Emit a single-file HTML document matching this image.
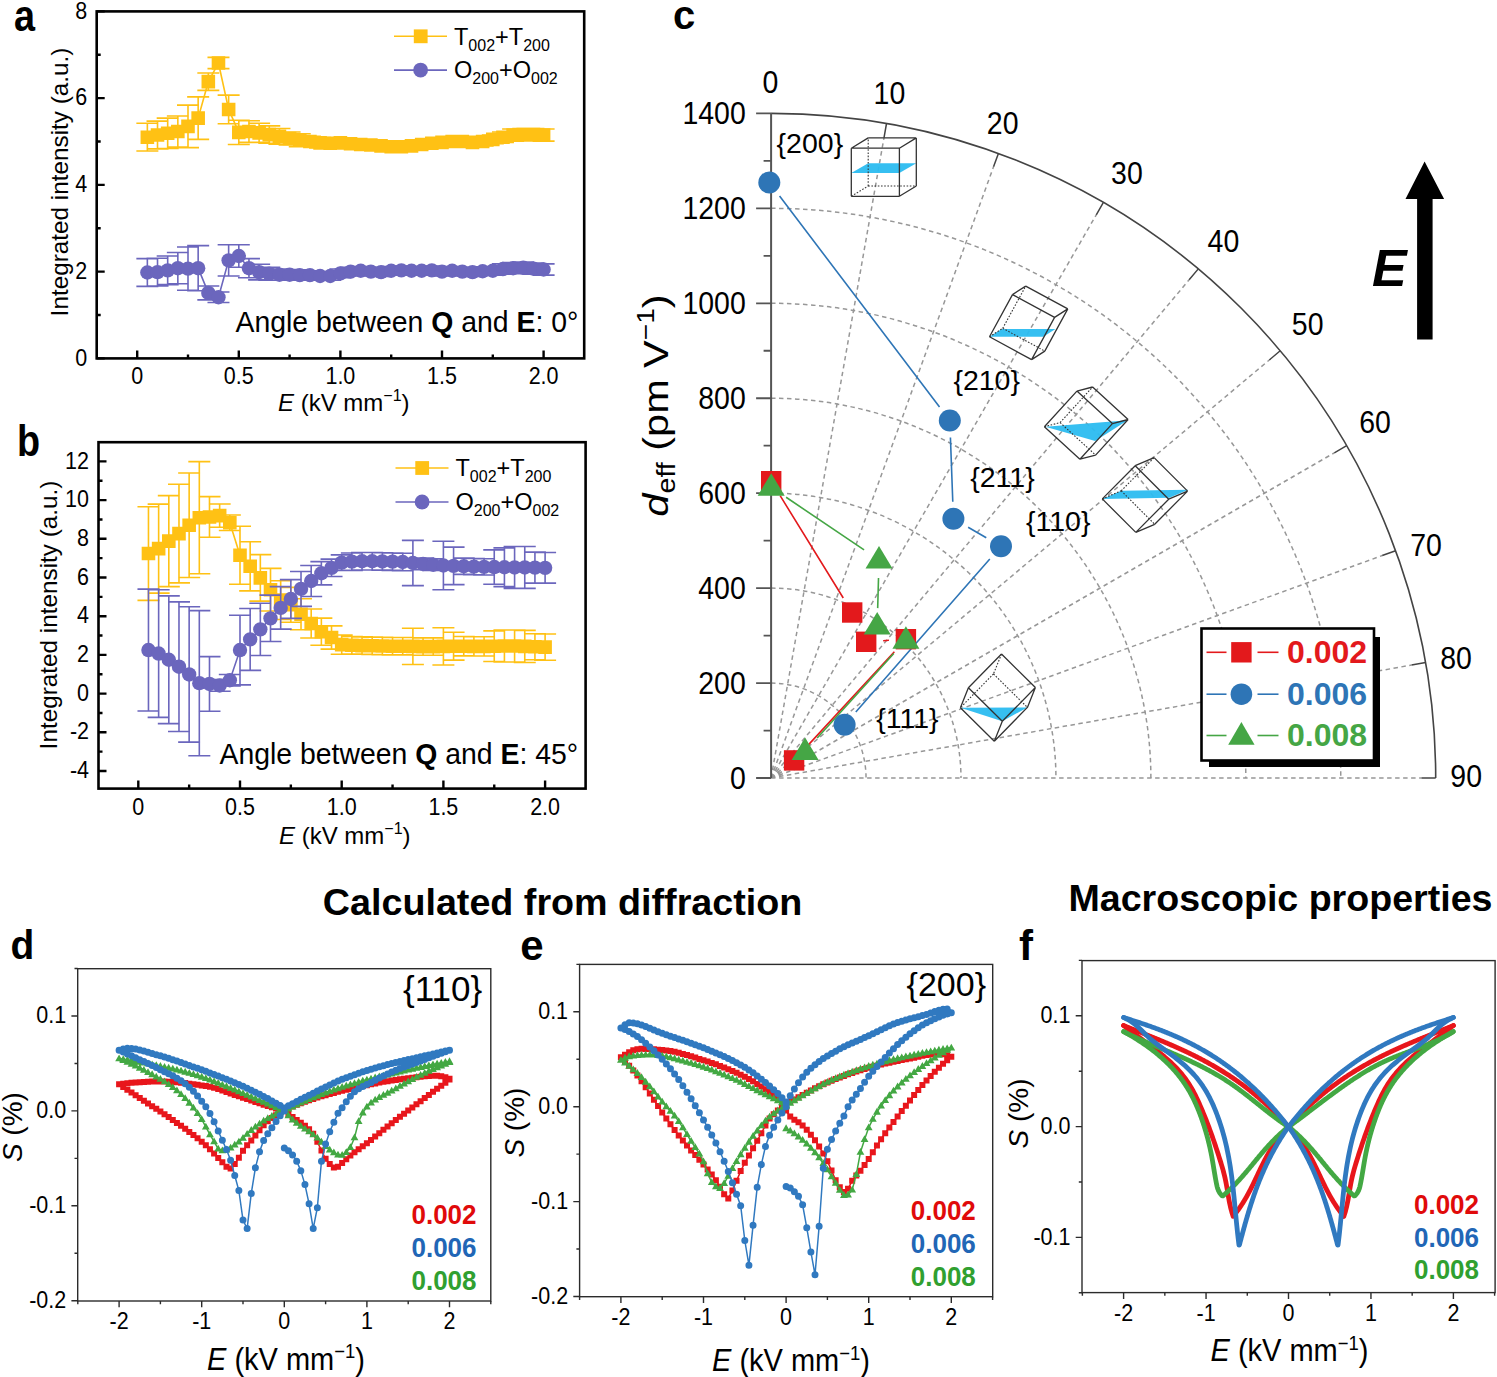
<!DOCTYPE html>
<html><head><meta charset="utf-8"><style>
html,body{margin:0;padding:0;background:#fff;}
svg{display:block;}
svg text{font-family:"Liberation Sans",sans-serif;}
</style></head><body>
<svg width="1497" height="1377" viewBox="0 0 1497 1377">
<rect width="1497" height="1377" fill="#fff"/>
<path d="M147.36,123.31V151.07M136.36,123.31h22M136.36,151.07h22M157.52,121.14V148.9M146.52,121.14h22M146.52,148.9h22M167.68,118.1V148.46M156.68,118.1h22M156.68,148.46h22M177.84,115.93V147.16M166.84,115.93h22M166.84,147.16h22M188,105.09V147.6M177,105.09h22M177,147.6h22M198.16,96.85V139.36M187.16,96.85h22M187.16,139.36h22M208.32,72.99V90.34M197.32,72.99h22M197.32,90.34h22M218.48,57.38V68.66M207.48,57.38h22M207.48,68.66h22M228.64,95.11V123.74M217.64,95.11h22M217.64,123.74h22M238.8,120.27V144.56M227.8,120.27h22M227.8,144.56h22M248.96,120.7V142.39M237.96,120.7h22M237.96,142.39h22M259.12,123.31V142.39M248.12,123.31h22M248.12,142.39h22M269.28,125.91V143.26M258.28,125.91h22M258.28,143.26h22M279.44,128.51V144.13M268.44,128.51h22M268.44,144.13h22M289.6,131.98V144.99M278.6,131.98h22M278.6,144.99h22M299.76,133.72V146.73M288.76,133.72h22M288.76,146.73h22M309.92,136.32V146.73M298.92,136.32h22M298.92,146.73h22M320.08,137.62V148.03M309.08,137.62h22M309.08,148.03h22M330.24,138.92V147.6M319.24,138.92h22M319.24,147.6h22M340.4,138.49V147.16M329.4,138.49h22M329.4,147.16h22M350.56,139.36V148.03M339.56,139.36h22M339.56,148.03h22M360.72,140.22V148.9M349.72,140.22h22M349.72,148.9h22M370.88,140.66V149.33M359.88,140.66h22M359.88,149.33h22M381.04,141.52V150.2M370.04,141.52h22M370.04,150.2h22M391.2,142.39V151.07M380.2,142.39h22M380.2,151.07h22M401.36,142.39V151.07M390.36,142.39h22M390.36,151.07h22M411.52,141.52V150.2M400.52,141.52h22M400.52,150.2h22M421.68,140.22V148.9M410.68,140.22h22M410.68,148.9h22M431.84,138.92V147.6M420.84,138.92h22M420.84,147.6h22M442,138.05V146.73M431,138.05h22M431,146.73h22M452.16,137.19V145.86M441.16,137.19h22M441.16,145.86h22M462.32,137.19V145.86M451.32,137.19h22M451.32,145.86h22M472.48,138.05V146.73M461.48,138.05h22M461.48,146.73h22M482.64,137.19V145.86M471.64,137.19h22M471.64,145.86h22M492.8,135.02V143.69M481.8,135.02h22M481.8,143.69h22M502.96,131.98V142.39M491.96,131.98h22M491.96,142.39h22M513.12,128.95V141.09M502.12,128.95h22M502.12,141.09h22M523.28,128.51V140.66M512.28,128.51h22M512.28,140.66h22M533.44,128.51V140.66M522.44,128.51h22M522.44,140.66h22M543.6,128.95V141.09M532.6,128.95h22M532.6,141.09h22" stroke="#FFC114" stroke-width="1.6" fill="none"/>
<polyline points="147.36,137.19 157.52,135.02 167.68,133.28 177.84,131.55 188,126.34 198.16,118.1 208.32,81.67 218.48,63.02 228.64,109.43 238.8,132.42 248.96,131.55 259.12,132.85 269.28,134.58 279.44,136.32 289.6,138.49 299.76,140.22 309.92,141.52 320.08,142.83 330.24,143.26 340.4,142.83 350.56,143.69 360.72,144.56 370.88,144.99 381.04,145.86 391.2,146.73 401.36,146.73 411.52,145.86 421.68,144.56 431.84,143.26 442,142.39 452.16,141.52 462.32,141.52 472.48,142.39 482.64,141.52 492.8,139.36 502.96,137.19 513.12,135.02 523.28,134.58 533.44,134.58 543.6,135.02" stroke="#FFC114" fill="none" stroke-width="1.6" />
<path d="M140.56,130.39h13.6v13.6h-13.6zM150.72,128.22h13.6v13.6h-13.6zM160.88,126.48h13.6v13.6h-13.6zM171.04,124.75h13.6v13.6h-13.6zM181.2,119.54h13.6v13.6h-13.6zM191.36,111.3h13.6v13.6h-13.6zM201.52,74.87h13.6v13.6h-13.6zM211.68,56.22h13.6v13.6h-13.6zM221.84,102.63h13.6v13.6h-13.6zM232,125.62h13.6v13.6h-13.6zM242.16,124.75h13.6v13.6h-13.6zM252.32,126.05h13.6v13.6h-13.6zM262.48,127.78h13.6v13.6h-13.6zM272.64,129.52h13.6v13.6h-13.6zM282.8,131.69h13.6v13.6h-13.6zM292.96,133.42h13.6v13.6h-13.6zM303.12,134.72h13.6v13.6h-13.6zM313.28,136.03h13.6v13.6h-13.6zM323.44,136.46h13.6v13.6h-13.6zM333.6,136.03h13.6v13.6h-13.6zM343.76,136.89h13.6v13.6h-13.6zM353.92,137.76h13.6v13.6h-13.6zM364.08,138.19h13.6v13.6h-13.6zM374.24,139.06h13.6v13.6h-13.6zM384.4,139.93h13.6v13.6h-13.6zM394.56,139.93h13.6v13.6h-13.6zM404.72,139.06h13.6v13.6h-13.6zM414.88,137.76h13.6v13.6h-13.6zM425.04,136.46h13.6v13.6h-13.6zM435.2,135.59h13.6v13.6h-13.6zM445.36,134.72h13.6v13.6h-13.6zM455.52,134.72h13.6v13.6h-13.6zM465.68,135.59h13.6v13.6h-13.6zM475.84,134.72h13.6v13.6h-13.6zM486,132.56h13.6v13.6h-13.6zM496.16,130.39h13.6v13.6h-13.6zM506.32,128.22h13.6v13.6h-13.6zM516.48,127.78h13.6v13.6h-13.6zM526.64,127.78h13.6v13.6h-13.6zM536.8,128.22h13.6v13.6h-13.6z" fill="#FFC114"/>
<path d="M147.36,258.64V286.4M136.36,258.64h22M136.36,286.4h22M157.52,258.2V285.96M146.52,258.2h22M146.52,285.96h22M167.68,256.03V284.66M156.68,256.03h22M156.68,284.66h22M177.84,252.56V283.79M166.84,252.56h22M166.84,283.79h22M188,246.93V290.3M177,246.93h22M177,290.3h22M198.16,245.62V290.73M187.16,245.62h22M187.16,290.73h22M208.32,285.96V299.84M197.32,285.96h22M197.32,299.84h22M218.48,292.04V302.45M207.48,292.04h22M207.48,302.45h22M228.64,244.76V275.99M217.64,244.76h22M217.64,275.99h22M238.8,244.76V267.31M227.8,244.76h22M227.8,267.31h22M248.96,258.64V277.72M237.96,258.64h22M237.96,277.72h22M259.12,264.28V279.89M248.12,264.28h22M248.12,279.89h22M269.28,267.31V280.32M258.28,267.31h22M258.28,280.32h22M279.44,269.05V280.32M268.44,269.05h22M268.44,280.32h22M289.6,269.48V279.89M278.6,269.48h22M278.6,279.89h22M299.76,269.92V280.32M288.76,269.92h22M288.76,280.32h22M309.92,270.78V279.46M298.92,270.78h22M298.92,279.46h22M320.08,271.65V280.32M309.08,271.65h22M309.08,280.32h22M330.24,271.65V280.32M319.24,271.65h22M319.24,280.32h22M340.4,269.05V277.72M329.4,269.05h22M329.4,277.72h22M350.56,267.31V275.99M339.56,267.31h22M339.56,275.99h22M360.72,266.44V275.12M349.72,266.44h22M349.72,275.12h22M370.88,267.31V275.99M359.88,267.31h22M359.88,275.99h22M381.04,267.75V276.42M370.04,267.75h22M370.04,276.42h22M391.2,266.44V275.12M380.2,266.44h22M380.2,275.12h22M401.36,266.01V274.69M390.36,266.01h22M390.36,274.69h22M411.52,266.44V275.12M400.52,266.44h22M400.52,275.12h22M421.68,266.44V275.12M410.68,266.44h22M410.68,275.12h22M431.84,266.01V274.69M420.84,266.01h22M420.84,274.69h22M442,267.31V275.99M431,267.31h22M431,275.99h22M452.16,266.44V275.12M441.16,266.44h22M441.16,275.12h22M462.32,267.31V275.99M451.32,267.31h22M451.32,275.99h22M472.48,267.75V276.42M461.48,267.75h22M461.48,276.42h22M482.64,266.88V275.55M471.64,266.88h22M471.64,275.55h22M492.8,266.44V275.12M481.8,266.44h22M481.8,275.12h22M502.96,263.84V274.25M491.96,263.84h22M491.96,274.25h22M513.12,262.54V273.82M502.12,262.54h22M502.12,273.82h22M523.28,262.11V273.38M512.28,262.11h22M512.28,273.38h22M533.44,262.97V274.25M522.44,262.97h22M522.44,274.25h22M543.6,263.84V275.12M532.6,263.84h22M532.6,275.12h22" stroke="#6B66BD" stroke-width="1.6" fill="none"/>
<polyline points="147.36,272.52 157.52,272.08 167.68,270.35 177.84,268.18 188,268.61 198.16,268.18 208.32,292.9 218.48,297.24 228.64,260.37 238.8,256.03 248.96,268.18 259.12,272.08 269.28,273.82 279.44,274.69 289.6,274.69 299.76,275.12 309.92,275.12 320.08,275.99 330.24,275.99 340.4,273.38 350.56,271.65 360.72,270.78 370.88,271.65 381.04,272.08 391.2,270.78 401.36,270.35 411.52,270.78 421.68,270.78 431.84,270.35 442,271.65 452.16,270.78 462.32,271.65 472.48,272.08 482.64,271.22 492.8,270.78 502.96,269.05 513.12,268.18 523.28,267.75 533.44,268.61 543.6,269.48" stroke="#6B66BD" fill="none" stroke-width="1.6" />
<circle cx="147.36" cy="272.52" r="7.2" fill="#6B66BD"/>
<circle cx="157.52" cy="272.08" r="7.2" fill="#6B66BD"/>
<circle cx="167.68" cy="270.35" r="7.2" fill="#6B66BD"/>
<circle cx="177.84" cy="268.18" r="7.2" fill="#6B66BD"/>
<circle cx="188" cy="268.61" r="7.2" fill="#6B66BD"/>
<circle cx="198.16" cy="268.18" r="7.2" fill="#6B66BD"/>
<circle cx="208.32" cy="292.9" r="7.2" fill="#6B66BD"/>
<circle cx="218.48" cy="297.24" r="7.2" fill="#6B66BD"/>
<circle cx="228.64" cy="260.37" r="7.2" fill="#6B66BD"/>
<circle cx="238.8" cy="256.03" r="7.2" fill="#6B66BD"/>
<circle cx="248.96" cy="268.18" r="7.2" fill="#6B66BD"/>
<circle cx="259.12" cy="272.08" r="7.2" fill="#6B66BD"/>
<circle cx="269.28" cy="273.82" r="7.2" fill="#6B66BD"/>
<circle cx="279.44" cy="274.69" r="7.2" fill="#6B66BD"/>
<circle cx="289.6" cy="274.69" r="7.2" fill="#6B66BD"/>
<circle cx="299.76" cy="275.12" r="7.2" fill="#6B66BD"/>
<circle cx="309.92" cy="275.12" r="7.2" fill="#6B66BD"/>
<circle cx="320.08" cy="275.99" r="7.2" fill="#6B66BD"/>
<circle cx="330.24" cy="275.99" r="7.2" fill="#6B66BD"/>
<circle cx="340.4" cy="273.38" r="7.2" fill="#6B66BD"/>
<circle cx="350.56" cy="271.65" r="7.2" fill="#6B66BD"/>
<circle cx="360.72" cy="270.78" r="7.2" fill="#6B66BD"/>
<circle cx="370.88" cy="271.65" r="7.2" fill="#6B66BD"/>
<circle cx="381.04" cy="272.08" r="7.2" fill="#6B66BD"/>
<circle cx="391.2" cy="270.78" r="7.2" fill="#6B66BD"/>
<circle cx="401.36" cy="270.35" r="7.2" fill="#6B66BD"/>
<circle cx="411.52" cy="270.78" r="7.2" fill="#6B66BD"/>
<circle cx="421.68" cy="270.78" r="7.2" fill="#6B66BD"/>
<circle cx="431.84" cy="270.35" r="7.2" fill="#6B66BD"/>
<circle cx="442" cy="271.65" r="7.2" fill="#6B66BD"/>
<circle cx="452.16" cy="270.78" r="7.2" fill="#6B66BD"/>
<circle cx="462.32" cy="271.65" r="7.2" fill="#6B66BD"/>
<circle cx="472.48" cy="272.08" r="7.2" fill="#6B66BD"/>
<circle cx="482.64" cy="271.22" r="7.2" fill="#6B66BD"/>
<circle cx="492.8" cy="270.78" r="7.2" fill="#6B66BD"/>
<circle cx="502.96" cy="269.05" r="7.2" fill="#6B66BD"/>
<circle cx="513.12" cy="268.18" r="7.2" fill="#6B66BD"/>
<circle cx="523.28" cy="267.75" r="7.2" fill="#6B66BD"/>
<circle cx="533.44" cy="268.61" r="7.2" fill="#6B66BD"/>
<circle cx="543.6" cy="269.48" r="7.2" fill="#6B66BD"/>
<rect x="96.7" y="11.4" width="487.5" height="347" fill="none" stroke="#000" stroke-width="2.6"/>
<path d="M137.2,358.4v-8M188,358.4v-4M238.8,358.4v-8M289.6,358.4v-4M340.4,358.4v-8M391.2,358.4v-4M442,358.4v-8M492.8,358.4v-4M543.6,358.4v-8M96.7,358.4h8M96.7,271.65h8M96.7,184.9h8M96.7,98.15h8M96.7,11.4h8M96.7,315.02h4M96.7,228.27h4M96.7,141.52h4M96.7,54.77h4" stroke="#000" stroke-width="2.4" fill="none"/>
<text x="137.2" y="384.5" font-size="21.5" text-anchor="middle" transform="matrix(1,0,0,1.1,0,-38.45)">0</text>
<text x="238.8" y="384.5" font-size="21.5" text-anchor="middle" transform="matrix(1,0,0,1.1,0,-38.45)">0.5</text>
<text x="340.4" y="384.5" font-size="21.5" text-anchor="middle" transform="matrix(1,0,0,1.1,0,-38.45)">1.0</text>
<text x="442" y="384.5" font-size="21.5" text-anchor="middle" transform="matrix(1,0,0,1.1,0,-38.45)">1.5</text>
<text x="543.6" y="384.5" font-size="21.5" text-anchor="middle" transform="matrix(1,0,0,1.1,0,-38.45)">2.0</text>
<text x="87.2" y="365.6" font-size="21.5" text-anchor="end" transform="matrix(1,0,0,1.1,0,-36.56)">0</text>
<text x="87.2" y="278.85" font-size="21.5" text-anchor="end" transform="matrix(1,0,0,1.1,0,-27.89)">2</text>
<text x="87.2" y="192.1" font-size="21.5" text-anchor="end" transform="matrix(1,0,0,1.1,0,-19.21)">4</text>
<text x="87.2" y="105.35" font-size="21.5" text-anchor="end" transform="matrix(1,0,0,1.1,0,-10.54)">6</text>
<text x="87.2" y="18.6" font-size="21.5" text-anchor="end" transform="matrix(1,0,0,1.1,0,-1.86)">8</text>
<text transform="translate(67.5,182) rotate(-90)" font-size="24.3" text-anchor="middle">Integrated intensity (a.u.)</text>
<text x="278" y="410.5" font-size="24"><tspan font-style="italic">E</tspan> (kV mm<tspan font-size="16" dy="-10">&#8722;1</tspan><tspan dy="10">)</tspan></text>
<line x1="394" y1="36.3" x2="447" y2="36.3" stroke="#FFC114" stroke-width="1.6" />
<rect x="413.8" y="29.4" width="13.8" height="13.8" fill="#FFC114"/>
<text x="454" y="44.6" font-size="23.5">T<tspan font-size="16" dy="6">002</tspan><tspan dy="-6">+T</tspan><tspan font-size="16" dy="6">200</tspan></text>
<line x1="394" y1="70.1" x2="447" y2="70.1" stroke="#6B66BD" stroke-width="1.6" />
<circle cx="420.6" cy="70.1" r="7.4" fill="#6B66BD"/>
<text x="454" y="78.4" font-size="23.5">O<tspan font-size="16" dy="6">200</tspan><tspan dy="-6">+O</tspan><tspan font-size="16" dy="6">002</tspan></text>
<text x="235.5" y="332.5" font-size="28.4" transform="matrix(1,0,0,1.07,0,-23.28)">Angle between <tspan font-weight="bold">Q</tspan> and <tspan font-weight="bold">E</tspan>: 0°</text>
<text x="14" y="30.6" font-size="44" font-weight="bold" transform="translate(14,0) scale(0.86,1) translate(-14,0)">a</text>
<path d="M148.47,506.68V600.33M137.47,506.68h22M137.47,600.33h22M158.64,504.16V593.17M147.64,504.16h22M147.64,593.17h22M168.81,495.65V586.59M157.81,495.65h22M157.81,586.59h22M178.98,484.23V582.92M167.98,484.23h22M167.98,582.92h22M189.15,473.01V577.5M178.15,473.01h22M178.15,577.5h22M199.32,461.59V573.82M188.32,461.59h22M188.32,573.82h22M209.49,496.62V537.25M198.49,496.62h22M198.49,537.25h22M219.66,503.97V527.19M208.66,503.97h22M208.66,527.19h22M229.83,515V530.48M218.83,515h22M218.83,530.48h22M240,526.22V584.27M229,526.22h22M229,584.27h22M250.17,541.7V590.85M239.17,541.7h22M239.17,590.85h22M260.34,554.67V601.11M249.34,554.67h22M249.34,601.11h22M270.51,568.41V610.98M259.51,568.41h22M259.51,610.98h22M280.68,580.79V619.49M269.68,580.79h22M269.68,619.49h22M290.85,587.37V622.2M279.85,587.37h22M279.85,622.2h22M301.02,598.78V629.75M290.02,598.78h22M290.02,629.75h22M311.19,609.04V638.07M300.19,609.04h22M300.19,638.07h22M321.36,618.14V645.23M310.36,618.14h22M310.36,645.23h22M331.53,625.88V649.1M320.53,625.88h22M320.53,649.1h22M341.7,634.97V654.32M330.7,634.97h22M330.7,654.32h22M351.87,636.52V653.93M340.87,636.52h22M340.87,653.93h22M362.04,636.9V654.32M351.04,636.9h22M351.04,654.32h22M372.21,637.1V654.51M361.21,637.1h22M361.21,654.51h22M382.38,637.29V654.71M371.38,637.29h22M371.38,654.71h22M392.55,637.49V654.9M381.55,637.49h22M381.55,654.9h22M402.72,637.49V654.9M391.72,637.49h22M391.72,654.9h22M412.89,628.2V664.57M401.89,628.2h22M401.89,664.57h22M423.06,637.87V655.29M412.06,637.87h22M412.06,655.29h22M433.23,637.87V655.29M422.23,637.87h22M422.23,655.29h22M443.4,627.81V664.96M432.4,627.81h22M432.4,664.96h22M453.57,632.26V660.12M442.57,632.26h22M442.57,660.12h22M463.74,636.52V655.87M452.74,636.52h22M452.74,655.87h22M473.91,636.71V656.06M462.91,636.71h22M462.91,656.06h22M484.08,636.71V656.06M473.08,636.71h22M473.08,656.06h22M494.25,630.91V661.48M483.25,630.91h22M483.25,661.48h22M504.42,629.94V662.06M493.42,629.94h22M493.42,662.06h22M514.59,629.94V662.06M503.59,629.94h22M503.59,662.06h22M524.76,630.33V662.45M513.76,630.33h22M513.76,662.45h22M534.93,633.81V659.74M523.93,633.81h22M523.93,659.74h22M545.1,634V660.32M534.1,634h22M534.1,660.32h22" stroke="#FFC114" stroke-width="1.6" fill="none"/>
<polyline points="148.47,553.51 158.64,548.67 168.81,541.12 178.98,533.58 189.15,525.25 199.32,517.71 209.49,516.93 219.66,515.58 229.83,522.74 240,555.25 250.17,566.28 260.34,577.89 270.51,589.69 280.68,600.14 290.85,604.78 301.02,614.26 311.19,623.55 321.36,631.68 331.53,637.49 341.7,644.64 351.87,645.23 362.04,645.61 372.21,645.81 382.38,646 392.55,646.19 402.72,646.19 412.89,646.39 423.06,646.58 433.23,646.58 443.4,646.39 453.57,646.19 463.74,646.19 473.91,646.39 484.08,646.39 494.25,646.19 504.42,646 514.59,646 524.76,646.39 534.93,646.77 545.1,647.16" stroke="#FFC114" fill="none" stroke-width="1.6" />
<path d="M141.67,546.71h13.6v13.6h-13.6zM151.84,541.87h13.6v13.6h-13.6zM162.01,534.32h13.6v13.6h-13.6zM172.18,526.78h13.6v13.6h-13.6zM182.35,518.46h13.6v13.6h-13.6zM192.52,510.91h13.6v13.6h-13.6zM202.69,510.13h13.6v13.6h-13.6zM212.86,508.78h13.6v13.6h-13.6zM223.03,515.94h13.6v13.6h-13.6zM233.2,548.45h13.6v13.6h-13.6zM243.37,559.48h13.6v13.6h-13.6zM253.54,571.09h13.6v13.6h-13.6zM263.71,582.89h13.6v13.6h-13.6zM273.88,593.34h13.6v13.6h-13.6zM284.05,597.98h13.6v13.6h-13.6zM294.22,607.47h13.6v13.6h-13.6zM304.39,616.75h13.6v13.6h-13.6zM314.56,624.88h13.6v13.6h-13.6zM324.73,630.69h13.6v13.6h-13.6zM334.9,637.84h13.6v13.6h-13.6zM345.07,638.43h13.6v13.6h-13.6zM355.24,638.81h13.6v13.6h-13.6zM365.41,639.01h13.6v13.6h-13.6zM375.58,639.2h13.6v13.6h-13.6zM385.75,639.39h13.6v13.6h-13.6zM395.92,639.39h13.6v13.6h-13.6zM406.09,639.59h13.6v13.6h-13.6zM416.26,639.78h13.6v13.6h-13.6zM426.43,639.78h13.6v13.6h-13.6zM436.6,639.59h13.6v13.6h-13.6zM446.77,639.39h13.6v13.6h-13.6zM456.94,639.39h13.6v13.6h-13.6zM467.11,639.59h13.6v13.6h-13.6zM477.28,639.59h13.6v13.6h-13.6zM487.45,639.39h13.6v13.6h-13.6zM497.62,639.2h13.6v13.6h-13.6zM507.79,639.2h13.6v13.6h-13.6zM517.96,639.59h13.6v13.6h-13.6zM528.13,639.97h13.6v13.6h-13.6zM538.3,640.36h13.6v13.6h-13.6z" fill="#FFC114"/>
<path d="M148.47,589.11V711.01M137.47,589.11h22M137.47,711.01h22M158.64,589.69V717.4M147.64,589.69h22M147.64,717.4h22M168.81,595.88V723.59M157.81,595.88h22M157.81,723.59h22M178.98,601.88V731.53M167.98,601.88h22M167.98,731.53h22M189.15,606.72V742.17M178.15,606.72h22M178.15,742.17h22M199.32,610.59V755.71M188.32,610.59h22M188.32,755.71h22M209.49,656.64V711.21M198.49,656.64h22M198.49,711.21h22M219.66,679.67V691.28M208.66,679.67h22M208.66,691.28h22M229.83,674.44V686.05M218.83,674.44h22M218.83,686.05h22M240,615.23V684.89M229,615.23h22M229,684.89h22M250.17,608.46V670.38M239.17,608.46h22M239.17,670.38h22M260.34,603.24V655.48M249.34,603.24h22M249.34,655.48h22M270.51,595.11V641.55M259.51,595.11h22M259.51,641.55h22M280.68,586.59V629.16M269.68,586.59h22M269.68,629.16h22M290.85,579.63V618.33M279.85,579.63h22M279.85,618.33h22M301.02,571.5V606.33M290.02,571.5h22M290.02,606.33h22M311.19,565.5V596.46M300.19,565.5h22M300.19,596.46h22M321.36,561.63V584.85M310.36,561.63h22M310.36,584.85h22M331.53,559.12V576.53M320.53,559.12h22M320.53,576.53h22M341.7,554.86V570.34M330.7,554.86h22M330.7,570.34h22M351.87,552.93V570.34M340.87,552.93h22M340.87,570.34h22M362.04,552.54V569.95M351.04,552.54h22M351.04,569.95h22M372.21,552.54V569.95M361.21,552.54h22M361.21,569.95h22M382.38,552.73V570.15M371.38,552.73h22M371.38,570.15h22M392.55,552.93V570.34M381.55,552.93h22M381.55,570.34h22M402.72,553.31V570.73M391.72,553.31h22M391.72,570.73h22M412.89,540.35V585.63M401.89,540.35h22M401.89,585.63h22M423.06,558.15V569.76M412.06,558.15h22M412.06,569.76h22M433.23,558.92V570.53M422.23,558.92h22M422.23,570.53h22M443.4,541.32V589.69M432.4,541.32h22M432.4,589.69h22M453.57,547.12V584.66M442.57,547.12h22M442.57,584.66h22M463.74,558.15V574.4M452.74,558.15h22M452.74,574.4h22M473.91,558.54V574.79M462.91,558.54h22M462.91,574.79h22M484.08,558.73V574.98M473.08,558.73h22M473.08,574.98h22M494.25,549.83V584.27M483.25,549.83h22M483.25,584.27h22M504.42,547.89V586.59M493.42,547.89h22M493.42,586.59h22M514.59,546.54V588.34M503.59,546.54h22M503.59,588.34h22M524.76,546.54V588.34M513.76,546.54h22M513.76,588.34h22M534.93,552.15V583.11M523.93,552.15h22M523.93,583.11h22M545.1,552.54V583.11M534.1,552.54h22M534.1,583.11h22" stroke="#6B66BD" stroke-width="1.6" fill="none"/>
<polyline points="148.47,650.06 158.64,653.55 168.81,659.74 178.98,666.7 189.15,674.44 199.32,683.15 209.49,683.93 219.66,685.47 229.83,680.25 240,650.06 250.17,639.42 260.34,629.36 270.51,618.33 280.68,607.88 290.85,598.98 301.02,588.92 311.19,580.98 321.36,573.24 331.53,567.83 341.7,562.6 351.87,561.63 362.04,561.25 372.21,561.25 382.38,561.44 392.55,561.63 402.72,562.02 412.89,562.99 423.06,563.96 433.23,564.73 443.4,565.5 453.57,565.89 463.74,566.28 473.91,566.66 484.08,566.86 494.25,567.05 504.42,567.24 514.59,567.44 524.76,567.44 534.93,567.63 545.1,567.83" stroke="#6B66BD" fill="none" stroke-width="1.6" />
<circle cx="148.47" cy="650.06" r="7.2" fill="#6B66BD"/>
<circle cx="158.64" cy="653.55" r="7.2" fill="#6B66BD"/>
<circle cx="168.81" cy="659.74" r="7.2" fill="#6B66BD"/>
<circle cx="178.98" cy="666.7" r="7.2" fill="#6B66BD"/>
<circle cx="189.15" cy="674.44" r="7.2" fill="#6B66BD"/>
<circle cx="199.32" cy="683.15" r="7.2" fill="#6B66BD"/>
<circle cx="209.49" cy="683.93" r="7.2" fill="#6B66BD"/>
<circle cx="219.66" cy="685.47" r="7.2" fill="#6B66BD"/>
<circle cx="229.83" cy="680.25" r="7.2" fill="#6B66BD"/>
<circle cx="240" cy="650.06" r="7.2" fill="#6B66BD"/>
<circle cx="250.17" cy="639.42" r="7.2" fill="#6B66BD"/>
<circle cx="260.34" cy="629.36" r="7.2" fill="#6B66BD"/>
<circle cx="270.51" cy="618.33" r="7.2" fill="#6B66BD"/>
<circle cx="280.68" cy="607.88" r="7.2" fill="#6B66BD"/>
<circle cx="290.85" cy="598.98" r="7.2" fill="#6B66BD"/>
<circle cx="301.02" cy="588.92" r="7.2" fill="#6B66BD"/>
<circle cx="311.19" cy="580.98" r="7.2" fill="#6B66BD"/>
<circle cx="321.36" cy="573.24" r="7.2" fill="#6B66BD"/>
<circle cx="331.53" cy="567.83" r="7.2" fill="#6B66BD"/>
<circle cx="341.7" cy="562.6" r="7.2" fill="#6B66BD"/>
<circle cx="351.87" cy="561.63" r="7.2" fill="#6B66BD"/>
<circle cx="362.04" cy="561.25" r="7.2" fill="#6B66BD"/>
<circle cx="372.21" cy="561.25" r="7.2" fill="#6B66BD"/>
<circle cx="382.38" cy="561.44" r="7.2" fill="#6B66BD"/>
<circle cx="392.55" cy="561.63" r="7.2" fill="#6B66BD"/>
<circle cx="402.72" cy="562.02" r="7.2" fill="#6B66BD"/>
<circle cx="412.89" cy="562.99" r="7.2" fill="#6B66BD"/>
<circle cx="423.06" cy="563.96" r="7.2" fill="#6B66BD"/>
<circle cx="433.23" cy="564.73" r="7.2" fill="#6B66BD"/>
<circle cx="443.4" cy="565.5" r="7.2" fill="#6B66BD"/>
<circle cx="453.57" cy="565.89" r="7.2" fill="#6B66BD"/>
<circle cx="463.74" cy="566.28" r="7.2" fill="#6B66BD"/>
<circle cx="473.91" cy="566.66" r="7.2" fill="#6B66BD"/>
<circle cx="484.08" cy="566.86" r="7.2" fill="#6B66BD"/>
<circle cx="494.25" cy="567.05" r="7.2" fill="#6B66BD"/>
<circle cx="504.42" cy="567.24" r="7.2" fill="#6B66BD"/>
<circle cx="514.59" cy="567.44" r="7.2" fill="#6B66BD"/>
<circle cx="524.76" cy="567.44" r="7.2" fill="#6B66BD"/>
<circle cx="534.93" cy="567.63" r="7.2" fill="#6B66BD"/>
<circle cx="545.1" cy="567.83" r="7.2" fill="#6B66BD"/>
<rect x="98.5" y="442.2" width="487.1" height="346.4" fill="none" stroke="#000" stroke-width="2.6"/>
<path d="M138.3,788.6v-8M189.15,788.6v-4M240,788.6v-8M290.85,788.6v-4M341.7,788.6v-8M392.55,788.6v-4M443.4,788.6v-8M494.25,788.6v-4M545.1,788.6v-8M98.5,771h8M98.5,732.3h8M98.5,693.6h8M98.5,654.9h8M98.5,616.2h8M98.5,577.5h8M98.5,538.8h8M98.5,500.1h8M98.5,461.4h8M98.5,751.65h4M98.5,712.95h4M98.5,674.25h4M98.5,635.55h4M98.5,596.85h4M98.5,558.15h4M98.5,519.45h4M98.5,480.75h4" stroke="#000" stroke-width="2.4" fill="none"/>
<text x="138.3" y="814.7" font-size="21.5" text-anchor="middle" transform="matrix(1,0,0,1.1,0,-81.47)">0</text>
<text x="240" y="814.7" font-size="21.5" text-anchor="middle" transform="matrix(1,0,0,1.1,0,-81.47)">0.5</text>
<text x="341.7" y="814.7" font-size="21.5" text-anchor="middle" transform="matrix(1,0,0,1.1,0,-81.47)">1.0</text>
<text x="443.4" y="814.7" font-size="21.5" text-anchor="middle" transform="matrix(1,0,0,1.1,0,-81.47)">1.5</text>
<text x="545.1" y="814.7" font-size="21.5" text-anchor="middle" transform="matrix(1,0,0,1.1,0,-81.47)">2.0</text>
<text x="89" y="778.2" font-size="21.5" text-anchor="end" transform="matrix(1,0,0,1.1,0,-77.82)">-4</text>
<text x="89" y="739.5" font-size="21.5" text-anchor="end" transform="matrix(1,0,0,1.1,0,-73.95)">-2</text>
<text x="89" y="700.8" font-size="21.5" text-anchor="end" transform="matrix(1,0,0,1.1,0,-70.08)">0</text>
<text x="89" y="662.1" font-size="21.5" text-anchor="end" transform="matrix(1,0,0,1.1,0,-66.21)">2</text>
<text x="89" y="623.4" font-size="21.5" text-anchor="end" transform="matrix(1,0,0,1.1,0,-62.34)">4</text>
<text x="89" y="584.7" font-size="21.5" text-anchor="end" transform="matrix(1,0,0,1.1,0,-58.47)">6</text>
<text x="89" y="546" font-size="21.5" text-anchor="end" transform="matrix(1,0,0,1.1,0,-54.6)">8</text>
<text x="89" y="507.3" font-size="21.5" text-anchor="end" transform="matrix(1,0,0,1.1,0,-50.73)">10</text>
<text x="89" y="468.6" font-size="21.5" text-anchor="end" transform="matrix(1,0,0,1.1,0,-46.86)">12</text>
<text transform="translate(56.5,615) rotate(-90)" font-size="24.3" text-anchor="middle">Integrated intensity (a.u.)</text>
<text x="279" y="843.5" font-size="24"><tspan font-style="italic">E</tspan> (kV mm<tspan font-size="16" dy="-10">&#8722;1</tspan><tspan dy="10">)</tspan></text>
<line x1="395.5" y1="468" x2="448.5" y2="468" stroke="#FFC114" stroke-width="1.6" />
<rect x="415.3" y="461.1" width="13.8" height="13.8" fill="#FFC114"/>
<text x="455.5" y="476.3" font-size="23.5">T<tspan font-size="16" dy="6">002</tspan><tspan dy="-6">+T</tspan><tspan font-size="16" dy="6">200</tspan></text>
<line x1="395.5" y1="502" x2="448.5" y2="502" stroke="#6B66BD" stroke-width="1.6" />
<circle cx="422.1" cy="502" r="7.4" fill="#6B66BD"/>
<text x="455.5" y="510.3" font-size="23.5">O<tspan font-size="16" dy="6">200</tspan><tspan dy="-6">+O</tspan><tspan font-size="16" dy="6">002</tspan></text>
<text x="219.5" y="764.5" font-size="28.4" transform="matrix(1,0,0,1.07,0,-53.52)">Angle between <tspan font-weight="bold">Q</tspan> and <tspan font-weight="bold">E</tspan>: 45°</text>
<text x="17" y="456" font-size="44" font-weight="bold" transform="translate(17,0) scale(0.86,1) translate(-17,0)">b</text>
<path d="M771.1,683.06A94.94,94.94 0 0 1 866.04,778" fill="none" stroke="#979797" stroke-width="1.5" stroke-dasharray="4.5 3.5"/>
<path d="M771.1,588.11A189.89,189.89 0 0 1 960.99,778" fill="none" stroke="#979797" stroke-width="1.5" stroke-dasharray="4.5 3.5"/>
<path d="M771.1,493.17A284.83,284.83 0 0 1 1055.93,778" fill="none" stroke="#979797" stroke-width="1.5" stroke-dasharray="4.5 3.5"/>
<path d="M771.1,398.23A379.77,379.77 0 0 1 1150.87,778" fill="none" stroke="#979797" stroke-width="1.5" stroke-dasharray="4.5 3.5"/>
<path d="M771.1,303.29A474.71,474.71 0 0 1 1245.81,778" fill="none" stroke="#979797" stroke-width="1.5" stroke-dasharray="4.5 3.5"/>
<path d="M771.1,208.34A569.66,569.66 0 0 1 1340.76,778" fill="none" stroke="#979797" stroke-width="1.5" stroke-dasharray="4.5 3.5"/>
<path d="M771.1,778L884.03,137.52M771.1,778L993.54,166.86M771.1,778L1096.28,214.77M771.1,778L1189.14,279.8M771.1,778L1269.3,359.96M771.1,778L1334.33,452.82M771.1,778L1382.24,555.56M771.1,778L1411.58,665.07M771.1,778L1421.46,778" fill="none" stroke="#979797" stroke-width="1.5" stroke-dasharray="4.5 3.5"/>
<path d="M771.1,113.4A664.6,664.6 0 0 1 1435.7,778" fill="none" stroke="#444" stroke-width="1.6"/>
<path d="M886.51,123.5L884.03,137.52M998.41,153.48L993.54,166.86M1103.4,202.44L1096.28,214.77M1198.3,268.89L1189.14,279.8M1280.21,350.8L1269.3,359.96M1346.66,445.7L1334.33,452.82M1395.62,550.69L1382.24,555.56M1425.6,662.59L1411.58,665.07M1435.7,778L1421.46,778" fill="none" stroke="#444" stroke-width="1.5"/>
<line x1="771.1" y1="778" x2="771.1" y2="113.4" stroke="#555" stroke-width="2" />
<path d="M771.1,778h-15M771.1,730.53h-7.5M771.1,683.06h-15M771.1,635.59h-7.5M771.1,588.11h-15M771.1,540.64h-7.5M771.1,493.17h-15M771.1,445.7h-7.5M771.1,398.23h-15M771.1,350.76h-7.5M771.1,303.29h-15M771.1,255.81h-7.5M771.1,208.34h-15M771.1,160.87h-7.5M771.1,113.4h-15" fill="none" stroke="#555" stroke-width="1.8"/>
<text x="745.8" y="789" font-size="28.5" text-anchor="end" transform="matrix(1,0,0,1.12,0,-94.68)">0</text>
<text x="745.8" y="694.06" font-size="28.5" text-anchor="end" transform="matrix(1,0,0,1.12,0,-83.29)">200</text>
<text x="745.8" y="599.11" font-size="28.5" text-anchor="end" transform="matrix(1,0,0,1.12,0,-71.89)">400</text>
<text x="745.8" y="504.17" font-size="28.5" text-anchor="end" transform="matrix(1,0,0,1.12,0,-60.5)">600</text>
<text x="745.8" y="409.23" font-size="28.5" text-anchor="end" transform="matrix(1,0,0,1.12,0,-49.11)">800</text>
<text x="745.8" y="314.29" font-size="28.5" text-anchor="end" transform="matrix(1,0,0,1.12,0,-37.71)">1000</text>
<text x="745.8" y="219.34" font-size="28.5" text-anchor="end" transform="matrix(1,0,0,1.12,0,-26.32)">1200</text>
<text x="745.8" y="124.4" font-size="28.5" text-anchor="end" transform="matrix(1,0,0,1.12,0,-14.93)">1400</text>
<text x="770.4" y="93.5" font-size="28.5" text-anchor="middle" transform="matrix(1,0,0,1.12,0,-11.22)">0</text>
<text x="889.4" y="103.7" font-size="28.5" text-anchor="middle" transform="matrix(1,0,0,1.12,0,-12.44)">10</text>
<text x="1002.7" y="134.4" font-size="28.5" text-anchor="middle" transform="matrix(1,0,0,1.12,0,-16.13)">20</text>
<text x="1126.9" y="184.4" font-size="28.5" text-anchor="middle" transform="matrix(1,0,0,1.12,0,-22.13)">30</text>
<text x="1223.4" y="252.2" font-size="28.5" text-anchor="middle" transform="matrix(1,0,0,1.12,0,-30.26)">40</text>
<text x="1307.7" y="335.1" font-size="28.5" text-anchor="middle" transform="matrix(1,0,0,1.12,0,-40.21)">50</text>
<text x="1375" y="432.6" font-size="28.5" text-anchor="middle" transform="matrix(1,0,0,1.12,0,-51.91)">60</text>
<text x="1426" y="556.3" font-size="28.5" text-anchor="middle" transform="matrix(1,0,0,1.12,0,-66.76)">70</text>
<text x="1456" y="669.5" font-size="28.5" text-anchor="middle" transform="matrix(1,0,0,1.12,0,-80.34)">80</text>
<text x="1466.2" y="787.2" font-size="28.5" text-anchor="middle" transform="matrix(1,0,0,1.12,0,-94.46)">90</text>
<text transform="translate(667.5,405.5) rotate(-90) scale(1.15,1)" font-size="36" text-anchor="middle"><tspan font-style="italic">d</tspan><tspan font-size="25" dy="7">eff</tspan><tspan dy="-7"> (pm V</tspan><tspan font-size="24.5" dy="-13.5">&#8722;1</tspan><tspan dy="13.5">)</tspan></text>
<polygon points="851.3,173 899.4,173 916.3,163.2 868.2,163.2" stroke="none" fill="#2BBCF0" stroke-width="1" fill-opacity="0.95"/>
<path d="M851.3,196.3L868.2,186M868.2,186L916.3,186M868.2,186L868.2,137.9" fill="none" stroke="#333" stroke-width="1.1" stroke-dasharray="1.6 1.6"/>
<path d="M851.3,196.3L899.4,196.3M851.3,196.3L851.3,148.2M851.3,148.2L899.4,148.2M851.3,148.2L868.2,137.9M868.2,137.9L916.3,137.9M899.4,196.3L899.4,148.2M899.4,196.3L916.3,186M916.3,186L916.3,137.9M899.4,148.2L916.3,137.9" fill="none" stroke="#333" stroke-width="1.3"/>
<polygon points="989.5,336.8 1001.7,329.1 1055.5,329.1 1043.3,336.8" stroke="none" fill="#2BBCF0" stroke-width="1" fill-opacity="0.95"/>
<path d="M989.5,336.8L1002.7,328.3M1002.7,328.3L1044.8,351.1M1002.7,328.3L1025.7,286.1" fill="none" stroke="#333" stroke-width="1.1" stroke-dasharray="1.6 1.6"/>
<path d="M989.5,336.8L1031.6,359.6M989.5,336.8L1012.5,294.6M1012.5,294.6L1054.6,317.4M1012.5,294.6L1025.7,286.1M1025.7,286.1L1067.8,308.9M1031.6,359.6L1054.6,317.4M1031.6,359.6L1044.8,351.1M1044.8,351.1L1067.8,308.9M1054.6,317.4L1067.8,308.9" fill="none" stroke="#333" stroke-width="1.3"/>
<polygon points="1045.4,426.7 1127.7,420.2 1095.2,441" stroke="none" fill="#2BBCF0" stroke-width="1" fill-opacity="0.95"/>
<path d="M1044.4,426.7L1060.1,422.6M1060.1,422.6L1095.6,455.1M1060.1,422.6L1092.6,387" fill="none" stroke="#333" stroke-width="1.1" stroke-dasharray="1.6 1.6"/>
<path d="M1044.4,426.7L1079.9,459.2M1044.4,426.7L1076.9,391.1M1076.9,391.1L1112.4,423.6M1076.9,391.1L1092.6,387M1092.6,387L1128.1,419.5M1079.9,459.2L1112.4,423.6M1079.9,459.2L1095.6,455.1M1095.6,455.1L1128.1,419.5M1112.4,423.6L1128.1,419.5" fill="none" stroke="#333" stroke-width="1.3"/>
<polygon points="1102.3,498.9 1121.2,490.8 1188.3,489.7 1169.4,497.8" stroke="none" fill="#2BBCF0" stroke-width="1" fill-opacity="0.95"/>
<path d="M1102.3,498.9L1121.2,490.8M1121.2,490.8L1154.7,524.3M1121.2,490.8L1154.1,457.6" fill="none" stroke="#333" stroke-width="1.1" stroke-dasharray="1.6 1.6"/>
<path d="M1102.3,498.9L1135.8,532.4M1102.3,498.9L1135.2,465.7M1135.2,465.7L1168.7,499.2M1135.2,465.7L1154.1,457.6M1154.1,457.6L1187.6,491.1M1135.8,532.4L1168.7,499.2M1135.8,532.4L1154.7,524.3M1154.7,524.3L1187.6,491.1M1168.7,499.2L1187.6,491.1" fill="none" stroke="#333" stroke-width="1.3"/>
<polygon points="960.4,707.7 1027.4,707.4 1002.3,721.3" stroke="none" fill="#2BBCF0" stroke-width="1" fill-opacity="0.95"/>
<path d="M1001.5,654L993.5,673.9M993.5,673.9L960.4,707.7M993.5,673.9L1027.4,707.4" fill="none" stroke="#333" stroke-width="1.1" stroke-dasharray="1.6 1.6"/>
<path d="M1001.5,654L968.4,687.8M1001.5,654L1035.4,687.5M1035.4,687.5L1002.3,721.3M1035.4,687.5L1027.4,707.4M1027.4,707.4L994.3,741.2M968.4,687.8L1002.3,721.3M968.4,687.8L960.4,707.7M960.4,707.7L994.3,741.2M1002.3,721.3L994.3,741.2" fill="none" stroke="#333" stroke-width="1.3"/>
<path d="M780.13,495.67L843.27,598.03M883.16,640.69L888.94,640.31M894.37,651.7L805.63,747.9" fill="none" stroke="#E3191C" stroke-width="1.6"/>
<path d="M786.12,497.27L864.08,549.93M878.51,577.99L877.69,608.11M893.81,653.54L817.19,738.06" fill="none" stroke="#45A645" stroke-width="1.6"/>
<path d="M779.57,196.05L939.53,406.95M950.42,437.49L952.78,501.81M968.13,527.28L986.27,537.72M989.8,558.99L855.8,711.91" fill="none" stroke="#2E75B6" stroke-width="1.6"/>
<rect x="761" y="471" width="20.4" height="20.4" fill="#E3191C"/>
<rect x="842" y="602.3" width="20.4" height="20.4" fill="#E3191C"/>
<rect x="856" y="631.6" width="20.4" height="20.4" fill="#E3191C"/>
<rect x="895.7" y="629" width="20.4" height="20.4" fill="#E3191C"/>
<rect x="783.9" y="750.2" width="20.4" height="20.4" fill="#E3191C"/>
<circle cx="769.3" cy="182.5" r="11" fill="#2E75B6"/>
<circle cx="949.8" cy="420.5" r="11" fill="#2E75B6"/>
<circle cx="953.4" cy="518.8" r="11" fill="#2E75B6"/>
<circle cx="1001" cy="546.2" r="11" fill="#2E75B6"/>
<circle cx="844.6" cy="724.7" r="11" fill="#2E75B6"/>
<polygon points="771.2,473.2 784.7,495.7 757.7,495.7" stroke="none" fill="#45A645" stroke-width="1" />
<polygon points="879,546 892.5,568.5 865.5,568.5" stroke="none" fill="#45A645" stroke-width="1" />
<polygon points="877.2,612.1 890.7,634.6 863.7,634.6" stroke="none" fill="#45A645" stroke-width="1" />
<polygon points="905.9,626.2 919.4,648.7 892.4,648.7" stroke="none" fill="#45A645" stroke-width="1" />
<polygon points="805.1,737.4 818.6,759.9 791.6,759.9" stroke="none" fill="#45A645" stroke-width="1" />
<text x="776.6" y="153.2" font-size="28.5" >{200}</text>
<text x="953.4" y="390.1" font-size="28.5" >{210}</text>
<text x="970.2" y="486.7" font-size="28.5" >{211}</text>
<text x="1026" y="531.4" font-size="28.5" >{110}</text>
<text x="876.2" y="728.3" font-size="28.5" >{111}</text>
<rect x="1209" y="637" width="171" height="130" fill="#000"/>
<rect x="1201.5" y="628.5" width="172.5" height="132" fill="#fff" stroke="#000" stroke-width="2.6"/>
<line x1="1206.5" y1="652.3" x2="1226.5" y2="652.3" stroke="#E3191C" stroke-width="1.6" />
<line x1="1257.5" y1="652.3" x2="1278.5" y2="652.3" stroke="#E3191C" stroke-width="1.6" />
<rect x="1231.2" y="642.1" width="20.4" height="20.4" fill="#E3191C"/>
<text x="1287" y="662.9" font-size="32" font-weight="bold" fill="#E3191C" >0.002</text>
<line x1="1206.5" y1="694.2" x2="1226.5" y2="694.2" stroke="#2E75B6" stroke-width="1.6" />
<line x1="1257.5" y1="694.2" x2="1278.5" y2="694.2" stroke="#2E75B6" stroke-width="1.6" />
<circle cx="1241.4" cy="694.2" r="10.8" fill="#2E75B6"/>
<text x="1287" y="704.8" font-size="32" font-weight="bold" fill="#2E75B6" >0.006</text>
<line x1="1206.5" y1="735.5" x2="1226.5" y2="735.5" stroke="#45A645" stroke-width="1.6" />
<line x1="1257.5" y1="735.5" x2="1278.5" y2="735.5" stroke="#45A645" stroke-width="1.6" />
<polygon points="1241.4,722 1254.6,744.7 1228.2,744.7" stroke="none" fill="#45A645" stroke-width="1" />
<text x="1287" y="746.1" font-size="32" font-weight="bold" fill="#45A645" >0.008</text>
<polygon points="1424.6,161.6 1444.1,199.1 1432.6,199.1 1432.6,339.6 1417.1,339.6 1417.1,199.1 1405.5,199.1" stroke="none" fill="#000" stroke-width="1" />
<text x="1372" y="286.3" font-size="52" font-weight="bold" font-style="italic" >E</text>
<text x="673" y="28.8" font-size="40" font-weight="bold">c</text>
<clipPath id="clipd"><rect x="77.7" y="968.7" width="413.1" height="332.3"/></clipPath>
<g clip-path="url(#clipd)">
<polyline points="284.3,1110.9 288.43,1113.95 292.56,1117.07 296.69,1119.99 300.82,1122.71 304.95,1125.64 309.08,1129.18 313.21,1133.84 317.34,1141.86 321.47,1150.49 325.6,1158.8 329.73,1164.02 333.86,1167.45 337.99,1166.8 342.12,1163.1 346.25,1159.33 350.38,1155.5 354.51,1152.24 358.64,1149.21 362.77,1146.24 366.9,1143.17 371.03,1139.92 375.16,1136.6 379.29,1133.24 383.42,1129.87 387.55,1126.52 391.68,1123.24 395.81,1120.01 399.94,1116.82 404.07,1113.66 408.2,1110.52 412.33,1107.38 416.46,1104.26 420.59,1101.14 424.72,1098.03 428.85,1094.92 432.98,1091.83 437.11,1088.75 441.24,1085.69 445.37,1082.63 449.5,1079.58" stroke="#E8161B" fill="none" stroke-width="1.5" />
<polyline points="449.5,1078.63 445.37,1077.26 441.24,1076.14 437.11,1075.79 432.98,1075.87 428.85,1076.07 424.72,1076.36 420.59,1076.73 416.46,1077.17 412.33,1077.67 408.2,1078.21 404.07,1078.78 399.94,1079.37 395.81,1079.96 391.68,1080.53 387.55,1081.14 383.42,1081.83 379.29,1082.58 375.16,1083.39 371.03,1084.25 366.9,1085.14 362.77,1086.06 358.64,1087 354.51,1087.94 350.38,1088.88 346.25,1089.85 342.12,1090.84 337.99,1091.86 333.86,1092.92 329.73,1094.02 325.6,1095.16 321.47,1096.34 317.34,1097.58 313.21,1098.88 309.08,1100.25 304.95,1101.71 300.82,1103.24 296.69,1104.83 292.56,1106.49 288.43,1108.2 284.3,1109.95" stroke="#E8161B" fill="none" stroke-width="1.5" />
<polyline points="284.3,1110.9 280.17,1112.73 276.04,1115.17 271.91,1118.08 267.78,1121.34 263.65,1125.33 259.52,1130.19 255.39,1135.38 251.26,1140.39 247.13,1145.34 243,1150.76 238.87,1157.64 234.74,1164.04 230.61,1168.57 226.48,1166.71 222.35,1162.31 218.22,1158.09 214.09,1153.59 209.96,1149.2 205.83,1145.27 201.7,1141.7 197.57,1138.3 193.44,1135.05 189.31,1131.91 185.18,1128.85 181.05,1125.86 176.92,1122.88 172.79,1119.94 168.66,1117.09 164.53,1114.3 160.4,1111.56 156.27,1108.85 152.14,1106.15 148.01,1103.43 143.88,1100.69 139.75,1097.95 135.62,1095.21 131.49,1092.48 127.36,1089.76 123.23,1087.04 119.1,1084.33" stroke="#E8161B" fill="none" stroke-width="1.5" />
<polyline points="119.1,1084.33 123.23,1083.75 127.36,1083.24 131.49,1082.8 135.62,1082.43 139.75,1082.13 143.88,1081.89 148.01,1081.71 152.14,1081.58 156.27,1081.51 160.4,1081.48 164.53,1081.53 168.66,1081.69 172.79,1081.93 176.92,1082.26 181.05,1082.66 185.18,1083.12 189.31,1083.64 193.44,1084.21 197.57,1084.81 201.7,1085.44 205.83,1086.09 209.96,1086.85 214.09,1087.87 218.22,1089.1 222.35,1090.48 226.48,1091.94 230.61,1093.43 234.74,1094.89 238.87,1096.26 243,1097.66 247.13,1099.09 251.26,1100.53 255.39,1101.94 259.52,1103.31 263.65,1104.63 267.78,1105.93 271.91,1107.21 276.04,1108.47 280.17,1109.7 284.3,1110.9" stroke="#E8161B" fill="none" stroke-width="1.5" />
<path d="M281.3,1107.9h6v6h-6zM285.43,1110.95h6v6h-6zM289.56,1114.07h6v6h-6zM293.69,1116.99h6v6h-6zM297.82,1119.71h6v6h-6zM301.95,1122.64h6v6h-6zM306.08,1126.18h6v6h-6zM310.21,1130.84h6v6h-6zM314.34,1138.86h6v6h-6zM318.47,1147.49h6v6h-6zM322.6,1155.8h6v6h-6zM326.73,1161.02h6v6h-6zM330.86,1164.45h6v6h-6zM334.99,1163.8h6v6h-6zM339.12,1160.1h6v6h-6zM343.25,1156.33h6v6h-6zM347.38,1152.5h6v6h-6zM351.51,1149.24h6v6h-6zM355.64,1146.21h6v6h-6zM359.77,1143.24h6v6h-6zM363.9,1140.17h6v6h-6zM368.03,1136.92h6v6h-6zM372.16,1133.6h6v6h-6zM376.29,1130.24h6v6h-6zM380.42,1126.87h6v6h-6zM384.55,1123.52h6v6h-6zM388.68,1120.24h6v6h-6zM392.81,1117.01h6v6h-6zM396.94,1113.82h6v6h-6zM401.07,1110.66h6v6h-6zM405.2,1107.52h6v6h-6zM409.33,1104.38h6v6h-6zM413.46,1101.26h6v6h-6zM417.59,1098.14h6v6h-6zM421.72,1095.03h6v6h-6zM425.85,1091.92h6v6h-6zM429.98,1088.83h6v6h-6zM434.11,1085.75h6v6h-6zM438.24,1082.69h6v6h-6zM442.37,1079.63h6v6h-6zM446.5,1076.58h6v6h-6zM446.5,1075.63h6v6h-6zM442.37,1074.26h6v6h-6zM438.24,1073.14h6v6h-6zM434.11,1072.79h6v6h-6zM429.98,1072.87h6v6h-6zM425.85,1073.07h6v6h-6zM421.72,1073.36h6v6h-6zM417.59,1073.73h6v6h-6zM413.46,1074.17h6v6h-6zM409.33,1074.67h6v6h-6zM405.2,1075.21h6v6h-6zM401.07,1075.78h6v6h-6zM396.94,1076.37h6v6h-6zM392.81,1076.96h6v6h-6zM388.68,1077.53h6v6h-6zM384.55,1078.14h6v6h-6zM380.42,1078.83h6v6h-6zM376.29,1079.58h6v6h-6zM372.16,1080.39h6v6h-6zM368.03,1081.25h6v6h-6zM363.9,1082.14h6v6h-6zM359.77,1083.06h6v6h-6zM355.64,1084h6v6h-6zM351.51,1084.94h6v6h-6zM347.38,1085.88h6v6h-6zM343.25,1086.85h6v6h-6zM339.12,1087.84h6v6h-6zM334.99,1088.86h6v6h-6zM330.86,1089.92h6v6h-6zM326.73,1091.02h6v6h-6zM322.6,1092.16h6v6h-6zM318.47,1093.34h6v6h-6zM314.34,1094.58h6v6h-6zM310.21,1095.88h6v6h-6zM306.08,1097.25h6v6h-6zM301.95,1098.71h6v6h-6zM297.82,1100.24h6v6h-6zM293.69,1101.83h6v6h-6zM289.56,1103.49h6v6h-6zM285.43,1105.2h6v6h-6zM281.3,1106.95h6v6h-6zM281.3,1107.9h6v6h-6zM277.17,1109.73h6v6h-6zM273.04,1112.17h6v6h-6zM268.91,1115.08h6v6h-6zM264.78,1118.34h6v6h-6zM260.65,1122.33h6v6h-6zM256.52,1127.19h6v6h-6zM252.39,1132.38h6v6h-6zM248.26,1137.39h6v6h-6zM244.13,1142.34h6v6h-6zM240,1147.76h6v6h-6zM235.87,1154.64h6v6h-6zM231.74,1161.04h6v6h-6zM227.61,1165.57h6v6h-6zM223.48,1163.71h6v6h-6zM219.35,1159.31h6v6h-6zM215.22,1155.09h6v6h-6zM211.09,1150.59h6v6h-6zM206.96,1146.2h6v6h-6zM202.83,1142.27h6v6h-6zM198.7,1138.7h6v6h-6zM194.57,1135.3h6v6h-6zM190.44,1132.05h6v6h-6zM186.31,1128.91h6v6h-6zM182.18,1125.85h6v6h-6zM178.05,1122.86h6v6h-6zM173.92,1119.88h6v6h-6zM169.79,1116.94h6v6h-6zM165.66,1114.09h6v6h-6zM161.53,1111.3h6v6h-6zM157.4,1108.56h6v6h-6zM153.27,1105.85h6v6h-6zM149.14,1103.15h6v6h-6zM145.01,1100.43h6v6h-6zM140.88,1097.69h6v6h-6zM136.75,1094.95h6v6h-6zM132.62,1092.21h6v6h-6zM128.49,1089.48h6v6h-6zM124.36,1086.76h6v6h-6zM120.23,1084.04h6v6h-6zM116.1,1081.33h6v6h-6zM116.1,1081.33h6v6h-6zM120.23,1080.75h6v6h-6zM124.36,1080.24h6v6h-6zM128.49,1079.8h6v6h-6zM132.62,1079.43h6v6h-6zM136.75,1079.13h6v6h-6zM140.88,1078.89h6v6h-6zM145.01,1078.71h6v6h-6zM149.14,1078.58h6v6h-6zM153.27,1078.51h6v6h-6zM157.4,1078.48h6v6h-6zM161.53,1078.53h6v6h-6zM165.66,1078.69h6v6h-6zM169.79,1078.93h6v6h-6zM173.92,1079.26h6v6h-6zM178.05,1079.66h6v6h-6zM182.18,1080.12h6v6h-6zM186.31,1080.64h6v6h-6zM190.44,1081.21h6v6h-6zM194.57,1081.81h6v6h-6zM198.7,1082.44h6v6h-6zM202.83,1083.09h6v6h-6zM206.96,1083.85h6v6h-6zM211.09,1084.87h6v6h-6zM215.22,1086.1h6v6h-6zM219.35,1087.48h6v6h-6zM223.48,1088.94h6v6h-6zM227.61,1090.43h6v6h-6zM231.74,1091.89h6v6h-6zM235.87,1093.26h6v6h-6zM240,1094.66h6v6h-6zM244.13,1096.09h6v6h-6zM248.26,1097.53h6v6h-6zM252.39,1098.94h6v6h-6zM256.52,1100.31h6v6h-6zM260.65,1101.63h6v6h-6zM264.78,1102.93h6v6h-6zM268.91,1104.21h6v6h-6zM273.04,1105.47h6v6h-6zM277.17,1106.7h6v6h-6zM281.3,1107.9h6v6h-6z" fill="#E8161B"/>
<polyline points="284.3,1110.9 288.43,1115.62 292.56,1119.81 296.69,1123.23 300.82,1126.2 304.95,1128.94 309.08,1131.66 313.21,1134.58 317.34,1137.96 321.47,1142.06 325.6,1146.29 329.73,1149.9 333.86,1152.7 337.99,1155.01 342.12,1155.17 346.25,1152.4 350.38,1147.46 354.51,1137.72 358.64,1121.34 362.77,1112.8 366.9,1106.86 371.03,1102.88 375.16,1099.9 379.29,1097.44 383.42,1095.27 387.55,1093.19 391.68,1090.97 395.81,1088.62 399.94,1086.27 404.07,1083.94 408.2,1081.65 412.33,1079.42 416.46,1077.25 420.59,1075.17 424.72,1073.18 428.85,1071.25 432.98,1069.37 437.11,1067.56 441.24,1065.81 445.37,1064.12 449.5,1062.5" stroke="#43A843" fill="none" stroke-width="1.5" />
<polyline points="449.5,1061.55 445.37,1062.32 441.24,1063.11 437.11,1063.92 432.98,1064.75 428.85,1065.59 424.72,1066.44 420.59,1067.31 416.46,1068.2 412.33,1069.1 408.2,1070.02 404.07,1070.97 399.94,1071.93 395.81,1072.91 391.68,1073.89 387.55,1074.87 383.42,1075.84 379.29,1076.82 375.16,1077.82 371.03,1078.84 366.9,1079.91 362.77,1081.02 358.64,1082.19 354.51,1083.39 350.38,1084.64 346.25,1085.92 342.12,1087.25 337.99,1088.61 333.86,1090.01 329.73,1091.45 325.6,1092.94 321.47,1094.46 317.34,1096.03 313.21,1097.64 309.08,1099.34 304.95,1101.11 300.82,1102.96 296.69,1104.87 292.56,1106.83 288.43,1108.84 284.3,1110.9" stroke="#43A843" fill="none" stroke-width="1.5" />
<polyline points="284.3,1110.9 280.17,1112.43 276.04,1114.23 271.91,1116.27 267.78,1118.49 263.65,1121.01 259.52,1123.88 255.39,1126.99 251.26,1130.3 247.13,1134.15 243,1138.18 238.87,1141.89 234.74,1145.02 230.61,1147.94 226.48,1149.81 222.35,1150.65 218.22,1148.9 214.09,1141.68 209.96,1134.7 205.83,1126.92 201.7,1119.45 197.57,1113.39 193.44,1108.01 189.31,1103.04 185.18,1098.48 181.05,1094.36 176.92,1090.7 172.79,1087.45 168.66,1084.49 164.53,1081.77 160.4,1079.23 156.27,1076.85 152.14,1074.57 148.01,1072.36 143.88,1070.17 139.75,1068.05 135.62,1066 131.49,1064.04 127.36,1062.17 123.23,1060.39 119.1,1058.71" stroke="#43A843" fill="none" stroke-width="1.5" />
<polyline points="119.1,1058.71 123.23,1059.34 127.36,1060.01 131.49,1060.71 135.62,1061.44 139.75,1062.19 143.88,1062.97 148.01,1063.77 152.14,1064.6 156.27,1065.44 160.4,1066.3 164.53,1067.17 168.66,1068.07 172.79,1069.01 176.92,1069.97 181.05,1070.99 185.18,1072.05 189.31,1073.18 193.44,1074.38 197.57,1075.66 201.7,1077.03 205.83,1078.48 209.96,1080 214.09,1081.57 218.22,1083.2 222.35,1084.86 226.48,1086.56 230.61,1088.29 234.74,1090.02 238.87,1091.77 243,1093.51 247.13,1095.23 251.26,1096.94 255.39,1098.63 259.52,1100.33 263.65,1102.05 267.78,1103.8 271.91,1105.55 276.04,1107.32 280.17,1109.11 284.3,1110.9" stroke="#43A843" fill="none" stroke-width="1.5" />
<path d="M284.3,1106.7l3.9,6.8h-7.8zM288.43,1111.42l3.9,6.8h-7.8zM292.56,1115.61l3.9,6.8h-7.8zM296.69,1119.03l3.9,6.8h-7.8zM300.82,1122l3.9,6.8h-7.8zM304.95,1124.74l3.9,6.8h-7.8zM309.08,1127.46l3.9,6.8h-7.8zM313.21,1130.38l3.9,6.8h-7.8zM317.34,1133.76l3.9,6.8h-7.8zM321.47,1137.86l3.9,6.8h-7.8zM325.6,1142.09l3.9,6.8h-7.8zM329.73,1145.7l3.9,6.8h-7.8zM333.86,1148.5l3.9,6.8h-7.8zM337.99,1150.81l3.9,6.8h-7.8zM342.12,1150.97l3.9,6.8h-7.8zM346.25,1148.2l3.9,6.8h-7.8zM350.38,1143.26l3.9,6.8h-7.8zM354.51,1133.52l3.9,6.8h-7.8zM358.64,1117.14l3.9,6.8h-7.8zM362.77,1108.6l3.9,6.8h-7.8zM366.9,1102.66l3.9,6.8h-7.8zM371.03,1098.68l3.9,6.8h-7.8zM375.16,1095.7l3.9,6.8h-7.8zM379.29,1093.24l3.9,6.8h-7.8zM383.42,1091.07l3.9,6.8h-7.8zM387.55,1088.99l3.9,6.8h-7.8zM391.68,1086.77l3.9,6.8h-7.8zM395.81,1084.42l3.9,6.8h-7.8zM399.94,1082.07l3.9,6.8h-7.8zM404.07,1079.74l3.9,6.8h-7.8zM408.2,1077.45l3.9,6.8h-7.8zM412.33,1075.22l3.9,6.8h-7.8zM416.46,1073.05l3.9,6.8h-7.8zM420.59,1070.97l3.9,6.8h-7.8zM424.72,1068.98l3.9,6.8h-7.8zM428.85,1067.05l3.9,6.8h-7.8zM432.98,1065.17l3.9,6.8h-7.8zM437.11,1063.36l3.9,6.8h-7.8zM441.24,1061.61l3.9,6.8h-7.8zM445.37,1059.92l3.9,6.8h-7.8zM449.5,1058.3l3.9,6.8h-7.8zM449.5,1057.35l3.9,6.8h-7.8zM445.37,1058.12l3.9,6.8h-7.8zM441.24,1058.91l3.9,6.8h-7.8zM437.11,1059.72l3.9,6.8h-7.8zM432.98,1060.55l3.9,6.8h-7.8zM428.85,1061.39l3.9,6.8h-7.8zM424.72,1062.24l3.9,6.8h-7.8zM420.59,1063.11l3.9,6.8h-7.8zM416.46,1064l3.9,6.8h-7.8zM412.33,1064.9l3.9,6.8h-7.8zM408.2,1065.82l3.9,6.8h-7.8zM404.07,1066.77l3.9,6.8h-7.8zM399.94,1067.73l3.9,6.8h-7.8zM395.81,1068.71l3.9,6.8h-7.8zM391.68,1069.69l3.9,6.8h-7.8zM387.55,1070.67l3.9,6.8h-7.8zM383.42,1071.64l3.9,6.8h-7.8zM379.29,1072.62l3.9,6.8h-7.8zM375.16,1073.62l3.9,6.8h-7.8zM371.03,1074.64l3.9,6.8h-7.8zM366.9,1075.71l3.9,6.8h-7.8zM362.77,1076.82l3.9,6.8h-7.8zM358.64,1077.99l3.9,6.8h-7.8zM354.51,1079.19l3.9,6.8h-7.8zM350.38,1080.44l3.9,6.8h-7.8zM346.25,1081.72l3.9,6.8h-7.8zM342.12,1083.05l3.9,6.8h-7.8zM337.99,1084.41l3.9,6.8h-7.8zM333.86,1085.81l3.9,6.8h-7.8zM329.73,1087.25l3.9,6.8h-7.8zM325.6,1088.74l3.9,6.8h-7.8zM321.47,1090.26l3.9,6.8h-7.8zM317.34,1091.83l3.9,6.8h-7.8zM313.21,1093.44l3.9,6.8h-7.8zM309.08,1095.14l3.9,6.8h-7.8zM304.95,1096.91l3.9,6.8h-7.8zM300.82,1098.76l3.9,6.8h-7.8zM296.69,1100.67l3.9,6.8h-7.8zM292.56,1102.63l3.9,6.8h-7.8zM288.43,1104.64l3.9,6.8h-7.8zM284.3,1106.7l3.9,6.8h-7.8zM284.3,1106.7l3.9,6.8h-7.8zM280.17,1108.23l3.9,6.8h-7.8zM276.04,1110.03l3.9,6.8h-7.8zM271.91,1112.07l3.9,6.8h-7.8zM267.78,1114.29l3.9,6.8h-7.8zM263.65,1116.81l3.9,6.8h-7.8zM259.52,1119.68l3.9,6.8h-7.8zM255.39,1122.79l3.9,6.8h-7.8zM251.26,1126.1l3.9,6.8h-7.8zM247.13,1129.95l3.9,6.8h-7.8zM243,1133.98l3.9,6.8h-7.8zM238.87,1137.69l3.9,6.8h-7.8zM234.74,1140.82l3.9,6.8h-7.8zM230.61,1143.74l3.9,6.8h-7.8zM226.48,1145.61l3.9,6.8h-7.8zM222.35,1146.45l3.9,6.8h-7.8zM218.22,1144.7l3.9,6.8h-7.8zM214.09,1137.48l3.9,6.8h-7.8zM209.96,1130.5l3.9,6.8h-7.8zM205.83,1122.72l3.9,6.8h-7.8zM201.7,1115.25l3.9,6.8h-7.8zM197.57,1109.19l3.9,6.8h-7.8zM193.44,1103.81l3.9,6.8h-7.8zM189.31,1098.84l3.9,6.8h-7.8zM185.18,1094.28l3.9,6.8h-7.8zM181.05,1090.16l3.9,6.8h-7.8zM176.92,1086.5l3.9,6.8h-7.8zM172.79,1083.25l3.9,6.8h-7.8zM168.66,1080.29l3.9,6.8h-7.8zM164.53,1077.57l3.9,6.8h-7.8zM160.4,1075.03l3.9,6.8h-7.8zM156.27,1072.65l3.9,6.8h-7.8zM152.14,1070.37l3.9,6.8h-7.8zM148.01,1068.16l3.9,6.8h-7.8zM143.88,1065.97l3.9,6.8h-7.8zM139.75,1063.85l3.9,6.8h-7.8zM135.62,1061.8l3.9,6.8h-7.8zM131.49,1059.84l3.9,6.8h-7.8zM127.36,1057.97l3.9,6.8h-7.8zM123.23,1056.19l3.9,6.8h-7.8zM119.1,1054.51l3.9,6.8h-7.8zM119.1,1054.51l3.9,6.8h-7.8zM123.23,1055.14l3.9,6.8h-7.8zM127.36,1055.81l3.9,6.8h-7.8zM131.49,1056.51l3.9,6.8h-7.8zM135.62,1057.24l3.9,6.8h-7.8zM139.75,1057.99l3.9,6.8h-7.8zM143.88,1058.77l3.9,6.8h-7.8zM148.01,1059.57l3.9,6.8h-7.8zM152.14,1060.4l3.9,6.8h-7.8zM156.27,1061.24l3.9,6.8h-7.8zM160.4,1062.1l3.9,6.8h-7.8zM164.53,1062.97l3.9,6.8h-7.8zM168.66,1063.87l3.9,6.8h-7.8zM172.79,1064.81l3.9,6.8h-7.8zM176.92,1065.77l3.9,6.8h-7.8zM181.05,1066.79l3.9,6.8h-7.8zM185.18,1067.85l3.9,6.8h-7.8zM189.31,1068.98l3.9,6.8h-7.8zM193.44,1070.18l3.9,6.8h-7.8zM197.57,1071.46l3.9,6.8h-7.8zM201.7,1072.83l3.9,6.8h-7.8zM205.83,1074.28l3.9,6.8h-7.8zM209.96,1075.8l3.9,6.8h-7.8zM214.09,1077.37l3.9,6.8h-7.8zM218.22,1079l3.9,6.8h-7.8zM222.35,1080.66l3.9,6.8h-7.8zM226.48,1082.36l3.9,6.8h-7.8zM230.61,1084.09l3.9,6.8h-7.8zM234.74,1085.82l3.9,6.8h-7.8zM238.87,1087.57l3.9,6.8h-7.8zM243,1089.31l3.9,6.8h-7.8zM247.13,1091.03l3.9,6.8h-7.8zM251.26,1092.74l3.9,6.8h-7.8zM255.39,1094.43l3.9,6.8h-7.8zM259.52,1096.13l3.9,6.8h-7.8zM263.65,1097.85l3.9,6.8h-7.8zM267.78,1099.6l3.9,6.8h-7.8zM271.91,1101.35l3.9,6.8h-7.8zM276.04,1103.12l3.9,6.8h-7.8zM280.17,1104.91l3.9,6.8h-7.8zM284.3,1106.7l3.9,6.8h-7.8z" fill="#43A843"/>
<polyline points="284.3,1147.91 288.43,1150.72 292.56,1154.92 296.69,1161.2 300.82,1170.64 304.95,1184.62 309.08,1203.86 313.21,1228.58 317.34,1207.7 321.47,1161.2 325.6,1144.12 329.73,1131.78 333.86,1122.29 337.99,1113.37 342.12,1107.81 346.25,1101.79 350.38,1096.27 354.51,1091.65 358.64,1088.74 362.77,1086.56 366.9,1084.61 371.03,1082.51 375.16,1080.3 379.29,1078.09 383.42,1075.94 387.55,1073.89 391.68,1071.99 395.81,1070.25 399.94,1068.61 404.07,1067.06 408.2,1065.54 412.33,1064.04 416.46,1062.5 420.59,1060.94 424.72,1059.39 428.85,1057.83 432.98,1056.29 437.11,1054.75 441.24,1053.22 445.37,1051.69 449.5,1050.16" stroke="#3079C0" fill="none" stroke-width="1.5" />
<polyline points="449.5,1050.16 445.37,1051.11 441.24,1052.06 437.11,1053.01 432.98,1053.96 428.85,1054.91 424.72,1055.86 420.59,1056.81 416.46,1057.76 412.33,1058.69 408.2,1059.6 404.07,1060.51 399.94,1061.44 395.81,1062.41 391.68,1063.45 387.55,1064.54 383.42,1065.67 379.29,1066.83 375.16,1068.02 371.03,1069.26 366.9,1070.54 362.77,1071.87 358.64,1073.24 354.51,1074.67 350.38,1076.15 346.25,1077.69 342.12,1079.33 337.99,1081.12 333.86,1083.01 329.73,1084.99 325.6,1087.01 321.47,1089.06 317.34,1091.11 313.21,1093.14 309.08,1095.18 304.95,1097.26 300.82,1099.37 296.69,1101.5 292.56,1103.66 288.43,1105.84 284.3,1108.05" stroke="#3079C0" fill="none" stroke-width="1.5" />
<polyline points="284.3,1110.9 280.17,1115.64 276.04,1121.54 271.91,1127.75 267.78,1133.68 263.65,1140.42 259.52,1151.71 255.39,1167.84 251.26,1193.46 247.13,1228.58 243,1220.04 238.87,1190.62 234.74,1175.48 230.61,1160.25 226.48,1149.47 222.35,1140.32 218.22,1130.95 214.09,1121.79 209.96,1113.53 205.83,1106.85 201.7,1101.15 197.57,1095.98 193.44,1091.34 189.31,1087.24 185.18,1083.69 181.05,1080.69 176.92,1078.13 172.79,1075.86 168.66,1073.78 164.53,1071.76 160.4,1069.67 156.27,1067.58 152.14,1065.55 148.01,1063.57 143.88,1061.6 139.75,1059.65 135.62,1057.71 131.49,1055.79 127.36,1053.9 123.23,1052.02 119.1,1050.16" stroke="#3079C0" fill="none" stroke-width="1.5" />
<polyline points="119.1,1050.16 123.23,1048.88 127.36,1048.27 131.49,1048.47 135.62,1049.03 139.75,1049.88 143.88,1050.94 148.01,1052.14 152.14,1053.41 156.27,1054.67 160.4,1055.86 164.53,1057.03 168.66,1058.3 172.79,1059.65 176.92,1061.05 181.05,1062.49 185.18,1063.95 189.31,1065.42 193.44,1066.88 197.57,1068.35 201.7,1069.83 205.83,1071.34 209.96,1072.88 214.09,1074.45 218.22,1076.05 222.35,1077.69 226.48,1079.35 230.61,1081.05 234.74,1082.78 238.87,1084.55 243,1086.37 247.13,1088.24 251.26,1090.18 255.39,1092.18 259.52,1094.25 263.65,1096.4 267.78,1098.61 271.91,1100.88 276.04,1103.21 280.17,1105.6 284.3,1108.05" stroke="#3079C0" fill="none" stroke-width="1.5" />
<path d="M280.8,1147.91a3.5,3.5 0 1,0 7,0a3.5,3.5 0 1,0 -7,0zM284.93,1150.72a3.5,3.5 0 1,0 7,0a3.5,3.5 0 1,0 -7,0zM289.06,1154.92a3.5,3.5 0 1,0 7,0a3.5,3.5 0 1,0 -7,0zM293.19,1161.2a3.5,3.5 0 1,0 7,0a3.5,3.5 0 1,0 -7,0zM297.32,1170.64a3.5,3.5 0 1,0 7,0a3.5,3.5 0 1,0 -7,0zM301.45,1184.62a3.5,3.5 0 1,0 7,0a3.5,3.5 0 1,0 -7,0zM305.58,1203.86a3.5,3.5 0 1,0 7,0a3.5,3.5 0 1,0 -7,0zM309.71,1228.58a3.5,3.5 0 1,0 7,0a3.5,3.5 0 1,0 -7,0zM313.84,1207.7a3.5,3.5 0 1,0 7,0a3.5,3.5 0 1,0 -7,0zM317.97,1161.2a3.5,3.5 0 1,0 7,0a3.5,3.5 0 1,0 -7,0zM322.1,1144.12a3.5,3.5 0 1,0 7,0a3.5,3.5 0 1,0 -7,0zM326.23,1131.78a3.5,3.5 0 1,0 7,0a3.5,3.5 0 1,0 -7,0zM330.36,1122.29a3.5,3.5 0 1,0 7,0a3.5,3.5 0 1,0 -7,0zM334.49,1113.37a3.5,3.5 0 1,0 7,0a3.5,3.5 0 1,0 -7,0zM338.62,1107.81a3.5,3.5 0 1,0 7,0a3.5,3.5 0 1,0 -7,0zM342.75,1101.79a3.5,3.5 0 1,0 7,0a3.5,3.5 0 1,0 -7,0zM346.88,1096.27a3.5,3.5 0 1,0 7,0a3.5,3.5 0 1,0 -7,0zM351.01,1091.65a3.5,3.5 0 1,0 7,0a3.5,3.5 0 1,0 -7,0zM355.14,1088.74a3.5,3.5 0 1,0 7,0a3.5,3.5 0 1,0 -7,0zM359.27,1086.56a3.5,3.5 0 1,0 7,0a3.5,3.5 0 1,0 -7,0zM363.4,1084.61a3.5,3.5 0 1,0 7,0a3.5,3.5 0 1,0 -7,0zM367.53,1082.51a3.5,3.5 0 1,0 7,0a3.5,3.5 0 1,0 -7,0zM371.66,1080.3a3.5,3.5 0 1,0 7,0a3.5,3.5 0 1,0 -7,0zM375.79,1078.09a3.5,3.5 0 1,0 7,0a3.5,3.5 0 1,0 -7,0zM379.92,1075.94a3.5,3.5 0 1,0 7,0a3.5,3.5 0 1,0 -7,0zM384.05,1073.89a3.5,3.5 0 1,0 7,0a3.5,3.5 0 1,0 -7,0zM388.18,1071.99a3.5,3.5 0 1,0 7,0a3.5,3.5 0 1,0 -7,0zM392.31,1070.25a3.5,3.5 0 1,0 7,0a3.5,3.5 0 1,0 -7,0zM396.44,1068.61a3.5,3.5 0 1,0 7,0a3.5,3.5 0 1,0 -7,0zM400.57,1067.06a3.5,3.5 0 1,0 7,0a3.5,3.5 0 1,0 -7,0zM404.7,1065.54a3.5,3.5 0 1,0 7,0a3.5,3.5 0 1,0 -7,0zM408.83,1064.04a3.5,3.5 0 1,0 7,0a3.5,3.5 0 1,0 -7,0zM412.96,1062.5a3.5,3.5 0 1,0 7,0a3.5,3.5 0 1,0 -7,0zM417.09,1060.94a3.5,3.5 0 1,0 7,0a3.5,3.5 0 1,0 -7,0zM421.22,1059.39a3.5,3.5 0 1,0 7,0a3.5,3.5 0 1,0 -7,0zM425.35,1057.83a3.5,3.5 0 1,0 7,0a3.5,3.5 0 1,0 -7,0zM429.48,1056.29a3.5,3.5 0 1,0 7,0a3.5,3.5 0 1,0 -7,0zM433.61,1054.75a3.5,3.5 0 1,0 7,0a3.5,3.5 0 1,0 -7,0zM437.74,1053.22a3.5,3.5 0 1,0 7,0a3.5,3.5 0 1,0 -7,0zM441.87,1051.69a3.5,3.5 0 1,0 7,0a3.5,3.5 0 1,0 -7,0zM446,1050.16a3.5,3.5 0 1,0 7,0a3.5,3.5 0 1,0 -7,0zM446,1050.16a3.5,3.5 0 1,0 7,0a3.5,3.5 0 1,0 -7,0zM441.87,1051.11a3.5,3.5 0 1,0 7,0a3.5,3.5 0 1,0 -7,0zM437.74,1052.06a3.5,3.5 0 1,0 7,0a3.5,3.5 0 1,0 -7,0zM433.61,1053.01a3.5,3.5 0 1,0 7,0a3.5,3.5 0 1,0 -7,0zM429.48,1053.96a3.5,3.5 0 1,0 7,0a3.5,3.5 0 1,0 -7,0zM425.35,1054.91a3.5,3.5 0 1,0 7,0a3.5,3.5 0 1,0 -7,0zM421.22,1055.86a3.5,3.5 0 1,0 7,0a3.5,3.5 0 1,0 -7,0zM417.09,1056.81a3.5,3.5 0 1,0 7,0a3.5,3.5 0 1,0 -7,0zM412.96,1057.76a3.5,3.5 0 1,0 7,0a3.5,3.5 0 1,0 -7,0zM408.83,1058.69a3.5,3.5 0 1,0 7,0a3.5,3.5 0 1,0 -7,0zM404.7,1059.6a3.5,3.5 0 1,0 7,0a3.5,3.5 0 1,0 -7,0zM400.57,1060.51a3.5,3.5 0 1,0 7,0a3.5,3.5 0 1,0 -7,0zM396.44,1061.44a3.5,3.5 0 1,0 7,0a3.5,3.5 0 1,0 -7,0zM392.31,1062.41a3.5,3.5 0 1,0 7,0a3.5,3.5 0 1,0 -7,0zM388.18,1063.45a3.5,3.5 0 1,0 7,0a3.5,3.5 0 1,0 -7,0zM384.05,1064.54a3.5,3.5 0 1,0 7,0a3.5,3.5 0 1,0 -7,0zM379.92,1065.67a3.5,3.5 0 1,0 7,0a3.5,3.5 0 1,0 -7,0zM375.79,1066.83a3.5,3.5 0 1,0 7,0a3.5,3.5 0 1,0 -7,0zM371.66,1068.02a3.5,3.5 0 1,0 7,0a3.5,3.5 0 1,0 -7,0zM367.53,1069.26a3.5,3.5 0 1,0 7,0a3.5,3.5 0 1,0 -7,0zM363.4,1070.54a3.5,3.5 0 1,0 7,0a3.5,3.5 0 1,0 -7,0zM359.27,1071.87a3.5,3.5 0 1,0 7,0a3.5,3.5 0 1,0 -7,0zM355.14,1073.24a3.5,3.5 0 1,0 7,0a3.5,3.5 0 1,0 -7,0zM351.01,1074.67a3.5,3.5 0 1,0 7,0a3.5,3.5 0 1,0 -7,0zM346.88,1076.15a3.5,3.5 0 1,0 7,0a3.5,3.5 0 1,0 -7,0zM342.75,1077.69a3.5,3.5 0 1,0 7,0a3.5,3.5 0 1,0 -7,0zM338.62,1079.33a3.5,3.5 0 1,0 7,0a3.5,3.5 0 1,0 -7,0zM334.49,1081.12a3.5,3.5 0 1,0 7,0a3.5,3.5 0 1,0 -7,0zM330.36,1083.01a3.5,3.5 0 1,0 7,0a3.5,3.5 0 1,0 -7,0zM326.23,1084.99a3.5,3.5 0 1,0 7,0a3.5,3.5 0 1,0 -7,0zM322.1,1087.01a3.5,3.5 0 1,0 7,0a3.5,3.5 0 1,0 -7,0zM317.97,1089.06a3.5,3.5 0 1,0 7,0a3.5,3.5 0 1,0 -7,0zM313.84,1091.11a3.5,3.5 0 1,0 7,0a3.5,3.5 0 1,0 -7,0zM309.71,1093.14a3.5,3.5 0 1,0 7,0a3.5,3.5 0 1,0 -7,0zM305.58,1095.18a3.5,3.5 0 1,0 7,0a3.5,3.5 0 1,0 -7,0zM301.45,1097.26a3.5,3.5 0 1,0 7,0a3.5,3.5 0 1,0 -7,0zM297.32,1099.37a3.5,3.5 0 1,0 7,0a3.5,3.5 0 1,0 -7,0zM293.19,1101.5a3.5,3.5 0 1,0 7,0a3.5,3.5 0 1,0 -7,0zM289.06,1103.66a3.5,3.5 0 1,0 7,0a3.5,3.5 0 1,0 -7,0zM284.93,1105.84a3.5,3.5 0 1,0 7,0a3.5,3.5 0 1,0 -7,0zM280.8,1108.05a3.5,3.5 0 1,0 7,0a3.5,3.5 0 1,0 -7,0zM280.8,1110.9a3.5,3.5 0 1,0 7,0a3.5,3.5 0 1,0 -7,0zM276.67,1115.64a3.5,3.5 0 1,0 7,0a3.5,3.5 0 1,0 -7,0zM272.54,1121.54a3.5,3.5 0 1,0 7,0a3.5,3.5 0 1,0 -7,0zM268.41,1127.75a3.5,3.5 0 1,0 7,0a3.5,3.5 0 1,0 -7,0zM264.28,1133.68a3.5,3.5 0 1,0 7,0a3.5,3.5 0 1,0 -7,0zM260.15,1140.42a3.5,3.5 0 1,0 7,0a3.5,3.5 0 1,0 -7,0zM256.02,1151.71a3.5,3.5 0 1,0 7,0a3.5,3.5 0 1,0 -7,0zM251.89,1167.84a3.5,3.5 0 1,0 7,0a3.5,3.5 0 1,0 -7,0zM247.76,1193.46a3.5,3.5 0 1,0 7,0a3.5,3.5 0 1,0 -7,0zM243.63,1228.58a3.5,3.5 0 1,0 7,0a3.5,3.5 0 1,0 -7,0zM239.5,1220.04a3.5,3.5 0 1,0 7,0a3.5,3.5 0 1,0 -7,0zM235.37,1190.62a3.5,3.5 0 1,0 7,0a3.5,3.5 0 1,0 -7,0zM231.24,1175.48a3.5,3.5 0 1,0 7,0a3.5,3.5 0 1,0 -7,0zM227.11,1160.25a3.5,3.5 0 1,0 7,0a3.5,3.5 0 1,0 -7,0zM222.98,1149.47a3.5,3.5 0 1,0 7,0a3.5,3.5 0 1,0 -7,0zM218.85,1140.32a3.5,3.5 0 1,0 7,0a3.5,3.5 0 1,0 -7,0zM214.72,1130.95a3.5,3.5 0 1,0 7,0a3.5,3.5 0 1,0 -7,0zM210.59,1121.79a3.5,3.5 0 1,0 7,0a3.5,3.5 0 1,0 -7,0zM206.46,1113.53a3.5,3.5 0 1,0 7,0a3.5,3.5 0 1,0 -7,0zM202.33,1106.85a3.5,3.5 0 1,0 7,0a3.5,3.5 0 1,0 -7,0zM198.2,1101.15a3.5,3.5 0 1,0 7,0a3.5,3.5 0 1,0 -7,0zM194.07,1095.98a3.5,3.5 0 1,0 7,0a3.5,3.5 0 1,0 -7,0zM189.94,1091.34a3.5,3.5 0 1,0 7,0a3.5,3.5 0 1,0 -7,0zM185.81,1087.24a3.5,3.5 0 1,0 7,0a3.5,3.5 0 1,0 -7,0zM181.68,1083.69a3.5,3.5 0 1,0 7,0a3.5,3.5 0 1,0 -7,0zM177.55,1080.69a3.5,3.5 0 1,0 7,0a3.5,3.5 0 1,0 -7,0zM173.42,1078.13a3.5,3.5 0 1,0 7,0a3.5,3.5 0 1,0 -7,0zM169.29,1075.86a3.5,3.5 0 1,0 7,0a3.5,3.5 0 1,0 -7,0zM165.16,1073.78a3.5,3.5 0 1,0 7,0a3.5,3.5 0 1,0 -7,0zM161.03,1071.76a3.5,3.5 0 1,0 7,0a3.5,3.5 0 1,0 -7,0zM156.9,1069.67a3.5,3.5 0 1,0 7,0a3.5,3.5 0 1,0 -7,0zM152.77,1067.58a3.5,3.5 0 1,0 7,0a3.5,3.5 0 1,0 -7,0zM148.64,1065.55a3.5,3.5 0 1,0 7,0a3.5,3.5 0 1,0 -7,0zM144.51,1063.57a3.5,3.5 0 1,0 7,0a3.5,3.5 0 1,0 -7,0zM140.38,1061.6a3.5,3.5 0 1,0 7,0a3.5,3.5 0 1,0 -7,0zM136.25,1059.65a3.5,3.5 0 1,0 7,0a3.5,3.5 0 1,0 -7,0zM132.12,1057.71a3.5,3.5 0 1,0 7,0a3.5,3.5 0 1,0 -7,0zM127.99,1055.79a3.5,3.5 0 1,0 7,0a3.5,3.5 0 1,0 -7,0zM123.86,1053.9a3.5,3.5 0 1,0 7,0a3.5,3.5 0 1,0 -7,0zM119.73,1052.02a3.5,3.5 0 1,0 7,0a3.5,3.5 0 1,0 -7,0zM115.6,1050.16a3.5,3.5 0 1,0 7,0a3.5,3.5 0 1,0 -7,0zM115.6,1050.16a3.5,3.5 0 1,0 7,0a3.5,3.5 0 1,0 -7,0zM119.73,1048.88a3.5,3.5 0 1,0 7,0a3.5,3.5 0 1,0 -7,0zM123.86,1048.27a3.5,3.5 0 1,0 7,0a3.5,3.5 0 1,0 -7,0zM127.99,1048.47a3.5,3.5 0 1,0 7,0a3.5,3.5 0 1,0 -7,0zM132.12,1049.03a3.5,3.5 0 1,0 7,0a3.5,3.5 0 1,0 -7,0zM136.25,1049.88a3.5,3.5 0 1,0 7,0a3.5,3.5 0 1,0 -7,0zM140.38,1050.94a3.5,3.5 0 1,0 7,0a3.5,3.5 0 1,0 -7,0zM144.51,1052.14a3.5,3.5 0 1,0 7,0a3.5,3.5 0 1,0 -7,0zM148.64,1053.41a3.5,3.5 0 1,0 7,0a3.5,3.5 0 1,0 -7,0zM152.77,1054.67a3.5,3.5 0 1,0 7,0a3.5,3.5 0 1,0 -7,0zM156.9,1055.86a3.5,3.5 0 1,0 7,0a3.5,3.5 0 1,0 -7,0zM161.03,1057.03a3.5,3.5 0 1,0 7,0a3.5,3.5 0 1,0 -7,0zM165.16,1058.3a3.5,3.5 0 1,0 7,0a3.5,3.5 0 1,0 -7,0zM169.29,1059.65a3.5,3.5 0 1,0 7,0a3.5,3.5 0 1,0 -7,0zM173.42,1061.05a3.5,3.5 0 1,0 7,0a3.5,3.5 0 1,0 -7,0zM177.55,1062.49a3.5,3.5 0 1,0 7,0a3.5,3.5 0 1,0 -7,0zM181.68,1063.95a3.5,3.5 0 1,0 7,0a3.5,3.5 0 1,0 -7,0zM185.81,1065.42a3.5,3.5 0 1,0 7,0a3.5,3.5 0 1,0 -7,0zM189.94,1066.88a3.5,3.5 0 1,0 7,0a3.5,3.5 0 1,0 -7,0zM194.07,1068.35a3.5,3.5 0 1,0 7,0a3.5,3.5 0 1,0 -7,0zM198.2,1069.83a3.5,3.5 0 1,0 7,0a3.5,3.5 0 1,0 -7,0zM202.33,1071.34a3.5,3.5 0 1,0 7,0a3.5,3.5 0 1,0 -7,0zM206.46,1072.88a3.5,3.5 0 1,0 7,0a3.5,3.5 0 1,0 -7,0zM210.59,1074.45a3.5,3.5 0 1,0 7,0a3.5,3.5 0 1,0 -7,0zM214.72,1076.05a3.5,3.5 0 1,0 7,0a3.5,3.5 0 1,0 -7,0zM218.85,1077.69a3.5,3.5 0 1,0 7,0a3.5,3.5 0 1,0 -7,0zM222.98,1079.35a3.5,3.5 0 1,0 7,0a3.5,3.5 0 1,0 -7,0zM227.11,1081.05a3.5,3.5 0 1,0 7,0a3.5,3.5 0 1,0 -7,0zM231.24,1082.78a3.5,3.5 0 1,0 7,0a3.5,3.5 0 1,0 -7,0zM235.37,1084.55a3.5,3.5 0 1,0 7,0a3.5,3.5 0 1,0 -7,0zM239.5,1086.37a3.5,3.5 0 1,0 7,0a3.5,3.5 0 1,0 -7,0zM243.63,1088.24a3.5,3.5 0 1,0 7,0a3.5,3.5 0 1,0 -7,0zM247.76,1090.18a3.5,3.5 0 1,0 7,0a3.5,3.5 0 1,0 -7,0zM251.89,1092.18a3.5,3.5 0 1,0 7,0a3.5,3.5 0 1,0 -7,0zM256.02,1094.25a3.5,3.5 0 1,0 7,0a3.5,3.5 0 1,0 -7,0zM260.15,1096.4a3.5,3.5 0 1,0 7,0a3.5,3.5 0 1,0 -7,0zM264.28,1098.61a3.5,3.5 0 1,0 7,0a3.5,3.5 0 1,0 -7,0zM268.41,1100.88a3.5,3.5 0 1,0 7,0a3.5,3.5 0 1,0 -7,0zM272.54,1103.21a3.5,3.5 0 1,0 7,0a3.5,3.5 0 1,0 -7,0zM276.67,1105.6a3.5,3.5 0 1,0 7,0a3.5,3.5 0 1,0 -7,0zM280.8,1108.05a3.5,3.5 0 1,0 7,0a3.5,3.5 0 1,0 -7,0z" fill="#3079C0"/>
</g>
<rect x="77.7" y="968.7" width="413.1" height="332.3" fill="none" stroke="#2b2b2b" stroke-width="1.4"/>
<path d="M77.8,1301v3.2M119.1,1301v6.3M160.4,1301v3.2M201.7,1301v6.3M243,1301v3.2M284.3,1301v6.3M325.6,1301v3.2M366.9,1301v6.3M408.2,1301v3.2M449.5,1301v6.3M490.8,1301v3.2M77.7,1016h-6.3M77.7,1110.9h-6.3M77.7,1205.8h-6.3M77.7,1300.7h-6.3M77.7,968.55h-3.2M77.7,1063.45h-3.2M77.7,1158.35h-3.2M77.7,1253.25h-3.2" stroke="#2b2b2b" stroke-width="1.4" fill="none"/>
<text x="119.1" y="1329.5" font-size="21.5" text-anchor="middle" transform="matrix(1,0,0,1.1,0,-132.95)">-2</text>
<text x="201.7" y="1329.5" font-size="21.5" text-anchor="middle" transform="matrix(1,0,0,1.1,0,-132.95)">-1</text>
<text x="284.3" y="1329.5" font-size="21.5" text-anchor="middle" transform="matrix(1,0,0,1.1,0,-132.95)">0</text>
<text x="366.9" y="1329.5" font-size="21.5" text-anchor="middle" transform="matrix(1,0,0,1.1,0,-132.95)">1</text>
<text x="449.5" y="1329.5" font-size="21.5" text-anchor="middle" transform="matrix(1,0,0,1.1,0,-132.95)">2</text>
<text x="66.2" y="1023.2" font-size="21.5" text-anchor="end" transform="matrix(1,0,0,1.1,0,-102.32)">0.1</text>
<text x="66.2" y="1118.1" font-size="21.5" text-anchor="end" transform="matrix(1,0,0,1.1,0,-111.81)">0.0</text>
<text x="66.2" y="1213" font-size="21.5" text-anchor="end" transform="matrix(1,0,0,1.1,0,-121.3)">-0.1</text>
<text x="66.2" y="1307.9" font-size="21.5" text-anchor="end" transform="matrix(1,0,0,1.1,0,-130.79)">-0.2</text>
<text transform="translate(21.5,1127.1) rotate(-90)" font-size="28" text-anchor="middle"><tspan font-style="italic">S</tspan> (%)</text>
<text x="207" y="1369.6" font-size="29" transform="matrix(1,0,0,1.06,0,-82.18)"><tspan font-style="italic">E</tspan> (kV mm<tspan font-size="18.5" dy="-10.5">&#8722;1</tspan><tspan dy="10.5">)</tspan></text>
<text x="411.5" y="1224.3" font-size="26" font-weight="bold" fill="#E00A0A" transform="matrix(1,0,0,1.07,0,-85.7)">0.002</text>
<text x="411.5" y="1257" font-size="26" font-weight="bold" fill="#2166B6" transform="matrix(1,0,0,1.07,0,-87.99)">0.006</text>
<text x="411.5" y="1289.6" font-size="26" font-weight="bold" fill="#30A030" transform="matrix(1,0,0,1.07,0,-90.27)">0.008</text>
<text x="403" y="1000.5" font-size="35" >{110}</text>
<text x="10.5" y="959.5" font-size="41" font-weight="bold" transform="translate(10.5,0) scale(0.95,1) translate(-10.5,0)">d</text>
<clipPath id="clipe"><rect x="579.6" y="964.4" width="413.1" height="332.3"/></clipPath>
<g clip-path="url(#clipe)">
<polyline points="786.1,1110.5 790.23,1116.49 794.36,1119.63 798.49,1122.19 802.62,1125.5 806.75,1129.84 810.88,1134.81 815.01,1140.28 819.14,1146.52 823.27,1153.45 827.4,1161.23 831.53,1170.4 835.66,1180.18 839.79,1187.3 843.92,1191.94 848.05,1188.67 852.18,1180.85 856.31,1175.54 860.44,1170.63 864.57,1165.12 868.7,1158.88 872.83,1152.25 876.96,1145.59 881.09,1139.22 885.22,1133.3 889.35,1127.57 893.48,1121.98 897.61,1116.51 901.74,1111.12 905.87,1105.76 910,1100.41 914.13,1095.12 918.26,1089.98 922.39,1085.07 926.52,1080.47 930.65,1076.08 934.78,1071.83 938.91,1067.76 943.04,1063.87 947.17,1060.17 951.3,1056.69" stroke="#E8161B" fill="none" stroke-width="1.5" />
<polyline points="951.3,1056.69 947.17,1055.37 943.04,1054.35 938.91,1053.86 934.78,1053.96 930.65,1054.38 926.52,1055.04 922.39,1055.85 918.26,1056.75 914.13,1057.64 910,1058.46 905.87,1059.25 901.74,1060.06 897.61,1060.91 893.48,1061.78 889.35,1062.68 885.22,1063.62 881.09,1064.6 876.96,1065.63 872.83,1066.69 868.7,1067.81 864.57,1068.98 860.44,1070.22 856.31,1071.53 852.18,1072.92 848.05,1074.37 843.92,1075.89 839.79,1077.46 835.66,1079.09 831.53,1080.78 827.4,1082.52 823.27,1084.3 819.14,1086.21 815.01,1088.3 810.88,1090.5 806.75,1092.77 802.62,1095.07 798.49,1097.34 794.36,1099.54 790.23,1101.7 786.1,1103.85" stroke="#E8161B" fill="none" stroke-width="1.5" />
<polyline points="786.1,1106.7 781.97,1107.84 777.84,1110.55 773.71,1114.27 769.58,1118.56 765.45,1125.39 761.32,1133.27 757.19,1140.77 753.06,1148.35 748.93,1155.54 744.8,1162.87 740.67,1171.11 736.54,1180.85 732.41,1190.51 728.28,1198.44 724.15,1194.28 720.02,1186.63 715.89,1180.24 711.76,1174.58 707.63,1169.49 703.5,1164.59 699.37,1159.79 695.24,1155.12 691.11,1150.38 686.98,1145.49 682.85,1140.53 678.72,1135.4 674.59,1129.99 670.46,1124.31 666.33,1118.43 662.2,1112.41 658.07,1106.12 653.94,1099.7 649.81,1093.41 645.68,1087.22 641.55,1081.13 637.42,1075.48 633.29,1070.42 629.16,1065.67 625.03,1061.3 620.9,1057.35" stroke="#E8161B" fill="none" stroke-width="1.5" />
<polyline points="620.9,1057.35 625.03,1054.69 629.16,1052.29 633.29,1050.36 637.42,1049.14 641.55,1048.81 645.68,1048.89 649.81,1049.07 653.94,1049.32 658.07,1049.63 662.2,1049.97 666.33,1050.4 670.46,1051.03 674.59,1051.83 678.72,1052.8 682.85,1053.88 686.98,1055.06 691.11,1056.31 695.24,1057.61 699.37,1058.91 703.5,1060.2 707.63,1061.51 711.76,1062.9 715.89,1064.36 720.02,1065.9 724.15,1067.51 728.28,1069.2 732.41,1070.97 736.54,1072.82 740.67,1074.74 744.8,1076.74 748.93,1078.94 753.06,1081.35 757.19,1083.9 761.32,1086.56 765.45,1089.26 769.58,1091.94 773.71,1094.6 777.84,1097.32 781.97,1100.09 786.1,1102.9" stroke="#E8161B" fill="none" stroke-width="1.5" />
<path d="M783.1,1107.5h6v6h-6zM787.23,1113.49h6v6h-6zM791.36,1116.63h6v6h-6zM795.49,1119.19h6v6h-6zM799.62,1122.5h6v6h-6zM803.75,1126.84h6v6h-6zM807.88,1131.81h6v6h-6zM812.01,1137.28h6v6h-6zM816.14,1143.52h6v6h-6zM820.27,1150.45h6v6h-6zM824.4,1158.23h6v6h-6zM828.53,1167.4h6v6h-6zM832.66,1177.18h6v6h-6zM836.79,1184.3h6v6h-6zM840.92,1188.94h6v6h-6zM845.05,1185.67h6v6h-6zM849.18,1177.85h6v6h-6zM853.31,1172.54h6v6h-6zM857.44,1167.63h6v6h-6zM861.57,1162.12h6v6h-6zM865.7,1155.88h6v6h-6zM869.83,1149.25h6v6h-6zM873.96,1142.59h6v6h-6zM878.09,1136.22h6v6h-6zM882.22,1130.3h6v6h-6zM886.35,1124.57h6v6h-6zM890.48,1118.98h6v6h-6zM894.61,1113.51h6v6h-6zM898.74,1108.12h6v6h-6zM902.87,1102.76h6v6h-6zM907,1097.41h6v6h-6zM911.13,1092.12h6v6h-6zM915.26,1086.98h6v6h-6zM919.39,1082.07h6v6h-6zM923.52,1077.47h6v6h-6zM927.65,1073.08h6v6h-6zM931.78,1068.83h6v6h-6zM935.91,1064.76h6v6h-6zM940.04,1060.87h6v6h-6zM944.17,1057.17h6v6h-6zM948.3,1053.69h6v6h-6zM948.3,1053.69h6v6h-6zM944.17,1052.37h6v6h-6zM940.04,1051.35h6v6h-6zM935.91,1050.86h6v6h-6zM931.78,1050.96h6v6h-6zM927.65,1051.38h6v6h-6zM923.52,1052.04h6v6h-6zM919.39,1052.85h6v6h-6zM915.26,1053.75h6v6h-6zM911.13,1054.64h6v6h-6zM907,1055.46h6v6h-6zM902.87,1056.25h6v6h-6zM898.74,1057.06h6v6h-6zM894.61,1057.91h6v6h-6zM890.48,1058.78h6v6h-6zM886.35,1059.68h6v6h-6zM882.22,1060.62h6v6h-6zM878.09,1061.6h6v6h-6zM873.96,1062.63h6v6h-6zM869.83,1063.69h6v6h-6zM865.7,1064.81h6v6h-6zM861.57,1065.98h6v6h-6zM857.44,1067.22h6v6h-6zM853.31,1068.53h6v6h-6zM849.18,1069.92h6v6h-6zM845.05,1071.37h6v6h-6zM840.92,1072.89h6v6h-6zM836.79,1074.46h6v6h-6zM832.66,1076.09h6v6h-6zM828.53,1077.78h6v6h-6zM824.4,1079.52h6v6h-6zM820.27,1081.3h6v6h-6zM816.14,1083.21h6v6h-6zM812.01,1085.3h6v6h-6zM807.88,1087.5h6v6h-6zM803.75,1089.77h6v6h-6zM799.62,1092.07h6v6h-6zM795.49,1094.34h6v6h-6zM791.36,1096.54h6v6h-6zM787.23,1098.7h6v6h-6zM783.1,1100.85h6v6h-6zM783.1,1103.7h6v6h-6zM778.97,1104.84h6v6h-6zM774.84,1107.55h6v6h-6zM770.71,1111.27h6v6h-6zM766.58,1115.56h6v6h-6zM762.45,1122.39h6v6h-6zM758.32,1130.27h6v6h-6zM754.19,1137.77h6v6h-6zM750.06,1145.35h6v6h-6zM745.93,1152.54h6v6h-6zM741.8,1159.87h6v6h-6zM737.67,1168.11h6v6h-6zM733.54,1177.85h6v6h-6zM729.41,1187.51h6v6h-6zM725.28,1195.44h6v6h-6zM721.15,1191.28h6v6h-6zM717.02,1183.63h6v6h-6zM712.89,1177.24h6v6h-6zM708.76,1171.58h6v6h-6zM704.63,1166.49h6v6h-6zM700.5,1161.59h6v6h-6zM696.37,1156.79h6v6h-6zM692.24,1152.12h6v6h-6zM688.11,1147.38h6v6h-6zM683.98,1142.49h6v6h-6zM679.85,1137.53h6v6h-6zM675.72,1132.4h6v6h-6zM671.59,1126.99h6v6h-6zM667.46,1121.31h6v6h-6zM663.33,1115.43h6v6h-6zM659.2,1109.41h6v6h-6zM655.07,1103.12h6v6h-6zM650.94,1096.7h6v6h-6zM646.81,1090.41h6v6h-6zM642.68,1084.22h6v6h-6zM638.55,1078.13h6v6h-6zM634.42,1072.48h6v6h-6zM630.29,1067.42h6v6h-6zM626.16,1062.67h6v6h-6zM622.03,1058.3h6v6h-6zM617.9,1054.35h6v6h-6zM617.9,1054.35h6v6h-6zM622.03,1051.69h6v6h-6zM626.16,1049.29h6v6h-6zM630.29,1047.36h6v6h-6zM634.42,1046.14h6v6h-6zM638.55,1045.81h6v6h-6zM642.68,1045.89h6v6h-6zM646.81,1046.07h6v6h-6zM650.94,1046.32h6v6h-6zM655.07,1046.63h6v6h-6zM659.2,1046.97h6v6h-6zM663.33,1047.4h6v6h-6zM667.46,1048.03h6v6h-6zM671.59,1048.83h6v6h-6zM675.72,1049.8h6v6h-6zM679.85,1050.88h6v6h-6zM683.98,1052.06h6v6h-6zM688.11,1053.31h6v6h-6zM692.24,1054.61h6v6h-6zM696.37,1055.91h6v6h-6zM700.5,1057.2h6v6h-6zM704.63,1058.51h6v6h-6zM708.76,1059.9h6v6h-6zM712.89,1061.36h6v6h-6zM717.02,1062.9h6v6h-6zM721.15,1064.51h6v6h-6zM725.28,1066.2h6v6h-6zM729.41,1067.97h6v6h-6zM733.54,1069.82h6v6h-6zM737.67,1071.74h6v6h-6zM741.8,1073.74h6v6h-6zM745.93,1075.94h6v6h-6zM750.06,1078.35h6v6h-6zM754.19,1080.9h6v6h-6zM758.32,1083.56h6v6h-6zM762.45,1086.26h6v6h-6zM766.58,1088.94h6v6h-6zM770.71,1091.6h6v6h-6zM774.84,1094.32h6v6h-6zM778.97,1097.09h6v6h-6zM783.1,1099.9h6v6h-6z" fill="#E8161B"/>
<polyline points="786.1,1128.53 790.23,1130.92 794.36,1133.69 798.49,1136.78 802.62,1140.13 806.75,1143.9 810.88,1148.1 815.01,1152.7 819.14,1157.77 823.27,1163.5 827.4,1169.66 831.53,1176.63 835.66,1183.23 839.79,1190.14 843.92,1195.32 848.05,1194.92 852.18,1189.92 856.31,1174.37 860.44,1152.25 864.57,1139.44 868.7,1127.58 872.83,1119.11 876.96,1112.03 881.09,1105.94 885.22,1100.48 889.35,1095.53 893.48,1091 897.61,1086.81 901.74,1082.88 905.87,1079.16 910,1075.68 914.13,1072.41 918.26,1069.3 922.39,1066.32 926.52,1063.42 930.65,1060.59 934.78,1057.85 938.91,1055.2 943.04,1052.64 947.17,1050.2 951.3,1047.86" stroke="#43A843" fill="none" stroke-width="1.5" />
<polyline points="951.3,1047.86 947.17,1048.58 943.04,1049.31 938.91,1050.06 934.78,1050.83 930.65,1051.62 926.52,1052.44 922.39,1053.27 918.26,1054.11 914.13,1054.96 910,1055.83 905.87,1056.71 901.74,1057.62 897.61,1058.56 893.48,1059.53 889.35,1060.54 885.22,1061.6 881.09,1062.7 876.96,1063.85 872.83,1065.05 868.7,1066.3 864.57,1067.6 860.44,1068.96 856.31,1070.37 852.18,1071.84 848.05,1073.37 843.92,1074.95 839.79,1076.6 835.66,1078.33 831.53,1080.18 827.4,1082.16 823.27,1084.24 819.14,1086.41 815.01,1088.65 810.88,1090.96 806.75,1093.32 802.62,1095.71 798.49,1098.12 794.36,1100.55 790.23,1103.1 786.1,1105.75" stroke="#43A843" fill="none" stroke-width="1.5" />
<polyline points="786.1,1106.7 781.97,1108.43 777.84,1110.8 773.71,1113.66 769.58,1116.87 765.45,1120.93 761.32,1125.77 757.19,1130.9 753.06,1136.27 748.93,1142.07 744.8,1148.16 740.67,1154.55 736.54,1161.34 732.41,1168.47 728.28,1176.05 724.15,1183.36 720.02,1188.31 715.89,1186.67 711.76,1182.42 707.63,1173.75 703.5,1161.74 699.37,1153.92 695.24,1147.45 691.11,1141.23 686.98,1134.48 682.85,1127.67 678.72,1121.33 674.59,1115.89 670.46,1111.16 666.33,1106.66 662.2,1101.92 658.07,1096.84 653.94,1091.7 649.81,1086.77 645.68,1082.05 641.55,1077.48 637.42,1073.3 633.29,1069.59 629.16,1066.14 625.03,1062.99 620.9,1060.2" stroke="#43A843" fill="none" stroke-width="1.5" />
<polyline points="620.9,1060.2 625.03,1058.07 629.16,1056.56 633.29,1055.94 637.42,1055.46 641.55,1055.1 645.68,1054.87 649.81,1054.79 653.94,1054.93 658.07,1055.33 662.2,1055.95 666.33,1056.75 670.46,1057.7 674.59,1058.75 678.72,1059.87 682.85,1061.02 686.98,1062.16 691.11,1063.26 695.24,1064.42 699.37,1065.68 703.5,1067.04 707.63,1068.48 711.76,1070 715.89,1071.58 720.02,1073.21 724.15,1074.89 728.28,1076.59 732.41,1078.34 736.54,1080.23 740.67,1082.23 744.8,1084.3 748.93,1086.41 753.06,1088.51 757.19,1090.57 761.32,1092.59 765.45,1094.62 769.58,1096.65 773.71,1098.68 777.84,1100.72 781.97,1102.76 786.1,1104.8" stroke="#43A843" fill="none" stroke-width="1.5" />
<path d="M786.1,1124.33l3.9,6.8h-7.8zM790.23,1126.72l3.9,6.8h-7.8zM794.36,1129.49l3.9,6.8h-7.8zM798.49,1132.58l3.9,6.8h-7.8zM802.62,1135.93l3.9,6.8h-7.8zM806.75,1139.7l3.9,6.8h-7.8zM810.88,1143.9l3.9,6.8h-7.8zM815.01,1148.5l3.9,6.8h-7.8zM819.14,1153.57l3.9,6.8h-7.8zM823.27,1159.3l3.9,6.8h-7.8zM827.4,1165.46l3.9,6.8h-7.8zM831.53,1172.43l3.9,6.8h-7.8zM835.66,1179.03l3.9,6.8h-7.8zM839.79,1185.94l3.9,6.8h-7.8zM843.92,1191.12l3.9,6.8h-7.8zM848.05,1190.72l3.9,6.8h-7.8zM852.18,1185.72l3.9,6.8h-7.8zM856.31,1170.17l3.9,6.8h-7.8zM860.44,1148.05l3.9,6.8h-7.8zM864.57,1135.24l3.9,6.8h-7.8zM868.7,1123.38l3.9,6.8h-7.8zM872.83,1114.91l3.9,6.8h-7.8zM876.96,1107.83l3.9,6.8h-7.8zM881.09,1101.74l3.9,6.8h-7.8zM885.22,1096.28l3.9,6.8h-7.8zM889.35,1091.33l3.9,6.8h-7.8zM893.48,1086.8l3.9,6.8h-7.8zM897.61,1082.61l3.9,6.8h-7.8zM901.74,1078.68l3.9,6.8h-7.8zM905.87,1074.96l3.9,6.8h-7.8zM910,1071.48l3.9,6.8h-7.8zM914.13,1068.21l3.9,6.8h-7.8zM918.26,1065.1l3.9,6.8h-7.8zM922.39,1062.12l3.9,6.8h-7.8zM926.52,1059.22l3.9,6.8h-7.8zM930.65,1056.39l3.9,6.8h-7.8zM934.78,1053.65l3.9,6.8h-7.8zM938.91,1051l3.9,6.8h-7.8zM943.04,1048.44l3.9,6.8h-7.8zM947.17,1046l3.9,6.8h-7.8zM951.3,1043.66l3.9,6.8h-7.8zM951.3,1043.66l3.9,6.8h-7.8zM947.17,1044.38l3.9,6.8h-7.8zM943.04,1045.11l3.9,6.8h-7.8zM938.91,1045.86l3.9,6.8h-7.8zM934.78,1046.63l3.9,6.8h-7.8zM930.65,1047.42l3.9,6.8h-7.8zM926.52,1048.24l3.9,6.8h-7.8zM922.39,1049.07l3.9,6.8h-7.8zM918.26,1049.91l3.9,6.8h-7.8zM914.13,1050.76l3.9,6.8h-7.8zM910,1051.63l3.9,6.8h-7.8zM905.87,1052.51l3.9,6.8h-7.8zM901.74,1053.42l3.9,6.8h-7.8zM897.61,1054.36l3.9,6.8h-7.8zM893.48,1055.33l3.9,6.8h-7.8zM889.35,1056.34l3.9,6.8h-7.8zM885.22,1057.4l3.9,6.8h-7.8zM881.09,1058.5l3.9,6.8h-7.8zM876.96,1059.65l3.9,6.8h-7.8zM872.83,1060.85l3.9,6.8h-7.8zM868.7,1062.1l3.9,6.8h-7.8zM864.57,1063.4l3.9,6.8h-7.8zM860.44,1064.76l3.9,6.8h-7.8zM856.31,1066.17l3.9,6.8h-7.8zM852.18,1067.64l3.9,6.8h-7.8zM848.05,1069.17l3.9,6.8h-7.8zM843.92,1070.75l3.9,6.8h-7.8zM839.79,1072.4l3.9,6.8h-7.8zM835.66,1074.13l3.9,6.8h-7.8zM831.53,1075.98l3.9,6.8h-7.8zM827.4,1077.96l3.9,6.8h-7.8zM823.27,1080.04l3.9,6.8h-7.8zM819.14,1082.21l3.9,6.8h-7.8zM815.01,1084.45l3.9,6.8h-7.8zM810.88,1086.76l3.9,6.8h-7.8zM806.75,1089.12l3.9,6.8h-7.8zM802.62,1091.51l3.9,6.8h-7.8zM798.49,1093.92l3.9,6.8h-7.8zM794.36,1096.35l3.9,6.8h-7.8zM790.23,1098.9l3.9,6.8h-7.8zM786.1,1101.55l3.9,6.8h-7.8zM786.1,1102.5l3.9,6.8h-7.8zM781.97,1104.23l3.9,6.8h-7.8zM777.84,1106.6l3.9,6.8h-7.8zM773.71,1109.46l3.9,6.8h-7.8zM769.58,1112.67l3.9,6.8h-7.8zM765.45,1116.73l3.9,6.8h-7.8zM761.32,1121.57l3.9,6.8h-7.8zM757.19,1126.7l3.9,6.8h-7.8zM753.06,1132.07l3.9,6.8h-7.8zM748.93,1137.87l3.9,6.8h-7.8zM744.8,1143.96l3.9,6.8h-7.8zM740.67,1150.35l3.9,6.8h-7.8zM736.54,1157.14l3.9,6.8h-7.8zM732.41,1164.27l3.9,6.8h-7.8zM728.28,1171.85l3.9,6.8h-7.8zM724.15,1179.16l3.9,6.8h-7.8zM720.02,1184.11l3.9,6.8h-7.8zM715.89,1182.47l3.9,6.8h-7.8zM711.76,1178.22l3.9,6.8h-7.8zM707.63,1169.55l3.9,6.8h-7.8zM703.5,1157.54l3.9,6.8h-7.8zM699.37,1149.72l3.9,6.8h-7.8zM695.24,1143.25l3.9,6.8h-7.8zM691.11,1137.03l3.9,6.8h-7.8zM686.98,1130.28l3.9,6.8h-7.8zM682.85,1123.47l3.9,6.8h-7.8zM678.72,1117.13l3.9,6.8h-7.8zM674.59,1111.69l3.9,6.8h-7.8zM670.46,1106.96l3.9,6.8h-7.8zM666.33,1102.46l3.9,6.8h-7.8zM662.2,1097.72l3.9,6.8h-7.8zM658.07,1092.64l3.9,6.8h-7.8zM653.94,1087.5l3.9,6.8h-7.8zM649.81,1082.57l3.9,6.8h-7.8zM645.68,1077.85l3.9,6.8h-7.8zM641.55,1073.28l3.9,6.8h-7.8zM637.42,1069.1l3.9,6.8h-7.8zM633.29,1065.39l3.9,6.8h-7.8zM629.16,1061.94l3.9,6.8h-7.8zM625.03,1058.79l3.9,6.8h-7.8zM620.9,1056l3.9,6.8h-7.8zM620.9,1056l3.9,6.8h-7.8zM625.03,1053.87l3.9,6.8h-7.8zM629.16,1052.36l3.9,6.8h-7.8zM633.29,1051.74l3.9,6.8h-7.8zM637.42,1051.26l3.9,6.8h-7.8zM641.55,1050.9l3.9,6.8h-7.8zM645.68,1050.67l3.9,6.8h-7.8zM649.81,1050.59l3.9,6.8h-7.8zM653.94,1050.73l3.9,6.8h-7.8zM658.07,1051.13l3.9,6.8h-7.8zM662.2,1051.75l3.9,6.8h-7.8zM666.33,1052.55l3.9,6.8h-7.8zM670.46,1053.5l3.9,6.8h-7.8zM674.59,1054.55l3.9,6.8h-7.8zM678.72,1055.67l3.9,6.8h-7.8zM682.85,1056.82l3.9,6.8h-7.8zM686.98,1057.96l3.9,6.8h-7.8zM691.11,1059.06l3.9,6.8h-7.8zM695.24,1060.22l3.9,6.8h-7.8zM699.37,1061.48l3.9,6.8h-7.8zM703.5,1062.84l3.9,6.8h-7.8zM707.63,1064.28l3.9,6.8h-7.8zM711.76,1065.8l3.9,6.8h-7.8zM715.89,1067.38l3.9,6.8h-7.8zM720.02,1069.01l3.9,6.8h-7.8zM724.15,1070.69l3.9,6.8h-7.8zM728.28,1072.39l3.9,6.8h-7.8zM732.41,1074.14l3.9,6.8h-7.8zM736.54,1076.03l3.9,6.8h-7.8zM740.67,1078.03l3.9,6.8h-7.8zM744.8,1080.1l3.9,6.8h-7.8zM748.93,1082.21l3.9,6.8h-7.8zM753.06,1084.31l3.9,6.8h-7.8zM757.19,1086.37l3.9,6.8h-7.8zM761.32,1088.39l3.9,6.8h-7.8zM765.45,1090.42l3.9,6.8h-7.8zM769.58,1092.45l3.9,6.8h-7.8zM773.71,1094.48l3.9,6.8h-7.8zM777.84,1096.52l3.9,6.8h-7.8zM781.97,1098.56l3.9,6.8h-7.8zM786.1,1100.6l3.9,6.8h-7.8z" fill="#43A843"/>
<polyline points="786.1,1186.42 790.23,1188.12 794.36,1191.7 798.49,1196.3 802.62,1204.75 806.75,1227.68 810.88,1251.9 815.01,1274.67 819.14,1226.27 823.27,1168.18 827.4,1149.15 831.53,1139.44 835.66,1131.07 839.79,1123.22 843.92,1115.88 848.05,1106.7 852.18,1100.1 856.31,1094.18 860.44,1088.44 864.57,1082.15 868.7,1076.35 872.83,1071.28 876.96,1066.58 881.09,1062.05 885.22,1057.54 889.35,1053.07 893.48,1048.72 897.61,1044.59 901.74,1040.75 905.87,1037.24 910,1033.87 914.13,1030.67 918.26,1027.71 922.39,1025.05 926.52,1022.76 930.65,1020.66 934.78,1018.69 938.91,1016.88 943.04,1015.27 947.17,1013.88 951.3,1012.75" stroke="#3079C0" fill="none" stroke-width="1.5" />
<polyline points="951.3,1012.75 947.17,1008.95 943.04,1009.33 938.91,1010.29 934.78,1011.62 930.65,1013.07 926.52,1014.41 922.39,1015.54 918.26,1016.64 914.13,1017.73 910,1018.85 905.87,1020.02 901.74,1021.27 897.61,1022.61 893.48,1024.11 889.35,1025.81 885.22,1027.67 881.09,1029.65 876.96,1031.68 872.83,1033.72 868.7,1035.71 864.57,1037.59 860.44,1039.4 856.31,1041.18 852.18,1042.97 848.05,1044.81 843.92,1046.76 839.79,1048.87 835.66,1051.13 831.53,1053.48 827.4,1055.94 823.27,1058.58 819.14,1061.46 815.01,1064.63 810.88,1068.16 806.75,1072.2 802.62,1077.07 798.49,1082.71 794.36,1088.97 790.23,1095.75 786.1,1102.9" stroke="#3079C0" fill="none" stroke-width="1.5" />
<polyline points="786.1,1106.7 781.97,1113.11 777.84,1119.9 773.71,1127.16 769.58,1135.17 765.45,1146.56 761.32,1164.59 757.19,1187.37 753.06,1225.33 748.93,1265.18 744.8,1240.51 740.67,1205.66 736.54,1194.31 732.41,1182.69 728.28,1171.44 724.15,1161.23 720.02,1151.73 715.89,1142.97 711.76,1134.92 707.63,1127.35 703.5,1119.99 699.37,1112.72 695.24,1105.66 691.11,1098.83 686.98,1092.18 682.85,1085.69 678.72,1079.57 674.59,1073.99 670.46,1068.79 666.33,1063.91 662.2,1059.3 658.07,1054.92 653.94,1050.79 649.81,1046.91 645.68,1043.18 641.55,1039.63 637.42,1036.54 633.29,1033.95 629.16,1031.61 625.03,1029.58 620.9,1027.93" stroke="#3079C0" fill="none" stroke-width="1.5" />
<polyline points="620.9,1027.93 625.03,1024.73 629.16,1022.78 633.29,1022.92 637.42,1023.68 641.55,1024.89 645.68,1026.43 649.81,1028.17 653.94,1029.98 658.07,1031.75 662.2,1033.34 666.33,1034.74 670.46,1036.13 674.59,1037.51 678.72,1038.89 682.85,1040.29 686.98,1041.72 691.11,1043.17 695.24,1044.68 699.37,1046.24 703.5,1047.86 707.63,1049.53 711.76,1051.23 715.89,1052.96 720.02,1054.75 724.15,1056.6 728.28,1058.53 732.41,1060.56 736.54,1062.69 740.67,1064.94 744.8,1067.33 748.93,1069.96 753.06,1072.83 757.19,1075.92 761.32,1079.18 765.45,1082.57 769.58,1086.06 773.71,1089.7 777.84,1093.59 781.97,1097.69 786.1,1101.96" stroke="#3079C0" fill="none" stroke-width="1.5" />
<path d="M782.6,1186.42a3.5,3.5 0 1,0 7,0a3.5,3.5 0 1,0 -7,0zM786.73,1188.12a3.5,3.5 0 1,0 7,0a3.5,3.5 0 1,0 -7,0zM790.86,1191.7a3.5,3.5 0 1,0 7,0a3.5,3.5 0 1,0 -7,0zM794.99,1196.3a3.5,3.5 0 1,0 7,0a3.5,3.5 0 1,0 -7,0zM799.12,1204.75a3.5,3.5 0 1,0 7,0a3.5,3.5 0 1,0 -7,0zM803.25,1227.68a3.5,3.5 0 1,0 7,0a3.5,3.5 0 1,0 -7,0zM807.38,1251.9a3.5,3.5 0 1,0 7,0a3.5,3.5 0 1,0 -7,0zM811.51,1274.67a3.5,3.5 0 1,0 7,0a3.5,3.5 0 1,0 -7,0zM815.64,1226.27a3.5,3.5 0 1,0 7,0a3.5,3.5 0 1,0 -7,0zM819.77,1168.18a3.5,3.5 0 1,0 7,0a3.5,3.5 0 1,0 -7,0zM823.9,1149.15a3.5,3.5 0 1,0 7,0a3.5,3.5 0 1,0 -7,0zM828.03,1139.44a3.5,3.5 0 1,0 7,0a3.5,3.5 0 1,0 -7,0zM832.16,1131.07a3.5,3.5 0 1,0 7,0a3.5,3.5 0 1,0 -7,0zM836.29,1123.22a3.5,3.5 0 1,0 7,0a3.5,3.5 0 1,0 -7,0zM840.42,1115.88a3.5,3.5 0 1,0 7,0a3.5,3.5 0 1,0 -7,0zM844.55,1106.7a3.5,3.5 0 1,0 7,0a3.5,3.5 0 1,0 -7,0zM848.68,1100.1a3.5,3.5 0 1,0 7,0a3.5,3.5 0 1,0 -7,0zM852.81,1094.18a3.5,3.5 0 1,0 7,0a3.5,3.5 0 1,0 -7,0zM856.94,1088.44a3.5,3.5 0 1,0 7,0a3.5,3.5 0 1,0 -7,0zM861.07,1082.15a3.5,3.5 0 1,0 7,0a3.5,3.5 0 1,0 -7,0zM865.2,1076.35a3.5,3.5 0 1,0 7,0a3.5,3.5 0 1,0 -7,0zM869.33,1071.28a3.5,3.5 0 1,0 7,0a3.5,3.5 0 1,0 -7,0zM873.46,1066.58a3.5,3.5 0 1,0 7,0a3.5,3.5 0 1,0 -7,0zM877.59,1062.05a3.5,3.5 0 1,0 7,0a3.5,3.5 0 1,0 -7,0zM881.72,1057.54a3.5,3.5 0 1,0 7,0a3.5,3.5 0 1,0 -7,0zM885.85,1053.07a3.5,3.5 0 1,0 7,0a3.5,3.5 0 1,0 -7,0zM889.98,1048.72a3.5,3.5 0 1,0 7,0a3.5,3.5 0 1,0 -7,0zM894.11,1044.59a3.5,3.5 0 1,0 7,0a3.5,3.5 0 1,0 -7,0zM898.24,1040.75a3.5,3.5 0 1,0 7,0a3.5,3.5 0 1,0 -7,0zM902.37,1037.24a3.5,3.5 0 1,0 7,0a3.5,3.5 0 1,0 -7,0zM906.5,1033.87a3.5,3.5 0 1,0 7,0a3.5,3.5 0 1,0 -7,0zM910.63,1030.67a3.5,3.5 0 1,0 7,0a3.5,3.5 0 1,0 -7,0zM914.76,1027.71a3.5,3.5 0 1,0 7,0a3.5,3.5 0 1,0 -7,0zM918.89,1025.05a3.5,3.5 0 1,0 7,0a3.5,3.5 0 1,0 -7,0zM923.02,1022.76a3.5,3.5 0 1,0 7,0a3.5,3.5 0 1,0 -7,0zM927.15,1020.66a3.5,3.5 0 1,0 7,0a3.5,3.5 0 1,0 -7,0zM931.28,1018.69a3.5,3.5 0 1,0 7,0a3.5,3.5 0 1,0 -7,0zM935.41,1016.88a3.5,3.5 0 1,0 7,0a3.5,3.5 0 1,0 -7,0zM939.54,1015.27a3.5,3.5 0 1,0 7,0a3.5,3.5 0 1,0 -7,0zM943.67,1013.88a3.5,3.5 0 1,0 7,0a3.5,3.5 0 1,0 -7,0zM947.8,1012.75a3.5,3.5 0 1,0 7,0a3.5,3.5 0 1,0 -7,0zM947.8,1012.75a3.5,3.5 0 1,0 7,0a3.5,3.5 0 1,0 -7,0zM943.67,1008.95a3.5,3.5 0 1,0 7,0a3.5,3.5 0 1,0 -7,0zM939.54,1009.33a3.5,3.5 0 1,0 7,0a3.5,3.5 0 1,0 -7,0zM935.41,1010.29a3.5,3.5 0 1,0 7,0a3.5,3.5 0 1,0 -7,0zM931.28,1011.62a3.5,3.5 0 1,0 7,0a3.5,3.5 0 1,0 -7,0zM927.15,1013.07a3.5,3.5 0 1,0 7,0a3.5,3.5 0 1,0 -7,0zM923.02,1014.41a3.5,3.5 0 1,0 7,0a3.5,3.5 0 1,0 -7,0zM918.89,1015.54a3.5,3.5 0 1,0 7,0a3.5,3.5 0 1,0 -7,0zM914.76,1016.64a3.5,3.5 0 1,0 7,0a3.5,3.5 0 1,0 -7,0zM910.63,1017.73a3.5,3.5 0 1,0 7,0a3.5,3.5 0 1,0 -7,0zM906.5,1018.85a3.5,3.5 0 1,0 7,0a3.5,3.5 0 1,0 -7,0zM902.37,1020.02a3.5,3.5 0 1,0 7,0a3.5,3.5 0 1,0 -7,0zM898.24,1021.27a3.5,3.5 0 1,0 7,0a3.5,3.5 0 1,0 -7,0zM894.11,1022.61a3.5,3.5 0 1,0 7,0a3.5,3.5 0 1,0 -7,0zM889.98,1024.11a3.5,3.5 0 1,0 7,0a3.5,3.5 0 1,0 -7,0zM885.85,1025.81a3.5,3.5 0 1,0 7,0a3.5,3.5 0 1,0 -7,0zM881.72,1027.67a3.5,3.5 0 1,0 7,0a3.5,3.5 0 1,0 -7,0zM877.59,1029.65a3.5,3.5 0 1,0 7,0a3.5,3.5 0 1,0 -7,0zM873.46,1031.68a3.5,3.5 0 1,0 7,0a3.5,3.5 0 1,0 -7,0zM869.33,1033.72a3.5,3.5 0 1,0 7,0a3.5,3.5 0 1,0 -7,0zM865.2,1035.71a3.5,3.5 0 1,0 7,0a3.5,3.5 0 1,0 -7,0zM861.07,1037.59a3.5,3.5 0 1,0 7,0a3.5,3.5 0 1,0 -7,0zM856.94,1039.4a3.5,3.5 0 1,0 7,0a3.5,3.5 0 1,0 -7,0zM852.81,1041.18a3.5,3.5 0 1,0 7,0a3.5,3.5 0 1,0 -7,0zM848.68,1042.97a3.5,3.5 0 1,0 7,0a3.5,3.5 0 1,0 -7,0zM844.55,1044.81a3.5,3.5 0 1,0 7,0a3.5,3.5 0 1,0 -7,0zM840.42,1046.76a3.5,3.5 0 1,0 7,0a3.5,3.5 0 1,0 -7,0zM836.29,1048.87a3.5,3.5 0 1,0 7,0a3.5,3.5 0 1,0 -7,0zM832.16,1051.13a3.5,3.5 0 1,0 7,0a3.5,3.5 0 1,0 -7,0zM828.03,1053.48a3.5,3.5 0 1,0 7,0a3.5,3.5 0 1,0 -7,0zM823.9,1055.94a3.5,3.5 0 1,0 7,0a3.5,3.5 0 1,0 -7,0zM819.77,1058.58a3.5,3.5 0 1,0 7,0a3.5,3.5 0 1,0 -7,0zM815.64,1061.46a3.5,3.5 0 1,0 7,0a3.5,3.5 0 1,0 -7,0zM811.51,1064.63a3.5,3.5 0 1,0 7,0a3.5,3.5 0 1,0 -7,0zM807.38,1068.16a3.5,3.5 0 1,0 7,0a3.5,3.5 0 1,0 -7,0zM803.25,1072.2a3.5,3.5 0 1,0 7,0a3.5,3.5 0 1,0 -7,0zM799.12,1077.07a3.5,3.5 0 1,0 7,0a3.5,3.5 0 1,0 -7,0zM794.99,1082.71a3.5,3.5 0 1,0 7,0a3.5,3.5 0 1,0 -7,0zM790.86,1088.97a3.5,3.5 0 1,0 7,0a3.5,3.5 0 1,0 -7,0zM786.73,1095.75a3.5,3.5 0 1,0 7,0a3.5,3.5 0 1,0 -7,0zM782.6,1102.9a3.5,3.5 0 1,0 7,0a3.5,3.5 0 1,0 -7,0zM782.6,1106.7a3.5,3.5 0 1,0 7,0a3.5,3.5 0 1,0 -7,0zM778.47,1113.11a3.5,3.5 0 1,0 7,0a3.5,3.5 0 1,0 -7,0zM774.34,1119.9a3.5,3.5 0 1,0 7,0a3.5,3.5 0 1,0 -7,0zM770.21,1127.16a3.5,3.5 0 1,0 7,0a3.5,3.5 0 1,0 -7,0zM766.08,1135.17a3.5,3.5 0 1,0 7,0a3.5,3.5 0 1,0 -7,0zM761.95,1146.56a3.5,3.5 0 1,0 7,0a3.5,3.5 0 1,0 -7,0zM757.82,1164.59a3.5,3.5 0 1,0 7,0a3.5,3.5 0 1,0 -7,0zM753.69,1187.37a3.5,3.5 0 1,0 7,0a3.5,3.5 0 1,0 -7,0zM749.56,1225.33a3.5,3.5 0 1,0 7,0a3.5,3.5 0 1,0 -7,0zM745.43,1265.18a3.5,3.5 0 1,0 7,0a3.5,3.5 0 1,0 -7,0zM741.3,1240.51a3.5,3.5 0 1,0 7,0a3.5,3.5 0 1,0 -7,0zM737.17,1205.66a3.5,3.5 0 1,0 7,0a3.5,3.5 0 1,0 -7,0zM733.04,1194.31a3.5,3.5 0 1,0 7,0a3.5,3.5 0 1,0 -7,0zM728.91,1182.69a3.5,3.5 0 1,0 7,0a3.5,3.5 0 1,0 -7,0zM724.78,1171.44a3.5,3.5 0 1,0 7,0a3.5,3.5 0 1,0 -7,0zM720.65,1161.23a3.5,3.5 0 1,0 7,0a3.5,3.5 0 1,0 -7,0zM716.52,1151.73a3.5,3.5 0 1,0 7,0a3.5,3.5 0 1,0 -7,0zM712.39,1142.97a3.5,3.5 0 1,0 7,0a3.5,3.5 0 1,0 -7,0zM708.26,1134.92a3.5,3.5 0 1,0 7,0a3.5,3.5 0 1,0 -7,0zM704.13,1127.35a3.5,3.5 0 1,0 7,0a3.5,3.5 0 1,0 -7,0zM700,1119.99a3.5,3.5 0 1,0 7,0a3.5,3.5 0 1,0 -7,0zM695.87,1112.72a3.5,3.5 0 1,0 7,0a3.5,3.5 0 1,0 -7,0zM691.74,1105.66a3.5,3.5 0 1,0 7,0a3.5,3.5 0 1,0 -7,0zM687.61,1098.83a3.5,3.5 0 1,0 7,0a3.5,3.5 0 1,0 -7,0zM683.48,1092.18a3.5,3.5 0 1,0 7,0a3.5,3.5 0 1,0 -7,0zM679.35,1085.69a3.5,3.5 0 1,0 7,0a3.5,3.5 0 1,0 -7,0zM675.22,1079.57a3.5,3.5 0 1,0 7,0a3.5,3.5 0 1,0 -7,0zM671.09,1073.99a3.5,3.5 0 1,0 7,0a3.5,3.5 0 1,0 -7,0zM666.96,1068.79a3.5,3.5 0 1,0 7,0a3.5,3.5 0 1,0 -7,0zM662.83,1063.91a3.5,3.5 0 1,0 7,0a3.5,3.5 0 1,0 -7,0zM658.7,1059.3a3.5,3.5 0 1,0 7,0a3.5,3.5 0 1,0 -7,0zM654.57,1054.92a3.5,3.5 0 1,0 7,0a3.5,3.5 0 1,0 -7,0zM650.44,1050.79a3.5,3.5 0 1,0 7,0a3.5,3.5 0 1,0 -7,0zM646.31,1046.91a3.5,3.5 0 1,0 7,0a3.5,3.5 0 1,0 -7,0zM642.18,1043.18a3.5,3.5 0 1,0 7,0a3.5,3.5 0 1,0 -7,0zM638.05,1039.63a3.5,3.5 0 1,0 7,0a3.5,3.5 0 1,0 -7,0zM633.92,1036.54a3.5,3.5 0 1,0 7,0a3.5,3.5 0 1,0 -7,0zM629.79,1033.95a3.5,3.5 0 1,0 7,0a3.5,3.5 0 1,0 -7,0zM625.66,1031.61a3.5,3.5 0 1,0 7,0a3.5,3.5 0 1,0 -7,0zM621.53,1029.58a3.5,3.5 0 1,0 7,0a3.5,3.5 0 1,0 -7,0zM617.4,1027.93a3.5,3.5 0 1,0 7,0a3.5,3.5 0 1,0 -7,0zM617.4,1027.93a3.5,3.5 0 1,0 7,0a3.5,3.5 0 1,0 -7,0zM621.53,1024.73a3.5,3.5 0 1,0 7,0a3.5,3.5 0 1,0 -7,0zM625.66,1022.78a3.5,3.5 0 1,0 7,0a3.5,3.5 0 1,0 -7,0zM629.79,1022.92a3.5,3.5 0 1,0 7,0a3.5,3.5 0 1,0 -7,0zM633.92,1023.68a3.5,3.5 0 1,0 7,0a3.5,3.5 0 1,0 -7,0zM638.05,1024.89a3.5,3.5 0 1,0 7,0a3.5,3.5 0 1,0 -7,0zM642.18,1026.43a3.5,3.5 0 1,0 7,0a3.5,3.5 0 1,0 -7,0zM646.31,1028.17a3.5,3.5 0 1,0 7,0a3.5,3.5 0 1,0 -7,0zM650.44,1029.98a3.5,3.5 0 1,0 7,0a3.5,3.5 0 1,0 -7,0zM654.57,1031.75a3.5,3.5 0 1,0 7,0a3.5,3.5 0 1,0 -7,0zM658.7,1033.34a3.5,3.5 0 1,0 7,0a3.5,3.5 0 1,0 -7,0zM662.83,1034.74a3.5,3.5 0 1,0 7,0a3.5,3.5 0 1,0 -7,0zM666.96,1036.13a3.5,3.5 0 1,0 7,0a3.5,3.5 0 1,0 -7,0zM671.09,1037.51a3.5,3.5 0 1,0 7,0a3.5,3.5 0 1,0 -7,0zM675.22,1038.89a3.5,3.5 0 1,0 7,0a3.5,3.5 0 1,0 -7,0zM679.35,1040.29a3.5,3.5 0 1,0 7,0a3.5,3.5 0 1,0 -7,0zM683.48,1041.72a3.5,3.5 0 1,0 7,0a3.5,3.5 0 1,0 -7,0zM687.61,1043.17a3.5,3.5 0 1,0 7,0a3.5,3.5 0 1,0 -7,0zM691.74,1044.68a3.5,3.5 0 1,0 7,0a3.5,3.5 0 1,0 -7,0zM695.87,1046.24a3.5,3.5 0 1,0 7,0a3.5,3.5 0 1,0 -7,0zM700,1047.86a3.5,3.5 0 1,0 7,0a3.5,3.5 0 1,0 -7,0zM704.13,1049.53a3.5,3.5 0 1,0 7,0a3.5,3.5 0 1,0 -7,0zM708.26,1051.23a3.5,3.5 0 1,0 7,0a3.5,3.5 0 1,0 -7,0zM712.39,1052.96a3.5,3.5 0 1,0 7,0a3.5,3.5 0 1,0 -7,0zM716.52,1054.75a3.5,3.5 0 1,0 7,0a3.5,3.5 0 1,0 -7,0zM720.65,1056.6a3.5,3.5 0 1,0 7,0a3.5,3.5 0 1,0 -7,0zM724.78,1058.53a3.5,3.5 0 1,0 7,0a3.5,3.5 0 1,0 -7,0zM728.91,1060.56a3.5,3.5 0 1,0 7,0a3.5,3.5 0 1,0 -7,0zM733.04,1062.69a3.5,3.5 0 1,0 7,0a3.5,3.5 0 1,0 -7,0zM737.17,1064.94a3.5,3.5 0 1,0 7,0a3.5,3.5 0 1,0 -7,0zM741.3,1067.33a3.5,3.5 0 1,0 7,0a3.5,3.5 0 1,0 -7,0zM745.43,1069.96a3.5,3.5 0 1,0 7,0a3.5,3.5 0 1,0 -7,0zM749.56,1072.83a3.5,3.5 0 1,0 7,0a3.5,3.5 0 1,0 -7,0zM753.69,1075.92a3.5,3.5 0 1,0 7,0a3.5,3.5 0 1,0 -7,0zM757.82,1079.18a3.5,3.5 0 1,0 7,0a3.5,3.5 0 1,0 -7,0zM761.95,1082.57a3.5,3.5 0 1,0 7,0a3.5,3.5 0 1,0 -7,0zM766.08,1086.06a3.5,3.5 0 1,0 7,0a3.5,3.5 0 1,0 -7,0zM770.21,1089.7a3.5,3.5 0 1,0 7,0a3.5,3.5 0 1,0 -7,0zM774.34,1093.59a3.5,3.5 0 1,0 7,0a3.5,3.5 0 1,0 -7,0zM778.47,1097.69a3.5,3.5 0 1,0 7,0a3.5,3.5 0 1,0 -7,0zM782.6,1101.96a3.5,3.5 0 1,0 7,0a3.5,3.5 0 1,0 -7,0z" fill="#3079C0"/>
</g>
<rect x="579.6" y="964.4" width="413.1" height="332.3" fill="none" stroke="#2b2b2b" stroke-width="1.4"/>
<path d="M579.6,1296.7v3.2M620.9,1296.7v6.3M662.2,1296.7v3.2M703.5,1296.7v6.3M744.8,1296.7v3.2M786.1,1296.7v6.3M827.4,1296.7v3.2M868.7,1296.7v6.3M910,1296.7v3.2M951.3,1296.7v6.3M992.6,1296.7v3.2M579.6,1011.8h-6.3M579.6,1106.7h-6.3M579.6,1201.6h-6.3M579.6,1296.5h-6.3M579.6,964.35h-3.2M579.6,1059.25h-3.2M579.6,1154.15h-3.2M579.6,1249.05h-3.2" stroke="#2b2b2b" stroke-width="1.4" fill="none"/>
<text x="620.9" y="1325.2" font-size="21.5" text-anchor="middle" transform="matrix(1,0,0,1.1,0,-132.52)">-2</text>
<text x="703.5" y="1325.2" font-size="21.5" text-anchor="middle" transform="matrix(1,0,0,1.1,0,-132.52)">-1</text>
<text x="786.1" y="1325.2" font-size="21.5" text-anchor="middle" transform="matrix(1,0,0,1.1,0,-132.52)">0</text>
<text x="868.7" y="1325.2" font-size="21.5" text-anchor="middle" transform="matrix(1,0,0,1.1,0,-132.52)">1</text>
<text x="951.3" y="1325.2" font-size="21.5" text-anchor="middle" transform="matrix(1,0,0,1.1,0,-132.52)">2</text>
<text x="568.1" y="1019" font-size="21.5" text-anchor="end" transform="matrix(1,0,0,1.1,0,-101.9)">0.1</text>
<text x="568.1" y="1113.9" font-size="21.5" text-anchor="end" transform="matrix(1,0,0,1.1,0,-111.39)">0.0</text>
<text x="568.1" y="1208.8" font-size="21.5" text-anchor="end" transform="matrix(1,0,0,1.1,0,-120.88)">-0.1</text>
<text x="568.1" y="1303.7" font-size="21.5" text-anchor="end" transform="matrix(1,0,0,1.1,0,-130.37)">-0.2</text>
<text transform="translate(523.7,1122.6) rotate(-90)" font-size="28" text-anchor="middle"><tspan font-style="italic">S</tspan> (%)</text>
<text x="712" y="1370.7" font-size="29" transform="matrix(1,0,0,1.06,0,-82.24)"><tspan font-style="italic">E</tspan> (kV mm<tspan font-size="18.5" dy="-10.5">&#8722;1</tspan><tspan dy="10.5">)</tspan></text>
<text x="910.8" y="1220.5" font-size="26" font-weight="bold" fill="#E00A0A" transform="matrix(1,0,0,1.07,0,-85.44)">0.002</text>
<text x="910.8" y="1253.2" font-size="26" font-weight="bold" fill="#2166B6" transform="matrix(1,0,0,1.07,0,-87.72)">0.006</text>
<text x="910.8" y="1285.9" font-size="26" font-weight="bold" fill="#30A030" transform="matrix(1,0,0,1.07,0,-90.01)">0.008</text>
<text x="906.6" y="996" font-size="34" >{200}</text>
<text x="520.3" y="960.2" font-size="42" font-weight="bold" transform="translate(520.3,0) scale(1.0,1) translate(-520.3,0)">e</text>
<clipPath id="clipf"><rect x="1082" y="960.6" width="413.1" height="332"/></clipPath>
<g clip-path="url(#clipf)">
<polyline points="1123.6,1025.56 1124.43,1025.9 1125.26,1026.24 1126.09,1026.57 1126.91,1026.91 1127.74,1027.24 1128.57,1027.58 1129.4,1027.91 1130.23,1028.25 1131.06,1028.58 1131.89,1028.91 1132.72,1029.25 1133.54,1029.58 1134.37,1029.91 1135.2,1030.24 1136.03,1030.57 1136.86,1030.9 1137.69,1031.24 1138.52,1031.57 1139.34,1031.9 1140.17,1032.23 1141,1032.56 1141.83,1032.89 1142.66,1033.22 1143.49,1033.55 1144.32,1033.89 1145.14,1034.22 1145.97,1034.55 1146.8,1034.88 1147.63,1035.22 1148.46,1035.55 1149.29,1035.88 1150.12,1036.22 1150.95,1036.55 1151.77,1036.89 1152.6,1037.22 1153.43,1037.56 1154.26,1037.9 1155.09,1038.23 1155.92,1038.57 1156.75,1038.91 1157.57,1039.25 1158.4,1039.59 1159.23,1039.93 1160.06,1040.28 1160.89,1040.62 1161.72,1040.96 1162.55,1041.31 1163.37,1041.65 1164.2,1042 1165.03,1042.35 1165.86,1042.7 1166.69,1043.05 1167.52,1043.4 1168.35,1043.75 1169.18,1044.11 1170,1044.46 1170.83,1044.82 1171.66,1045.18 1172.49,1045.54 1173.32,1045.9 1174.15,1046.26 1174.98,1046.63 1175.8,1046.99 1176.63,1047.36 1177.46,1047.73 1178.29,1048.1 1179.12,1048.47 1179.95,1048.85 1180.78,1049.22 1181.61,1049.6 1182.43,1049.98 1183.26,1050.36 1184.09,1050.75 1184.92,1051.13 1185.75,1051.52 1186.58,1051.91 1187.41,1052.3 1188.23,1052.7 1189.06,1053.09 1189.89,1053.49 1190.72,1053.89 1191.55,1054.29 1192.38,1054.7 1193.21,1055.1 1194.03,1055.51 1194.86,1055.93 1195.69,1056.34 1196.52,1056.76 1197.35,1057.18 1198.18,1057.6 1199.01,1058.02 1199.84,1058.45 1200.66,1058.88 1201.49,1059.31 1202.32,1059.75 1203.15,1060.18 1203.98,1060.62 1204.81,1061.07 1205.64,1061.51 1206.46,1061.96 1207.29,1062.42 1208.12,1062.87 1208.95,1063.33 1209.78,1063.79 1210.61,1064.25 1211.44,1064.72 1212.26,1065.19 1213.09,1065.67 1213.92,1066.14 1214.75,1066.62 1215.58,1067.11 1216.41,1067.59 1217.24,1068.08 1218.07,1068.58 1218.89,1069.08 1219.72,1069.58 1220.55,1070.08 1221.38,1070.59 1222.21,1071.1 1223.04,1071.61 1223.87,1072.13 1224.69,1072.66 1225.52,1073.18 1226.35,1073.71 1227.18,1074.25 1228.01,1074.78 1228.84,1075.32 1229.67,1075.87 1230.49,1076.42 1231.32,1076.97 1232.15,1077.53 1232.98,1078.09 1233.81,1078.66 1234.64,1079.23 1235.47,1079.8 1236.3,1080.38 1237.12,1080.96 1237.95,1081.55 1238.78,1082.14 1239.61,1082.73 1240.44,1083.33 1241.27,1083.94 1242.1,1084.54 1242.92,1085.16 1243.75,1085.77 1244.58,1086.4 1245.41,1087.02 1246.24,1087.65 1247.07,1088.29 1247.9,1088.93 1248.73,1089.58 1249.55,1090.23 1250.38,1090.88 1251.21,1091.54 1252.04,1092.21 1252.87,1092.88 1253.7,1093.55 1254.53,1094.23 1255.35,1094.91 1256.18,1095.6 1257.01,1096.3 1257.84,1097 1258.67,1097.7 1259.5,1098.41 1260.33,1099.13 1261.15,1099.85 1261.98,1100.58 1262.81,1101.31 1263.64,1102.05 1264.47,1102.79 1265.3,1103.54 1266.13,1104.29 1266.96,1105.05 1267.78,1105.81 1268.61,1106.58 1269.44,1107.36 1270.27,1108.14 1271.1,1108.93 1271.93,1109.72 1272.76,1110.52 1273.58,1111.33 1274.41,1112.14 1275.24,1112.95 1276.07,1113.78 1276.9,1114.6 1277.73,1115.44 1278.56,1116.28 1279.38,1117.13 1280.21,1117.98 1281.04,1118.84 1281.87,1119.7 1282.7,1120.57 1283.53,1121.45 1284.36,1122.34 1285.19,1123.23 1286.01,1124.12 1286.84,1125.03 1287.67,1125.94 1288.5,1126.85" stroke="#E8161B" fill="none" stroke-width="4.8" stroke-linejoin="round" stroke-linecap="round"/>
<polyline points="1123.51,1025.44 1125.12,1026.72 1126.76,1028 1128.41,1029.28 1130.08,1030.56 1131.77,1031.85 1133.48,1033.13 1135.19,1034.41 1136.92,1035.69 1138.65,1036.97 1140.38,1038.25 1142.12,1039.53 1143.85,1040.81 1145.59,1042.1 1147.32,1043.38 1149.04,1044.66 1150.75,1045.94 1152.45,1047.22 1154.13,1048.5 1155.8,1049.78 1157.44,1051.06 1159.07,1052.35 1160.67,1053.63 1162.24,1054.91 1163.78,1056.19 1165.29,1057.47 1166.77,1058.75 1168.22,1060.03 1169.63,1061.32 1171.01,1062.6 1172.36,1063.88 1173.67,1065.16 1174.94,1066.44 1176.18,1067.72 1177.39,1069 1178.56,1070.28 1179.69,1071.57 1180.79,1072.85 1181.85,1074.13 1182.88,1075.41 1183.88,1076.69 1184.85,1077.97 1185.78,1079.25 1186.69,1080.53 1187.56,1081.82 1188.41,1083.1 1189.24,1084.38 1190.04,1085.66 1190.81,1086.94 1191.56,1088.22 1192.3,1089.5 1193.01,1090.78 1193.7,1092.07 1194.38,1093.35 1195.03,1094.63 1195.68,1095.91 1196.3,1097.19 1196.92,1098.47 1197.52,1099.75 1198.11,1101.03 1198.69,1102.32 1199.27,1103.6 1199.83,1104.88 1200.39,1106.16 1200.95,1107.44 1201.49,1108.72 1202.04,1110 1202.58,1111.28 1203.11,1112.57 1203.64,1113.85 1204.17,1115.13 1204.69,1116.41 1205.2,1117.69 1205.71,1118.97 1206.22,1120.25 1206.72,1121.53 1207.21,1122.82 1207.71,1124.1 1208.19,1125.38 1208.68,1126.66 1209.16,1127.94 1209.63,1129.22 1210.1,1130.5 1210.57,1131.78 1211.03,1133.07 1211.49,1134.35 1211.95,1135.63 1212.4,1136.91 1212.85,1138.19 1213.3,1139.47 1213.74,1140.75 1214.18,1142.03 1214.61,1143.32 1215.05,1144.6 1215.48,1145.88 1215.9,1147.16 1216.33,1148.44 1216.75,1149.72 1217.17,1151 1217.59,1152.28 1218,1153.57 1218.41,1154.85 1218.82,1156.13 1219.23,1157.41 1219.63,1158.69 1220.04,1159.97 1220.44,1161.25 1220.83,1162.53 1221.22,1163.82 1221.61,1165.1 1221.99,1166.38 1222.36,1167.66 1222.72,1168.94 1223.08,1170.22 1223.43,1171.5 1223.77,1172.79 1224.1,1174.07 1224.42,1175.35 1224.72,1176.63 1225.02,1177.91 1225.3,1179.19 1225.57,1180.47 1225.83,1181.75 1226.08,1183.04 1226.32,1184.32 1226.55,1185.6 1226.77,1186.88 1226.99,1188.16 1227.21,1189.44 1227.42,1190.72 1227.64,1192 1227.85,1193.29 1228.06,1194.57 1228.28,1195.85 1228.5,1197.13 1228.73,1198.41 1228.96,1199.69 1229.2,1200.97 1229.45,1202.25 1229.71,1203.54 1229.99,1204.82 1230.27,1206.1 1230.57,1207.38 1230.88,1208.66 1231.21,1209.94 1231.56,1211.22 1231.93,1212.5 1232.32,1213.79 1232.73,1215.07 1233.17,1216.35 1233.17,1216.35 1233.67,1215.75 1234.15,1215.14 1234.63,1214.54 1235.11,1213.94 1235.58,1213.34 1236.04,1212.73 1236.5,1212.13 1236.95,1211.53 1237.39,1210.93 1237.83,1210.32 1238.27,1209.72 1238.7,1209.12 1239.12,1208.52 1239.54,1207.92 1239.96,1207.31 1240.37,1206.71 1240.77,1206.11 1241.17,1205.51 1241.57,1204.9 1241.96,1204.3 1242.35,1203.7 1242.73,1203.1 1243.11,1202.49 1243.49,1201.89 1243.86,1201.29 1244.22,1200.69 1244.59,1200.08 1244.94,1199.48 1245.3,1198.88 1245.65,1198.28 1246,1197.68 1246.35,1197.07 1246.69,1196.47 1247.03,1195.87 1247.36,1195.27 1247.69,1194.66 1248.02,1194.06 1248.35,1193.46 1248.67,1192.86 1249,1192.25 1249.31,1191.65 1249.63,1191.05 1249.95,1190.45 1250.26,1189.85 1250.57,1189.24 1250.87,1188.64 1251.18,1188.04 1251.48,1187.44 1251.78,1186.83 1252.08,1186.23 1252.38,1185.63 1252.68,1185.03 1252.97,1184.42 1253.27,1183.82 1253.56,1183.22 1253.85,1182.62 1254.14,1182.01 1254.43,1181.41 1254.72,1180.81 1255.01,1180.21 1255.3,1179.61 1255.58,1179 1255.87,1178.4 1256.15,1177.8 1256.44,1177.2 1256.72,1176.59 1257.01,1175.99 1257.29,1175.39 1257.58,1174.79 1257.86,1174.18 1258.15,1173.58 1258.43,1172.98 1258.72,1172.38 1259,1171.78 1259.29,1171.17 1259.58,1170.57 1259.86,1169.97 1260.15,1169.37 1260.44,1168.76 1260.73,1168.16 1261.02,1167.56 1261.32,1166.96 1261.61,1166.35 1261.91,1165.75 1262.2,1165.15 1262.5,1164.55 1262.8,1163.94 1263.11,1163.34 1263.41,1162.74 1263.71,1162.14 1264.02,1161.54 1264.33,1160.93 1264.64,1160.33 1264.96,1159.73 1265.28,1159.13 1265.6,1158.52 1265.92,1157.92 1266.24,1157.32 1266.57,1156.72 1266.9,1156.11 1267.23,1155.51 1267.57,1154.91 1267.91,1154.31 1268.25,1153.71 1268.6,1153.1 1268.94,1152.5 1269.3,1151.9 1269.65,1151.3 1270.01,1150.69 1270.38,1150.09 1270.74,1149.49 1271.12,1148.89 1271.49,1148.28 1271.87,1147.68 1272.25,1147.08 1272.64,1146.48 1273.04,1145.87 1273.43,1145.27 1273.83,1144.67 1274.24,1144.07 1274.65,1143.47 1275.07,1142.86 1275.49,1142.26 1275.91,1141.66 1276.34,1141.06 1276.78,1140.45 1277.22,1139.85 1277.67,1139.25 1278.12,1138.65 1278.58,1138.04 1279.04,1137.44 1279.51,1136.84 1279.99,1136.24 1280.47,1135.64 1280.96,1135.03 1281.45,1134.43 1281.95,1133.83 1282.46,1133.23 1282.97,1132.62 1283.49,1132.02 1284.01,1131.42 1284.55,1130.82 1285.09,1130.21 1285.63,1129.61 1286.18,1129.01 1286.74,1128.41 1287.31,1127.8 1287.89,1127.2 1288.47,1126.6" stroke="#E8161B" fill="none" stroke-width="4.8" stroke-linejoin="round" stroke-linecap="round"/>
<polyline points="1288.53,1126.6 1289.11,1127.2 1289.69,1127.8 1290.26,1128.41 1290.82,1129.01 1291.37,1129.61 1291.91,1130.21 1292.45,1130.82 1292.99,1131.42 1293.51,1132.02 1294.03,1132.62 1294.54,1133.23 1295.05,1133.83 1295.55,1134.43 1296.04,1135.03 1296.53,1135.64 1297.01,1136.24 1297.49,1136.84 1297.96,1137.44 1298.42,1138.04 1298.88,1138.65 1299.33,1139.25 1299.78,1139.85 1300.22,1140.45 1300.66,1141.06 1301.09,1141.66 1301.51,1142.26 1301.93,1142.86 1302.35,1143.47 1302.76,1144.07 1303.17,1144.67 1303.57,1145.27 1303.96,1145.87 1304.36,1146.48 1304.75,1147.08 1305.13,1147.68 1305.51,1148.28 1305.88,1148.89 1306.26,1149.49 1306.62,1150.09 1306.99,1150.69 1307.35,1151.3 1307.7,1151.9 1308.06,1152.5 1308.4,1153.1 1308.75,1153.71 1309.09,1154.31 1309.43,1154.91 1309.77,1155.51 1310.1,1156.11 1310.43,1156.72 1310.76,1157.32 1311.08,1157.92 1311.4,1158.52 1311.72,1159.13 1312.04,1159.73 1312.36,1160.33 1312.67,1160.93 1312.98,1161.54 1313.29,1162.14 1313.59,1162.74 1313.89,1163.34 1314.2,1163.94 1314.5,1164.55 1314.8,1165.15 1315.09,1165.75 1315.39,1166.35 1315.68,1166.96 1315.98,1167.56 1316.27,1168.16 1316.56,1168.76 1316.85,1169.37 1317.14,1169.97 1317.42,1170.57 1317.71,1171.17 1318,1171.78 1318.28,1172.38 1318.57,1172.98 1318.85,1173.58 1319.14,1174.18 1319.42,1174.79 1319.71,1175.39 1319.99,1175.99 1320.28,1176.59 1320.56,1177.2 1320.85,1177.8 1321.13,1178.4 1321.42,1179 1321.7,1179.61 1321.99,1180.21 1322.28,1180.81 1322.57,1181.41 1322.86,1182.01 1323.15,1182.62 1323.44,1183.22 1323.73,1183.82 1324.03,1184.42 1324.32,1185.03 1324.62,1185.63 1324.92,1186.23 1325.22,1186.83 1325.52,1187.44 1325.82,1188.04 1326.13,1188.64 1326.43,1189.24 1326.74,1189.85 1327.05,1190.45 1327.37,1191.05 1327.69,1191.65 1328,1192.25 1328.33,1192.86 1328.65,1193.46 1328.98,1194.06 1329.31,1194.66 1329.64,1195.27 1329.97,1195.87 1330.31,1196.47 1330.65,1197.07 1331,1197.68 1331.35,1198.28 1331.7,1198.88 1332.06,1199.48 1332.41,1200.08 1332.78,1200.69 1333.14,1201.29 1333.51,1201.89 1333.89,1202.49 1334.27,1203.1 1334.65,1203.7 1335.04,1204.3 1335.43,1204.9 1335.83,1205.51 1336.23,1206.11 1336.63,1206.71 1337.04,1207.31 1337.46,1207.92 1337.88,1208.52 1338.3,1209.12 1338.73,1209.72 1339.17,1210.32 1339.61,1210.93 1340.05,1211.53 1340.5,1212.13 1340.96,1212.73 1341.42,1213.34 1341.89,1213.94 1342.37,1214.54 1342.85,1215.14 1343.33,1215.75 1343.83,1216.35 1343.83,1216.35 1344.27,1215.07 1344.68,1213.79 1345.07,1212.5 1345.44,1211.22 1345.79,1209.94 1346.12,1208.66 1346.43,1207.38 1346.73,1206.1 1347.01,1204.82 1347.29,1203.54 1347.55,1202.25 1347.8,1200.97 1348.04,1199.69 1348.27,1198.41 1348.5,1197.13 1348.72,1195.85 1348.94,1194.57 1349.15,1193.29 1349.36,1192 1349.58,1190.72 1349.79,1189.44 1350.01,1188.16 1350.23,1186.88 1350.45,1185.6 1350.68,1184.32 1350.92,1183.04 1351.17,1181.75 1351.43,1180.47 1351.7,1179.19 1351.98,1177.91 1352.28,1176.63 1352.58,1175.35 1352.9,1174.07 1353.23,1172.79 1353.57,1171.5 1353.92,1170.22 1354.28,1168.94 1354.64,1167.66 1355.01,1166.38 1355.39,1165.1 1355.78,1163.82 1356.17,1162.53 1356.56,1161.25 1356.96,1159.97 1357.37,1158.69 1357.77,1157.41 1358.18,1156.13 1358.59,1154.85 1359,1153.57 1359.41,1152.28 1359.83,1151 1360.25,1149.72 1360.67,1148.44 1361.1,1147.16 1361.52,1145.88 1361.95,1144.6 1362.39,1143.32 1362.82,1142.03 1363.26,1140.75 1363.7,1139.47 1364.15,1138.19 1364.6,1136.91 1365.05,1135.63 1365.51,1134.35 1365.97,1133.07 1366.43,1131.78 1366.9,1130.5 1367.37,1129.22 1367.84,1127.94 1368.32,1126.66 1368.81,1125.38 1369.29,1124.1 1369.79,1122.82 1370.28,1121.53 1370.78,1120.25 1371.29,1118.97 1371.8,1117.69 1372.31,1116.41 1372.83,1115.13 1373.36,1113.85 1373.89,1112.57 1374.42,1111.28 1374.96,1110 1375.51,1108.72 1376.05,1107.44 1376.61,1106.16 1377.17,1104.88 1377.73,1103.6 1378.31,1102.32 1378.89,1101.03 1379.48,1099.75 1380.08,1098.47 1380.7,1097.19 1381.32,1095.91 1381.97,1094.63 1382.62,1093.35 1383.3,1092.07 1383.99,1090.78 1384.7,1089.5 1385.44,1088.22 1386.19,1086.94 1386.96,1085.66 1387.76,1084.38 1388.59,1083.1 1389.44,1081.82 1390.31,1080.53 1391.22,1079.25 1392.15,1077.97 1393.12,1076.69 1394.12,1075.41 1395.15,1074.13 1396.21,1072.85 1397.31,1071.57 1398.44,1070.28 1399.61,1069 1400.82,1067.72 1402.06,1066.44 1403.33,1065.16 1404.64,1063.88 1405.99,1062.6 1407.37,1061.32 1408.78,1060.03 1410.23,1058.75 1411.71,1057.47 1413.22,1056.19 1414.76,1054.91 1416.33,1053.63 1417.93,1052.35 1419.56,1051.06 1421.2,1049.78 1422.87,1048.5 1424.55,1047.22 1426.25,1045.94 1427.96,1044.66 1429.68,1043.38 1431.41,1042.1 1433.15,1040.81 1434.88,1039.53 1436.62,1038.25 1438.35,1036.97 1440.08,1035.69 1441.81,1034.41 1443.52,1033.13 1445.23,1031.85 1446.92,1030.56 1448.59,1029.28 1450.24,1028 1451.88,1026.72 1453.49,1025.44" stroke="#E8161B" fill="none" stroke-width="4.8" stroke-linejoin="round" stroke-linecap="round"/>
<polyline points="1288.5,1126.85 1289.33,1125.94 1290.16,1125.03 1290.99,1124.12 1291.81,1123.23 1292.64,1122.34 1293.47,1121.45 1294.3,1120.57 1295.13,1119.7 1295.96,1118.84 1296.79,1117.98 1297.62,1117.13 1298.44,1116.28 1299.27,1115.44 1300.1,1114.6 1300.93,1113.78 1301.76,1112.95 1302.59,1112.14 1303.42,1111.33 1304.24,1110.52 1305.07,1109.72 1305.9,1108.93 1306.73,1108.14 1307.56,1107.36 1308.39,1106.58 1309.22,1105.81 1310.04,1105.05 1310.87,1104.29 1311.7,1103.54 1312.53,1102.79 1313.36,1102.05 1314.19,1101.31 1315.02,1100.58 1315.85,1099.85 1316.67,1099.13 1317.5,1098.41 1318.33,1097.7 1319.16,1097 1319.99,1096.3 1320.82,1095.6 1321.65,1094.91 1322.47,1094.23 1323.3,1093.55 1324.13,1092.88 1324.96,1092.21 1325.79,1091.54 1326.62,1090.88 1327.45,1090.23 1328.27,1089.58 1329.1,1088.93 1329.93,1088.29 1330.76,1087.65 1331.59,1087.02 1332.42,1086.4 1333.25,1085.77 1334.08,1085.16 1334.9,1084.54 1335.73,1083.94 1336.56,1083.33 1337.39,1082.73 1338.22,1082.14 1339.05,1081.55 1339.88,1080.96 1340.7,1080.38 1341.53,1079.8 1342.36,1079.23 1343.19,1078.66 1344.02,1078.09 1344.85,1077.53 1345.68,1076.97 1346.51,1076.42 1347.33,1075.87 1348.16,1075.32 1348.99,1074.78 1349.82,1074.25 1350.65,1073.71 1351.48,1073.18 1352.31,1072.66 1353.13,1072.13 1353.96,1071.61 1354.79,1071.1 1355.62,1070.59 1356.45,1070.08 1357.28,1069.58 1358.11,1069.08 1358.93,1068.58 1359.76,1068.08 1360.59,1067.59 1361.42,1067.11 1362.25,1066.62 1363.08,1066.14 1363.91,1065.67 1364.74,1065.19 1365.56,1064.72 1366.39,1064.25 1367.22,1063.79 1368.05,1063.33 1368.88,1062.87 1369.71,1062.42 1370.54,1061.96 1371.36,1061.51 1372.19,1061.07 1373.02,1060.62 1373.85,1060.18 1374.68,1059.75 1375.51,1059.31 1376.34,1058.88 1377.16,1058.45 1377.99,1058.02 1378.82,1057.6 1379.65,1057.18 1380.48,1056.76 1381.31,1056.34 1382.14,1055.93 1382.97,1055.51 1383.79,1055.1 1384.62,1054.7 1385.45,1054.29 1386.28,1053.89 1387.11,1053.49 1387.94,1053.09 1388.77,1052.7 1389.59,1052.3 1390.42,1051.91 1391.25,1051.52 1392.08,1051.13 1392.91,1050.75 1393.74,1050.36 1394.57,1049.98 1395.39,1049.6 1396.22,1049.22 1397.05,1048.85 1397.88,1048.47 1398.71,1048.1 1399.54,1047.73 1400.37,1047.36 1401.2,1046.99 1402.02,1046.63 1402.85,1046.26 1403.68,1045.9 1404.51,1045.54 1405.34,1045.18 1406.17,1044.82 1407,1044.46 1407.82,1044.11 1408.65,1043.75 1409.48,1043.4 1410.31,1043.05 1411.14,1042.7 1411.97,1042.35 1412.8,1042 1413.63,1041.65 1414.45,1041.31 1415.28,1040.96 1416.11,1040.62 1416.94,1040.28 1417.77,1039.93 1418.6,1039.59 1419.43,1039.25 1420.25,1038.91 1421.08,1038.57 1421.91,1038.23 1422.74,1037.9 1423.57,1037.56 1424.4,1037.22 1425.23,1036.89 1426.05,1036.55 1426.88,1036.22 1427.71,1035.88 1428.54,1035.55 1429.37,1035.22 1430.2,1034.88 1431.03,1034.55 1431.86,1034.22 1432.68,1033.89 1433.51,1033.55 1434.34,1033.22 1435.17,1032.89 1436,1032.56 1436.83,1032.23 1437.66,1031.9 1438.48,1031.57 1439.31,1031.24 1440.14,1030.9 1440.97,1030.57 1441.8,1030.24 1442.63,1029.91 1443.46,1029.58 1444.28,1029.25 1445.11,1028.91 1445.94,1028.58 1446.77,1028.25 1447.6,1027.91 1448.43,1027.58 1449.26,1027.24 1450.09,1026.91 1450.91,1026.57 1451.74,1026.24 1452.57,1025.9 1453.4,1025.56" stroke="#E8161B" fill="none" stroke-width="4.8" stroke-linejoin="round" stroke-linecap="round"/>
<polyline points="1123.6,1031.75 1124.43,1032.16 1125.26,1032.57 1126.09,1032.97 1126.91,1033.37 1127.74,1033.77 1128.57,1034.17 1129.4,1034.56 1130.23,1034.95 1131.06,1035.34 1131.89,1035.73 1132.72,1036.12 1133.54,1036.5 1134.37,1036.88 1135.2,1037.26 1136.03,1037.64 1136.86,1038.01 1137.69,1038.39 1138.52,1038.76 1139.34,1039.13 1140.17,1039.5 1141,1039.86 1141.83,1040.23 1142.66,1040.59 1143.49,1040.95 1144.32,1041.31 1145.14,1041.67 1145.97,1042.03 1146.8,1042.39 1147.63,1042.75 1148.46,1043.1 1149.29,1043.46 1150.12,1043.81 1150.95,1044.16 1151.77,1044.51 1152.6,1044.86 1153.43,1045.22 1154.26,1045.56 1155.09,1045.91 1155.92,1046.26 1156.75,1046.61 1157.57,1046.96 1158.4,1047.31 1159.23,1047.65 1160.06,1048 1160.89,1048.35 1161.72,1048.7 1162.55,1049.04 1163.37,1049.39 1164.2,1049.74 1165.03,1050.09 1165.86,1050.43 1166.69,1050.78 1167.52,1051.13 1168.35,1051.48 1169.18,1051.83 1170,1052.18 1170.83,1052.53 1171.66,1052.88 1172.49,1053.23 1173.32,1053.59 1174.15,1053.94 1174.98,1054.29 1175.8,1054.65 1176.63,1055.01 1177.46,1055.36 1178.29,1055.72 1179.12,1056.08 1179.95,1056.45 1180.78,1056.81 1181.61,1057.17 1182.43,1057.54 1183.26,1057.91 1184.09,1058.27 1184.92,1058.65 1185.75,1059.02 1186.58,1059.39 1187.41,1059.77 1188.23,1060.15 1189.06,1060.53 1189.89,1060.91 1190.72,1061.29 1191.55,1061.68 1192.38,1062.07 1193.21,1062.46 1194.03,1062.85 1194.86,1063.25 1195.69,1063.64 1196.52,1064.04 1197.35,1064.45 1198.18,1064.85 1199.01,1065.26 1199.84,1065.67 1200.66,1066.09 1201.49,1066.5 1202.32,1066.92 1203.15,1067.34 1203.98,1067.77 1204.81,1068.2 1205.64,1068.63 1206.46,1069.07 1207.29,1069.51 1208.12,1069.95 1208.95,1070.39 1209.78,1070.84 1210.61,1071.29 1211.44,1071.75 1212.26,1072.21 1213.09,1072.67 1213.92,1073.14 1214.75,1073.61 1215.58,1074.09 1216.41,1074.57 1217.24,1075.05 1218.07,1075.54 1218.89,1076.03 1219.72,1076.52 1220.55,1077.02 1221.38,1077.53 1222.21,1078.04 1223.04,1078.55 1223.87,1079.07 1224.69,1079.59 1225.52,1080.12 1226.35,1080.65 1227.18,1081.19 1228.01,1081.73 1228.84,1082.27 1229.67,1082.83 1230.49,1083.38 1231.32,1083.94 1232.15,1084.51 1232.98,1085.08 1233.81,1085.66 1234.64,1086.24 1235.47,1086.83 1236.3,1087.42 1237.12,1088.02 1237.95,1088.62 1238.78,1089.23 1239.61,1089.84 1240.44,1090.46 1241.27,1091.08 1242.1,1091.71 1242.92,1092.33 1243.75,1092.97 1244.58,1093.6 1245.41,1094.24 1246.24,1094.88 1247.07,1095.52 1247.9,1096.17 1248.73,1096.82 1249.55,1097.47 1250.38,1098.12 1251.21,1098.78 1252.04,1099.44 1252.87,1100.09 1253.7,1100.75 1254.53,1101.41 1255.35,1102.07 1256.18,1102.73 1257.01,1103.4 1257.84,1104.06 1258.67,1104.72 1259.5,1105.38 1260.33,1106.04 1261.15,1106.7 1261.98,1107.37 1262.81,1108.02 1263.64,1108.68 1264.47,1109.34 1265.3,1109.99 1266.13,1110.65 1266.96,1111.3 1267.78,1111.95 1268.61,1112.6 1269.44,1113.24 1270.27,1113.88 1271.1,1114.52 1271.93,1115.16 1272.76,1115.79 1273.58,1116.42 1274.41,1117.05 1275.24,1117.67 1276.07,1118.29 1276.9,1118.9 1277.73,1119.51 1278.56,1120.11 1279.38,1120.71 1280.21,1121.31 1281.04,1121.9 1281.87,1122.48 1282.7,1123.06 1283.53,1123.63 1284.36,1124.2 1285.19,1124.76 1286.01,1125.31 1286.84,1125.86 1287.67,1126.4 1288.5,1126.93" stroke="#43A843" fill="none" stroke-width="4.8" stroke-linejoin="round" stroke-linecap="round"/>
<polyline points="1123.74,1031.53 1125.69,1032.64 1127.62,1033.74 1129.51,1034.84 1131.36,1035.94 1133.19,1037.05 1134.97,1038.15 1136.73,1039.25 1138.45,1040.36 1140.15,1041.46 1141.81,1042.56 1143.43,1043.66 1145.03,1044.77 1146.6,1045.87 1148.14,1046.97 1149.64,1048.08 1151.12,1049.18 1152.57,1050.28 1153.99,1051.38 1155.38,1052.49 1156.75,1053.59 1158.08,1054.69 1159.39,1055.8 1160.68,1056.9 1161.93,1058 1163.16,1059.1 1164.37,1060.21 1165.55,1061.31 1166.7,1062.41 1167.83,1063.51 1168.94,1064.62 1170.02,1065.72 1171.08,1066.82 1172.12,1067.93 1173.13,1069.03 1174.12,1070.13 1175.09,1071.23 1176.04,1072.34 1176.97,1073.44 1177.88,1074.54 1178.76,1075.65 1179.63,1076.75 1180.48,1077.85 1181.31,1078.95 1182.12,1080.06 1182.91,1081.16 1183.68,1082.26 1184.44,1083.36 1185.18,1084.47 1185.9,1085.57 1186.6,1086.67 1187.29,1087.78 1187.97,1088.88 1188.62,1089.98 1189.27,1091.08 1189.9,1092.19 1190.51,1093.29 1191.11,1094.39 1191.7,1095.5 1192.27,1096.6 1192.84,1097.7 1193.39,1098.8 1193.92,1099.91 1194.45,1101.01 1194.97,1102.11 1195.47,1103.22 1195.96,1104.32 1196.45,1105.42 1196.92,1106.52 1197.39,1107.63 1197.85,1108.73 1198.29,1109.83 1198.73,1110.93 1199.17,1112.04 1199.59,1113.14 1200.01,1114.24 1200.42,1115.35 1200.83,1116.45 1201.23,1117.55 1201.62,1118.65 1202.01,1119.76 1202.39,1120.86 1202.76,1121.96 1203.13,1123.07 1203.5,1124.17 1203.85,1125.27 1204.21,1126.37 1204.55,1127.48 1204.89,1128.58 1205.23,1129.68 1205.56,1130.79 1205.88,1131.89 1206.2,1132.99 1206.51,1134.09 1206.82,1135.2 1207.12,1136.3 1207.41,1137.4 1207.7,1138.5 1207.99,1139.61 1208.27,1140.71 1208.54,1141.81 1208.81,1142.92 1209.08,1144.02 1209.34,1145.12 1209.59,1146.22 1209.84,1147.33 1210.09,1148.43 1210.33,1149.53 1210.56,1150.64 1210.79,1151.74 1211.02,1152.84 1211.24,1153.94 1211.45,1155.05 1211.66,1156.15 1211.87,1157.25 1212.07,1158.35 1212.27,1159.46 1212.46,1160.56 1212.65,1161.66 1212.84,1162.77 1213.03,1163.87 1213.21,1164.97 1213.4,1166.07 1213.58,1167.18 1213.76,1168.28 1213.94,1169.38 1214.13,1170.49 1214.31,1171.59 1214.49,1172.69 1214.68,1173.79 1214.87,1174.9 1215.06,1176 1215.25,1177.1 1215.44,1178.21 1215.64,1179.31 1215.85,1180.41 1216.06,1181.51 1216.27,1182.62 1216.49,1183.72 1216.72,1184.82 1216.96,1185.92 1217.22,1187.03 1217.53,1188.13 1217.9,1189.23 1218.34,1190.34 1218.87,1191.44 1219.49,1192.54 1220.24,1193.64 1221.11,1194.75 1222.12,1195.85 1222.91,1195.85 1223.45,1195.39 1223.98,1194.92 1224.51,1194.46 1225.04,1193.99 1225.56,1193.53 1226.08,1193.06 1226.59,1192.6 1227.1,1192.13 1227.61,1191.67 1228.11,1191.2 1228.61,1190.74 1229.1,1190.27 1229.59,1189.81 1230.08,1189.34 1230.56,1188.88 1231.04,1188.41 1231.51,1187.95 1231.98,1187.48 1232.45,1187.02 1232.92,1186.55 1233.38,1186.09 1233.84,1185.63 1234.3,1185.16 1234.75,1184.7 1235.2,1184.23 1235.65,1183.77 1236.09,1183.3 1236.53,1182.84 1236.97,1182.37 1237.41,1181.91 1237.84,1181.44 1238.27,1180.98 1238.7,1180.51 1239.13,1180.05 1239.55,1179.58 1239.97,1179.12 1240.39,1178.65 1240.81,1178.19 1241.22,1177.72 1241.63,1177.26 1242.05,1176.79 1242.45,1176.33 1242.86,1175.87 1243.27,1175.4 1243.67,1174.94 1244.07,1174.47 1244.47,1174.01 1244.87,1173.54 1245.27,1173.08 1245.67,1172.61 1246.06,1172.15 1246.45,1171.68 1246.85,1171.22 1247.24,1170.75 1247.63,1170.29 1248.02,1169.82 1248.41,1169.36 1248.79,1168.89 1249.18,1168.43 1249.56,1167.96 1249.95,1167.5 1250.33,1167.03 1250.72,1166.57 1251.1,1166.11 1251.48,1165.64 1251.87,1165.18 1252.25,1164.71 1252.63,1164.25 1253.01,1163.78 1253.39,1163.32 1253.78,1162.85 1254.16,1162.39 1254.54,1161.92 1254.92,1161.46 1255.3,1160.99 1255.68,1160.53 1256.07,1160.06 1256.45,1159.6 1256.83,1159.13 1257.22,1158.67 1257.6,1158.2 1257.99,1157.74 1258.37,1157.27 1258.76,1156.81 1259.15,1156.34 1259.53,1155.88 1259.92,1155.42 1260.31,1154.95 1260.71,1154.49 1261.1,1154.02 1261.49,1153.56 1261.89,1153.09 1262.28,1152.63 1262.68,1152.16 1263.08,1151.7 1263.48,1151.23 1263.88,1150.77 1264.29,1150.3 1264.69,1149.84 1265.1,1149.37 1265.51,1148.91 1265.92,1148.44 1266.33,1147.98 1266.75,1147.51 1267.17,1147.05 1267.59,1146.58 1268.01,1146.12 1268.43,1145.66 1268.86,1145.19 1269.29,1144.73 1269.72,1144.26 1270.15,1143.8 1270.59,1143.33 1271.03,1142.87 1271.47,1142.4 1271.91,1141.94 1272.36,1141.47 1272.81,1141.01 1273.26,1140.54 1273.72,1140.08 1274.18,1139.61 1274.64,1139.15 1275.11,1138.68 1275.58,1138.22 1276.05,1137.75 1276.53,1137.29 1277.01,1136.82 1277.49,1136.36 1277.98,1135.9 1278.47,1135.43 1278.96,1134.97 1279.46,1134.5 1279.96,1134.04 1280.47,1133.57 1280.98,1133.11 1281.49,1132.64 1282.01,1132.18 1282.53,1131.71 1283.06,1131.25 1283.59,1130.78 1284.12,1130.32 1284.66,1129.85 1285.21,1129.39 1285.76,1128.92 1286.31,1128.46 1286.87,1127.99 1287.43,1127.53 1288,1127.06 1288.57,1126.6" stroke="#43A843" fill="none" stroke-width="4.8" stroke-linejoin="round" stroke-linecap="round"/>
<polyline points="1288.43,1126.6 1289,1127.06 1289.57,1127.53 1290.13,1127.99 1290.69,1128.46 1291.24,1128.92 1291.79,1129.39 1292.34,1129.85 1292.88,1130.32 1293.41,1130.78 1293.94,1131.25 1294.47,1131.71 1294.99,1132.18 1295.51,1132.64 1296.02,1133.11 1296.53,1133.57 1297.04,1134.04 1297.54,1134.5 1298.04,1134.97 1298.53,1135.43 1299.02,1135.9 1299.51,1136.36 1299.99,1136.82 1300.47,1137.29 1300.95,1137.75 1301.42,1138.22 1301.89,1138.68 1302.36,1139.15 1302.82,1139.61 1303.28,1140.08 1303.74,1140.54 1304.19,1141.01 1304.64,1141.47 1305.09,1141.94 1305.53,1142.4 1305.97,1142.87 1306.41,1143.33 1306.85,1143.8 1307.28,1144.26 1307.71,1144.73 1308.14,1145.19 1308.57,1145.66 1308.99,1146.12 1309.41,1146.58 1309.83,1147.05 1310.25,1147.51 1310.67,1147.98 1311.08,1148.44 1311.49,1148.91 1311.9,1149.37 1312.31,1149.84 1312.71,1150.3 1313.12,1150.77 1313.52,1151.23 1313.92,1151.7 1314.32,1152.16 1314.72,1152.63 1315.11,1153.09 1315.51,1153.56 1315.9,1154.02 1316.29,1154.49 1316.69,1154.95 1317.08,1155.42 1317.47,1155.88 1317.85,1156.34 1318.24,1156.81 1318.63,1157.27 1319.01,1157.74 1319.4,1158.2 1319.78,1158.67 1320.17,1159.13 1320.55,1159.6 1320.93,1160.06 1321.32,1160.53 1321.7,1160.99 1322.08,1161.46 1322.46,1161.92 1322.84,1162.39 1323.22,1162.85 1323.61,1163.32 1323.99,1163.78 1324.37,1164.25 1324.75,1164.71 1325.13,1165.18 1325.52,1165.64 1325.9,1166.11 1326.28,1166.57 1326.67,1167.03 1327.05,1167.5 1327.44,1167.96 1327.82,1168.43 1328.21,1168.89 1328.59,1169.36 1328.98,1169.82 1329.37,1170.29 1329.76,1170.75 1330.15,1171.22 1330.55,1171.68 1330.94,1172.15 1331.33,1172.61 1331.73,1173.08 1332.13,1173.54 1332.53,1174.01 1332.93,1174.47 1333.33,1174.94 1333.73,1175.4 1334.14,1175.87 1334.55,1176.33 1334.95,1176.79 1335.37,1177.26 1335.78,1177.72 1336.19,1178.19 1336.61,1178.65 1337.03,1179.12 1337.45,1179.58 1337.87,1180.05 1338.3,1180.51 1338.73,1180.98 1339.16,1181.44 1339.59,1181.91 1340.03,1182.37 1340.47,1182.84 1340.91,1183.3 1341.35,1183.77 1341.8,1184.23 1342.25,1184.7 1342.7,1185.16 1343.16,1185.63 1343.62,1186.09 1344.08,1186.55 1344.55,1187.02 1345.02,1187.48 1345.49,1187.95 1345.96,1188.41 1346.44,1188.88 1346.92,1189.34 1347.41,1189.81 1347.9,1190.27 1348.39,1190.74 1348.89,1191.2 1349.39,1191.67 1349.9,1192.13 1350.41,1192.6 1350.92,1193.06 1351.44,1193.53 1351.96,1193.99 1352.49,1194.46 1353.02,1194.92 1353.55,1195.39 1354.09,1195.85 1354.88,1195.85 1355.89,1194.75 1356.76,1193.64 1357.51,1192.54 1358.13,1191.44 1358.66,1190.34 1359.1,1189.23 1359.47,1188.13 1359.78,1187.03 1360.04,1185.92 1360.28,1184.82 1360.51,1183.72 1360.73,1182.62 1360.94,1181.51 1361.15,1180.41 1361.36,1179.31 1361.56,1178.21 1361.75,1177.1 1361.94,1176 1362.13,1174.9 1362.32,1173.79 1362.51,1172.69 1362.69,1171.59 1362.87,1170.49 1363.06,1169.38 1363.24,1168.28 1363.42,1167.18 1363.6,1166.07 1363.79,1164.97 1363.97,1163.87 1364.16,1162.77 1364.35,1161.66 1364.54,1160.56 1364.73,1159.46 1364.93,1158.35 1365.13,1157.25 1365.34,1156.15 1365.55,1155.05 1365.76,1153.94 1365.98,1152.84 1366.21,1151.74 1366.44,1150.64 1366.67,1149.53 1366.91,1148.43 1367.16,1147.33 1367.41,1146.22 1367.66,1145.12 1367.92,1144.02 1368.19,1142.92 1368.46,1141.81 1368.73,1140.71 1369.01,1139.61 1369.3,1138.5 1369.59,1137.4 1369.88,1136.3 1370.18,1135.2 1370.49,1134.09 1370.8,1132.99 1371.12,1131.89 1371.44,1130.79 1371.77,1129.68 1372.11,1128.58 1372.45,1127.48 1372.79,1126.37 1373.15,1125.27 1373.5,1124.17 1373.87,1123.07 1374.24,1121.96 1374.61,1120.86 1374.99,1119.76 1375.38,1118.65 1375.77,1117.55 1376.17,1116.45 1376.58,1115.35 1376.99,1114.24 1377.41,1113.14 1377.83,1112.04 1378.27,1110.93 1378.71,1109.83 1379.15,1108.73 1379.61,1107.63 1380.08,1106.52 1380.55,1105.42 1381.04,1104.32 1381.53,1103.22 1382.03,1102.11 1382.55,1101.01 1383.08,1099.91 1383.61,1098.8 1384.16,1097.7 1384.73,1096.6 1385.3,1095.5 1385.89,1094.39 1386.49,1093.29 1387.1,1092.19 1387.73,1091.08 1388.38,1089.98 1389.03,1088.88 1389.71,1087.78 1390.4,1086.67 1391.1,1085.57 1391.82,1084.47 1392.56,1083.36 1393.32,1082.26 1394.09,1081.16 1394.88,1080.06 1395.69,1078.95 1396.52,1077.85 1397.37,1076.75 1398.24,1075.65 1399.12,1074.54 1400.03,1073.44 1400.96,1072.34 1401.91,1071.23 1402.88,1070.13 1403.87,1069.03 1404.88,1067.93 1405.92,1066.82 1406.98,1065.72 1408.06,1064.62 1409.17,1063.51 1410.3,1062.41 1411.45,1061.31 1412.63,1060.21 1413.84,1059.1 1415.07,1058 1416.32,1056.9 1417.61,1055.8 1418.92,1054.69 1420.25,1053.59 1421.62,1052.49 1423.01,1051.38 1424.43,1050.28 1425.88,1049.18 1427.36,1048.08 1428.86,1046.97 1430.4,1045.87 1431.97,1044.77 1433.57,1043.66 1435.19,1042.56 1436.85,1041.46 1438.55,1040.36 1440.27,1039.25 1442.03,1038.15 1443.81,1037.05 1445.64,1035.94 1447.49,1034.84 1449.38,1033.74 1451.31,1032.64 1453.26,1031.53" stroke="#43A843" fill="none" stroke-width="4.8" stroke-linejoin="round" stroke-linecap="round"/>
<polyline points="1288.5,1126.95 1289.33,1126.34 1290.16,1125.74 1290.99,1125.13 1291.81,1124.52 1292.64,1123.91 1293.47,1123.3 1294.3,1122.68 1295.13,1122.07 1295.96,1121.45 1296.79,1120.83 1297.62,1120.21 1298.44,1119.59 1299.27,1118.97 1300.1,1118.35 1300.93,1117.73 1301.76,1117.1 1302.59,1116.48 1303.42,1115.85 1304.24,1115.23 1305.07,1114.6 1305.9,1113.97 1306.73,1113.35 1307.56,1112.72 1308.39,1112.09 1309.22,1111.46 1310.04,1110.83 1310.87,1110.2 1311.7,1109.57 1312.53,1108.94 1313.36,1108.31 1314.19,1107.68 1315.02,1107.05 1315.85,1106.42 1316.67,1105.8 1317.5,1105.17 1318.33,1104.54 1319.16,1103.91 1319.99,1103.28 1320.82,1102.66 1321.65,1102.03 1322.47,1101.41 1323.3,1100.78 1324.13,1100.16 1324.96,1099.54 1325.79,1098.92 1326.62,1098.3 1327.45,1097.68 1328.27,1097.06 1329.1,1096.44 1329.93,1095.83 1330.76,1095.21 1331.59,1094.6 1332.42,1093.99 1333.25,1093.38 1334.08,1092.77 1334.9,1092.17 1335.73,1091.56 1336.56,1090.96 1337.39,1090.36 1338.22,1089.76 1339.05,1089.16 1339.88,1088.57 1340.7,1087.98 1341.53,1087.39 1342.36,1086.8 1343.19,1086.21 1344.02,1085.63 1344.85,1085.05 1345.68,1084.47 1346.51,1083.89 1347.33,1083.32 1348.16,1082.75 1348.99,1082.19 1349.82,1081.62 1350.65,1081.06 1351.48,1080.5 1352.31,1079.95 1353.13,1079.39 1353.96,1078.84 1354.79,1078.3 1355.62,1077.76 1356.45,1077.22 1357.28,1076.68 1358.11,1076.15 1358.93,1075.62 1359.76,1075.1 1360.59,1074.58 1361.42,1074.06 1362.25,1073.55 1363.08,1073.04 1363.91,1072.53 1364.74,1072.03 1365.56,1071.53 1366.39,1071.04 1367.22,1070.55 1368.05,1070.06 1368.88,1069.58 1369.71,1069.11 1370.54,1068.64 1371.36,1068.17 1372.19,1067.71 1373.02,1067.25 1373.85,1066.8 1374.68,1066.35 1375.51,1065.91 1376.34,1065.47 1377.16,1065.04 1377.99,1064.61 1378.82,1064.18 1379.65,1063.77 1380.48,1063.35 1381.31,1062.95 1382.14,1062.55 1382.97,1062.15 1383.79,1061.76 1384.62,1061.37 1385.45,1060.99 1386.28,1060.62 1387.11,1060.24 1387.94,1059.88 1388.77,1059.51 1389.59,1059.15 1390.42,1058.8 1391.25,1058.45 1392.08,1058.1 1392.91,1057.76 1393.74,1057.41 1394.57,1057.08 1395.39,1056.74 1396.22,1056.41 1397.05,1056.08 1397.88,1055.75 1398.71,1055.43 1399.54,1055.11 1400.37,1054.79 1401.2,1054.47 1402.02,1054.16 1402.85,1053.84 1403.68,1053.53 1404.51,1053.22 1405.34,1052.91 1406.17,1052.6 1407,1052.29 1407.82,1051.98 1408.65,1051.67 1409.48,1051.37 1410.31,1051.06 1411.14,1050.75 1411.97,1050.45 1412.8,1050.14 1413.63,1049.83 1414.45,1049.53 1415.28,1049.22 1416.11,1048.91 1416.94,1048.6 1417.77,1048.29 1418.6,1047.98 1419.43,1047.66 1420.25,1047.35 1421.08,1047.03 1421.91,1046.71 1422.74,1046.39 1423.57,1046.07 1424.4,1045.74 1425.23,1045.41 1426.05,1045.08 1426.88,1044.75 1427.71,1044.41 1428.54,1044.07 1429.37,1043.73 1430.2,1043.38 1431.03,1043.03 1431.86,1042.68 1432.68,1042.32 1433.51,1041.96 1434.34,1041.59 1435.17,1041.22 1436,1040.85 1436.83,1040.47 1437.66,1040.08 1438.48,1039.7 1439.31,1039.3 1440.14,1038.9 1440.97,1038.5 1441.8,1038.08 1442.63,1037.67 1443.46,1037.25 1444.28,1036.82 1445.11,1036.38 1445.94,1035.94 1446.77,1035.49 1447.6,1035.04 1448.43,1034.58 1449.26,1034.11 1450.09,1033.63 1450.91,1033.15 1451.74,1032.66 1452.57,1032.16 1453.4,1031.66" stroke="#43A843" fill="none" stroke-width="4.8" stroke-linejoin="round" stroke-linecap="round"/>
<polyline points="1123.6,1017.56 1124.43,1017.82 1125.26,1018.08 1126.09,1018.34 1126.91,1018.6 1127.74,1018.86 1128.57,1019.12 1129.4,1019.39 1130.23,1019.65 1131.06,1019.91 1131.89,1020.18 1132.72,1020.45 1133.54,1020.71 1134.37,1020.98 1135.2,1021.25 1136.03,1021.52 1136.86,1021.79 1137.69,1022.06 1138.52,1022.34 1139.34,1022.61 1140.17,1022.89 1141,1023.16 1141.83,1023.44 1142.66,1023.72 1143.49,1024 1144.32,1024.29 1145.14,1024.57 1145.97,1024.86 1146.8,1025.14 1147.63,1025.43 1148.46,1025.72 1149.29,1026.01 1150.12,1026.31 1150.95,1026.6 1151.77,1026.9 1152.6,1027.2 1153.43,1027.5 1154.26,1027.8 1155.09,1028.1 1155.92,1028.41 1156.75,1028.72 1157.57,1029.03 1158.4,1029.34 1159.23,1029.66 1160.06,1029.97 1160.89,1030.29 1161.72,1030.61 1162.55,1030.93 1163.37,1031.26 1164.2,1031.59 1165.03,1031.92 1165.86,1032.25 1166.69,1032.58 1167.52,1032.92 1168.35,1033.26 1169.18,1033.6 1170,1033.94 1170.83,1034.29 1171.66,1034.64 1172.49,1034.99 1173.32,1035.35 1174.15,1035.71 1174.98,1036.07 1175.8,1036.43 1176.63,1036.79 1177.46,1037.16 1178.29,1037.53 1179.12,1037.91 1179.95,1038.29 1180.78,1038.67 1181.61,1039.05 1182.43,1039.44 1183.26,1039.83 1184.09,1040.22 1184.92,1040.61 1185.75,1041.01 1186.58,1041.41 1187.41,1041.82 1188.23,1042.23 1189.06,1042.64 1189.89,1043.06 1190.72,1043.48 1191.55,1043.9 1192.38,1044.32 1193.21,1044.75 1194.03,1045.19 1194.86,1045.62 1195.69,1046.06 1196.52,1046.51 1197.35,1046.95 1198.18,1047.41 1199.01,1047.86 1199.84,1048.32 1200.66,1048.78 1201.49,1049.25 1202.32,1049.72 1203.15,1050.19 1203.98,1050.67 1204.81,1051.15 1205.64,1051.64 1206.46,1052.13 1207.29,1052.63 1208.12,1053.12 1208.95,1053.63 1209.78,1054.13 1210.61,1054.65 1211.44,1055.16 1212.26,1055.68 1213.09,1056.21 1213.92,1056.74 1214.75,1057.27 1215.58,1057.81 1216.41,1058.35 1217.24,1058.9 1218.07,1059.45 1218.89,1060 1219.72,1060.56 1220.55,1061.13 1221.38,1061.7 1222.21,1062.28 1223.04,1062.86 1223.87,1063.44 1224.69,1064.03 1225.52,1064.62 1226.35,1065.22 1227.18,1065.83 1228.01,1066.44 1228.84,1067.05 1229.67,1067.67 1230.49,1068.3 1231.32,1068.92 1232.15,1069.56 1232.98,1070.2 1233.81,1070.85 1234.64,1071.5 1235.47,1072.15 1236.3,1072.81 1237.12,1073.48 1237.95,1074.15 1238.78,1074.83 1239.61,1075.51 1240.44,1076.2 1241.27,1076.9 1242.1,1077.6 1242.92,1078.3 1243.75,1079.01 1244.58,1079.73 1245.41,1080.45 1246.24,1081.18 1247.07,1081.92 1247.9,1082.66 1248.73,1083.4 1249.55,1084.16 1250.38,1084.91 1251.21,1085.68 1252.04,1086.45 1252.87,1087.23 1253.7,1088.01 1254.53,1088.8 1255.35,1089.59 1256.18,1090.39 1257.01,1091.2 1257.84,1092.01 1258.67,1092.83 1259.5,1093.66 1260.33,1094.49 1261.15,1095.33 1261.98,1096.18 1262.81,1097.03 1263.64,1097.89 1264.47,1098.75 1265.3,1099.62 1266.13,1100.5 1266.96,1101.39 1267.78,1102.28 1268.61,1103.18 1269.44,1104.08 1270.27,1105 1271.1,1105.92 1271.93,1106.84 1272.76,1107.77 1273.58,1108.71 1274.41,1109.66 1275.24,1110.62 1276.07,1111.58 1276.9,1112.54 1277.73,1113.52 1278.56,1114.5 1279.38,1115.49 1280.21,1116.49 1281.04,1117.49 1281.87,1118.5 1282.7,1119.52 1283.53,1120.55 1284.36,1121.58 1285.19,1122.63 1286.01,1123.67 1286.84,1124.73 1287.67,1125.79 1288.5,1126.87" stroke="#3079C0" fill="none" stroke-width="4.8" stroke-linejoin="round" stroke-linecap="round"/>
<polyline points="1123.63,1017.46 1126.65,1018.99 1129.35,1020.52 1131.76,1022.05 1133.92,1023.57 1135.88,1025.1 1137.67,1026.63 1139.32,1028.16 1140.88,1029.69 1142.39,1031.22 1143.88,1032.74 1145.39,1034.27 1146.96,1035.8 1148.62,1037.33 1150.36,1038.86 1152.19,1040.38 1154.08,1041.91 1156.02,1043.44 1158.02,1044.97 1160.05,1046.5 1162.12,1048.02 1164.2,1049.55 1166.3,1051.08 1168.39,1052.61 1170.48,1054.14 1172.55,1055.67 1174.59,1057.19 1176.6,1058.72 1178.56,1060.25 1180.46,1061.78 1182.3,1063.31 1184.07,1064.83 1185.77,1066.36 1187.41,1067.89 1188.98,1069.42 1190.5,1070.95 1191.96,1072.48 1193.36,1074 1194.71,1075.53 1196.02,1077.06 1197.27,1078.59 1198.48,1080.12 1199.65,1081.64 1200.77,1083.17 1201.85,1084.7 1202.9,1086.23 1203.9,1087.76 1204.87,1089.28 1205.81,1090.81 1206.71,1092.34 1207.58,1093.87 1208.41,1095.4 1209.22,1096.93 1210.01,1098.45 1210.76,1099.98 1211.5,1101.51 1212.21,1103.04 1212.9,1104.57 1213.57,1106.09 1214.22,1107.62 1214.86,1109.15 1215.48,1110.68 1216.09,1112.21 1216.68,1113.74 1217.26,1115.26 1217.83,1116.79 1218.38,1118.32 1218.92,1119.85 1219.45,1121.38 1219.96,1122.9 1220.47,1124.43 1220.96,1125.96 1221.43,1127.49 1221.9,1129.02 1222.36,1130.54 1222.8,1132.07 1223.23,1133.6 1223.65,1135.13 1224.06,1136.66 1224.46,1138.19 1224.85,1139.71 1225.23,1141.24 1225.6,1142.77 1225.96,1144.3 1226.31,1145.83 1226.65,1147.35 1226.98,1148.88 1227.3,1150.41 1227.62,1151.94 1227.92,1153.47 1228.22,1155 1228.51,1156.52 1228.79,1158.05 1229.07,1159.58 1229.33,1161.11 1229.59,1162.64 1229.85,1164.16 1230.09,1165.69 1230.33,1167.22 1230.57,1168.75 1230.79,1170.28 1231.02,1171.8 1231.23,1173.33 1231.44,1174.86 1231.65,1176.39 1231.85,1177.92 1232.04,1179.45 1232.24,1180.97 1232.42,1182.5 1232.6,1184.03 1232.78,1185.56 1232.96,1187.09 1233.13,1188.61 1233.3,1190.14 1233.46,1191.67 1233.63,1193.2 1233.79,1194.73 1233.94,1196.26 1234.1,1197.78 1234.25,1199.31 1234.4,1200.84 1234.55,1202.37 1234.7,1203.9 1234.85,1205.42 1235,1206.95 1235.14,1208.48 1235.29,1210.01 1235.43,1211.54 1235.58,1213.06 1235.72,1214.59 1235.87,1216.12 1236.01,1217.65 1236.16,1219.18 1236.31,1220.71 1236.46,1222.23 1236.61,1223.76 1236.76,1225.29 1236.92,1226.82 1237.07,1228.35 1237.23,1229.87 1237.39,1231.4 1237.55,1232.93 1237.72,1234.46 1237.89,1235.99 1238.06,1237.52 1238.24,1239.04 1238.42,1240.57 1238.61,1242.1 1238.79,1243.63 1238.99,1245.16 1239.34,1245.16 1239.55,1244.36 1239.76,1243.56 1239.97,1242.77 1240.18,1241.97 1240.4,1241.18 1240.61,1240.38 1240.82,1239.59 1241.03,1238.79 1241.24,1237.99 1241.46,1237.2 1241.67,1236.4 1241.88,1235.61 1242.1,1234.81 1242.31,1234.02 1242.53,1233.22 1242.74,1232.43 1242.96,1231.63 1243.17,1230.83 1243.39,1230.04 1243.61,1229.24 1243.83,1228.45 1244.05,1227.65 1244.27,1226.86 1244.49,1226.06 1244.71,1225.26 1244.93,1224.47 1245.16,1223.67 1245.38,1222.88 1245.61,1222.08 1245.83,1221.29 1246.06,1220.49 1246.29,1219.69 1246.52,1218.9 1246.75,1218.1 1246.98,1217.31 1247.21,1216.51 1247.45,1215.72 1247.68,1214.92 1247.92,1214.12 1248.16,1213.33 1248.39,1212.53 1248.63,1211.74 1248.88,1210.94 1249.12,1210.15 1249.36,1209.35 1249.61,1208.55 1249.86,1207.76 1250.11,1206.96 1250.36,1206.17 1250.61,1205.37 1250.86,1204.58 1251.12,1203.78 1251.37,1202.99 1251.63,1202.19 1251.89,1201.39 1252.16,1200.6 1252.42,1199.8 1252.69,1199.01 1252.95,1198.21 1253.22,1197.42 1253.5,1196.62 1253.77,1195.82 1254.04,1195.03 1254.32,1194.23 1254.6,1193.44 1254.88,1192.64 1255.17,1191.85 1255.45,1191.05 1255.74,1190.25 1256.03,1189.46 1256.32,1188.66 1256.62,1187.87 1256.92,1187.07 1257.21,1186.28 1257.52,1185.48 1257.82,1184.68 1258.13,1183.89 1258.44,1183.09 1258.75,1182.3 1259.06,1181.5 1259.38,1180.71 1259.7,1179.91 1260.02,1179.11 1260.34,1178.32 1260.67,1177.52 1261,1176.73 1261.33,1175.93 1261.67,1175.14 1262.01,1174.34 1262.35,1173.54 1262.69,1172.75 1263.04,1171.95 1263.39,1171.16 1263.74,1170.36 1264.09,1169.57 1264.45,1168.77 1264.81,1167.98 1265.18,1167.18 1265.55,1166.38 1265.92,1165.59 1266.29,1164.79 1266.67,1164 1267.05,1163.2 1267.43,1162.41 1267.82,1161.61 1268.21,1160.81 1268.6,1160.02 1269,1159.22 1269.4,1158.43 1269.8,1157.63 1270.21,1156.84 1270.62,1156.04 1271.04,1155.24 1271.45,1154.45 1271.88,1153.65 1272.3,1152.86 1272.73,1152.06 1273.16,1151.27 1273.6,1150.47 1274.04,1149.67 1274.48,1148.88 1274.93,1148.08 1275.38,1147.29 1275.84,1146.49 1276.29,1145.7 1276.76,1144.9 1277.22,1144.1 1277.7,1143.31 1278.17,1142.51 1278.65,1141.72 1279.13,1140.92 1279.62,1140.13 1280.11,1139.33 1280.61,1138.54 1281.11,1137.74 1281.61,1136.94 1282.12,1136.15 1282.63,1135.35 1283.15,1134.56 1283.67,1133.76 1284.2,1132.97 1284.73,1132.17 1285.26,1131.37 1285.8,1130.58 1286.34,1129.78 1286.89,1128.99 1287.44,1128.19 1288,1127.4 1288.56,1126.6" stroke="#3079C0" fill="none" stroke-width="4.8" stroke-linejoin="round" stroke-linecap="round"/>
<polyline points="1288.44,1126.6 1289,1127.4 1289.56,1128.19 1290.11,1128.99 1290.66,1129.78 1291.2,1130.58 1291.74,1131.37 1292.27,1132.17 1292.8,1132.97 1293.33,1133.76 1293.85,1134.56 1294.37,1135.35 1294.88,1136.15 1295.39,1136.94 1295.89,1137.74 1296.39,1138.54 1296.89,1139.33 1297.38,1140.13 1297.87,1140.92 1298.35,1141.72 1298.83,1142.51 1299.3,1143.31 1299.78,1144.1 1300.24,1144.9 1300.71,1145.7 1301.16,1146.49 1301.62,1147.29 1302.07,1148.08 1302.52,1148.88 1302.96,1149.67 1303.4,1150.47 1303.84,1151.27 1304.27,1152.06 1304.7,1152.86 1305.12,1153.65 1305.55,1154.45 1305.96,1155.24 1306.38,1156.04 1306.79,1156.84 1307.2,1157.63 1307.6,1158.43 1308,1159.22 1308.4,1160.02 1308.79,1160.81 1309.18,1161.61 1309.57,1162.41 1309.95,1163.2 1310.33,1164 1310.71,1164.79 1311.08,1165.59 1311.45,1166.38 1311.82,1167.18 1312.19,1167.98 1312.55,1168.77 1312.91,1169.57 1313.26,1170.36 1313.61,1171.16 1313.96,1171.95 1314.31,1172.75 1314.65,1173.54 1314.99,1174.34 1315.33,1175.14 1315.67,1175.93 1316,1176.73 1316.33,1177.52 1316.66,1178.32 1316.98,1179.11 1317.3,1179.91 1317.62,1180.71 1317.94,1181.5 1318.25,1182.3 1318.56,1183.09 1318.87,1183.89 1319.18,1184.68 1319.48,1185.48 1319.79,1186.28 1320.08,1187.07 1320.38,1187.87 1320.68,1188.66 1320.97,1189.46 1321.26,1190.25 1321.55,1191.05 1321.83,1191.85 1322.12,1192.64 1322.4,1193.44 1322.68,1194.23 1322.96,1195.03 1323.23,1195.82 1323.5,1196.62 1323.78,1197.42 1324.05,1198.21 1324.31,1199.01 1324.58,1199.8 1324.84,1200.6 1325.11,1201.39 1325.37,1202.19 1325.63,1202.99 1325.88,1203.78 1326.14,1204.58 1326.39,1205.37 1326.64,1206.17 1326.89,1206.96 1327.14,1207.76 1327.39,1208.55 1327.64,1209.35 1327.88,1210.15 1328.12,1210.94 1328.37,1211.74 1328.61,1212.53 1328.84,1213.33 1329.08,1214.12 1329.32,1214.92 1329.55,1215.72 1329.79,1216.51 1330.02,1217.31 1330.25,1218.1 1330.48,1218.9 1330.71,1219.69 1330.94,1220.49 1331.17,1221.29 1331.39,1222.08 1331.62,1222.88 1331.84,1223.67 1332.07,1224.47 1332.29,1225.26 1332.51,1226.06 1332.73,1226.86 1332.95,1227.65 1333.17,1228.45 1333.39,1229.24 1333.61,1230.04 1333.83,1230.83 1334.04,1231.63 1334.26,1232.43 1334.47,1233.22 1334.69,1234.02 1334.9,1234.81 1335.12,1235.61 1335.33,1236.4 1335.54,1237.2 1335.76,1237.99 1335.97,1238.79 1336.18,1239.59 1336.39,1240.38 1336.6,1241.18 1336.82,1241.97 1337.03,1242.77 1337.24,1243.56 1337.45,1244.36 1337.66,1245.16 1338.01,1245.16 1338.21,1243.63 1338.39,1242.1 1338.58,1240.57 1338.76,1239.04 1338.94,1237.52 1339.11,1235.99 1339.28,1234.46 1339.45,1232.93 1339.61,1231.4 1339.77,1229.87 1339.93,1228.35 1340.08,1226.82 1340.24,1225.29 1340.39,1223.76 1340.54,1222.23 1340.69,1220.71 1340.84,1219.18 1340.99,1217.65 1341.13,1216.12 1341.28,1214.59 1341.42,1213.06 1341.57,1211.54 1341.71,1210.01 1341.86,1208.48 1342,1206.95 1342.15,1205.42 1342.3,1203.9 1342.45,1202.37 1342.6,1200.84 1342.75,1199.31 1342.9,1197.78 1343.06,1196.26 1343.21,1194.73 1343.37,1193.2 1343.54,1191.67 1343.7,1190.14 1343.87,1188.61 1344.04,1187.09 1344.22,1185.56 1344.4,1184.03 1344.58,1182.5 1344.76,1180.97 1344.96,1179.45 1345.15,1177.92 1345.35,1176.39 1345.56,1174.86 1345.77,1173.33 1345.98,1171.8 1346.21,1170.28 1346.43,1168.75 1346.67,1167.22 1346.91,1165.69 1347.15,1164.16 1347.41,1162.64 1347.67,1161.11 1347.93,1159.58 1348.21,1158.05 1348.49,1156.52 1348.78,1155 1349.08,1153.47 1349.38,1151.94 1349.7,1150.41 1350.02,1148.88 1350.35,1147.35 1350.69,1145.83 1351.04,1144.3 1351.4,1142.77 1351.77,1141.24 1352.15,1139.71 1352.54,1138.19 1352.94,1136.66 1353.35,1135.13 1353.77,1133.6 1354.2,1132.07 1354.64,1130.54 1355.1,1129.02 1355.57,1127.49 1356.04,1125.96 1356.53,1124.43 1357.04,1122.9 1357.55,1121.38 1358.08,1119.85 1358.62,1118.32 1359.17,1116.79 1359.74,1115.26 1360.32,1113.74 1360.91,1112.21 1361.52,1110.68 1362.14,1109.15 1362.78,1107.62 1363.43,1106.09 1364.1,1104.57 1364.79,1103.04 1365.5,1101.51 1366.24,1099.98 1366.99,1098.45 1367.78,1096.93 1368.59,1095.4 1369.42,1093.87 1370.29,1092.34 1371.19,1090.81 1372.13,1089.28 1373.1,1087.76 1374.1,1086.23 1375.15,1084.7 1376.23,1083.17 1377.35,1081.64 1378.52,1080.12 1379.73,1078.59 1380.98,1077.06 1382.29,1075.53 1383.64,1074 1385.04,1072.48 1386.5,1070.95 1388.02,1069.42 1389.59,1067.89 1391.23,1066.36 1392.93,1064.83 1394.7,1063.31 1396.54,1061.78 1398.44,1060.25 1400.4,1058.72 1402.41,1057.19 1404.45,1055.67 1406.52,1054.14 1408.61,1052.61 1410.7,1051.08 1412.8,1049.55 1414.88,1048.02 1416.95,1046.5 1418.98,1044.97 1420.98,1043.44 1422.92,1041.91 1424.81,1040.38 1426.64,1038.86 1428.38,1037.33 1430.04,1035.8 1431.61,1034.27 1433.12,1032.74 1434.61,1031.22 1436.12,1029.69 1437.68,1028.16 1439.33,1026.63 1441.12,1025.1 1443.08,1023.57 1445.24,1022.05 1447.65,1020.52 1450.35,1018.99 1453.37,1017.46" stroke="#3079C0" fill="none" stroke-width="4.8" stroke-linejoin="round" stroke-linecap="round"/>
<polyline points="1288.5,1126.87 1289.33,1125.79 1290.16,1124.73 1290.99,1123.67 1291.81,1122.63 1292.64,1121.58 1293.47,1120.55 1294.3,1119.52 1295.13,1118.5 1295.96,1117.49 1296.79,1116.49 1297.62,1115.49 1298.44,1114.5 1299.27,1113.52 1300.1,1112.54 1300.93,1111.58 1301.76,1110.62 1302.59,1109.66 1303.42,1108.71 1304.24,1107.77 1305.07,1106.84 1305.9,1105.92 1306.73,1105 1307.56,1104.08 1308.39,1103.18 1309.22,1102.28 1310.04,1101.39 1310.87,1100.5 1311.7,1099.62 1312.53,1098.75 1313.36,1097.89 1314.19,1097.03 1315.02,1096.18 1315.85,1095.33 1316.67,1094.49 1317.5,1093.66 1318.33,1092.83 1319.16,1092.01 1319.99,1091.2 1320.82,1090.39 1321.65,1089.59 1322.47,1088.8 1323.3,1088.01 1324.13,1087.23 1324.96,1086.45 1325.79,1085.68 1326.62,1084.91 1327.45,1084.16 1328.27,1083.4 1329.1,1082.66 1329.93,1081.92 1330.76,1081.18 1331.59,1080.45 1332.42,1079.73 1333.25,1079.01 1334.08,1078.3 1334.9,1077.6 1335.73,1076.9 1336.56,1076.2 1337.39,1075.51 1338.22,1074.83 1339.05,1074.15 1339.88,1073.48 1340.7,1072.81 1341.53,1072.15 1342.36,1071.5 1343.19,1070.85 1344.02,1070.2 1344.85,1069.56 1345.68,1068.92 1346.51,1068.3 1347.33,1067.67 1348.16,1067.05 1348.99,1066.44 1349.82,1065.83 1350.65,1065.22 1351.48,1064.62 1352.31,1064.03 1353.13,1063.44 1353.96,1062.86 1354.79,1062.28 1355.62,1061.7 1356.45,1061.13 1357.28,1060.56 1358.11,1060 1358.93,1059.45 1359.76,1058.9 1360.59,1058.35 1361.42,1057.81 1362.25,1057.27 1363.08,1056.74 1363.91,1056.21 1364.74,1055.68 1365.56,1055.16 1366.39,1054.65 1367.22,1054.13 1368.05,1053.63 1368.88,1053.12 1369.71,1052.63 1370.54,1052.13 1371.36,1051.64 1372.19,1051.15 1373.02,1050.67 1373.85,1050.19 1374.68,1049.72 1375.51,1049.25 1376.34,1048.78 1377.16,1048.32 1377.99,1047.86 1378.82,1047.41 1379.65,1046.95 1380.48,1046.51 1381.31,1046.06 1382.14,1045.62 1382.97,1045.19 1383.79,1044.75 1384.62,1044.32 1385.45,1043.9 1386.28,1043.48 1387.11,1043.06 1387.94,1042.64 1388.77,1042.23 1389.59,1041.82 1390.42,1041.41 1391.25,1041.01 1392.08,1040.61 1392.91,1040.22 1393.74,1039.83 1394.57,1039.44 1395.39,1039.05 1396.22,1038.67 1397.05,1038.29 1397.88,1037.91 1398.71,1037.53 1399.54,1037.16 1400.37,1036.79 1401.2,1036.43 1402.02,1036.07 1402.85,1035.71 1403.68,1035.35 1404.51,1034.99 1405.34,1034.64 1406.17,1034.29 1407,1033.94 1407.82,1033.6 1408.65,1033.26 1409.48,1032.92 1410.31,1032.58 1411.14,1032.25 1411.97,1031.92 1412.8,1031.59 1413.63,1031.26 1414.45,1030.93 1415.28,1030.61 1416.11,1030.29 1416.94,1029.97 1417.77,1029.66 1418.6,1029.34 1419.43,1029.03 1420.25,1028.72 1421.08,1028.41 1421.91,1028.1 1422.74,1027.8 1423.57,1027.5 1424.4,1027.2 1425.23,1026.9 1426.05,1026.6 1426.88,1026.31 1427.71,1026.01 1428.54,1025.72 1429.37,1025.43 1430.2,1025.14 1431.03,1024.86 1431.86,1024.57 1432.68,1024.29 1433.51,1024 1434.34,1023.72 1435.17,1023.44 1436,1023.16 1436.83,1022.89 1437.66,1022.61 1438.48,1022.34 1439.31,1022.06 1440.14,1021.79 1440.97,1021.52 1441.8,1021.25 1442.63,1020.98 1443.46,1020.71 1444.28,1020.45 1445.11,1020.18 1445.94,1019.91 1446.77,1019.65 1447.6,1019.39 1448.43,1019.12 1449.26,1018.86 1450.09,1018.6 1450.91,1018.34 1451.74,1018.08 1452.57,1017.82 1453.4,1017.56" stroke="#3079C0" fill="none" stroke-width="4.8" stroke-linejoin="round" stroke-linecap="round"/>
</g>
<rect x="1082" y="960.6" width="413.1" height="332" fill="none" stroke="#2b2b2b" stroke-width="1.4"/>
<path d="M1082.38,1292.6v3.2M1123.6,1292.6v6.3M1164.83,1292.6v3.2M1206.05,1292.6v6.3M1247.28,1292.6v3.2M1288.5,1292.6v6.3M1329.72,1292.6v3.2M1370.95,1292.6v6.3M1412.17,1292.6v3.2M1453.4,1292.6v6.3M1494.62,1292.6v3.2M1082,1015.8h-6.3M1082,1126.6h-6.3M1082,1237.4h-6.3M1082,960.4h-3.2M1082,1071.2h-3.2M1082,1182h-3.2M1082,1292.8h-3.2" stroke="#2b2b2b" stroke-width="1.4" fill="none"/>
<text x="1123.6" y="1321.1" font-size="21.5" text-anchor="middle" transform="matrix(1,0,0,1.1,0,-132.11)">-2</text>
<text x="1206.05" y="1321.1" font-size="21.5" text-anchor="middle" transform="matrix(1,0,0,1.1,0,-132.11)">-1</text>
<text x="1288.5" y="1321.1" font-size="21.5" text-anchor="middle" transform="matrix(1,0,0,1.1,0,-132.11)">0</text>
<text x="1370.95" y="1321.1" font-size="21.5" text-anchor="middle" transform="matrix(1,0,0,1.1,0,-132.11)">1</text>
<text x="1453.4" y="1321.1" font-size="21.5" text-anchor="middle" transform="matrix(1,0,0,1.1,0,-132.11)">2</text>
<text x="1070.5" y="1023" font-size="21.5" text-anchor="end" transform="matrix(1,0,0,1.1,0,-102.3)">0.1</text>
<text x="1070.5" y="1133.8" font-size="21.5" text-anchor="end" transform="matrix(1,0,0,1.1,0,-113.38)">0.0</text>
<text x="1070.5" y="1244.6" font-size="21.5" text-anchor="end" transform="matrix(1,0,0,1.1,0,-124.46)">-0.1</text>
<text transform="translate(1028.3,1113.5) rotate(-90)" font-size="28" text-anchor="middle"><tspan font-style="italic">S</tspan> (%)</text>
<text x="1210.5" y="1361.3" font-size="29" transform="matrix(1,0,0,1.06,0,-81.68)"><tspan font-style="italic">E</tspan> (kV mm<tspan font-size="18.5" dy="-10.5">&#8722;1</tspan><tspan dy="10.5">)</tspan></text>
<text x="1414" y="1213.8" font-size="26" font-weight="bold" fill="#E00A0A" transform="matrix(1,0,0,1.07,0,-84.97)">0.002</text>
<text x="1414" y="1246.8" font-size="26" font-weight="bold" fill="#2166B6" transform="matrix(1,0,0,1.07,0,-87.28)">0.006</text>
<text x="1414" y="1279.5" font-size="26" font-weight="bold" fill="#30A030" transform="matrix(1,0,0,1.07,0,-89.57)">0.008</text>
<text x="1019" y="959.5" font-size="42" font-weight="bold" transform="translate(1019,0) scale(1.0,1) translate(-1019,0)">f</text>
<text x="322.8" y="914.8" font-size="37.7" font-weight="bold" >Calculated from diffraction</text>
<text x="1068.5" y="911.2" font-size="37.6" font-weight="bold" >Macroscopic properties</text>
</svg>
</body></html>
